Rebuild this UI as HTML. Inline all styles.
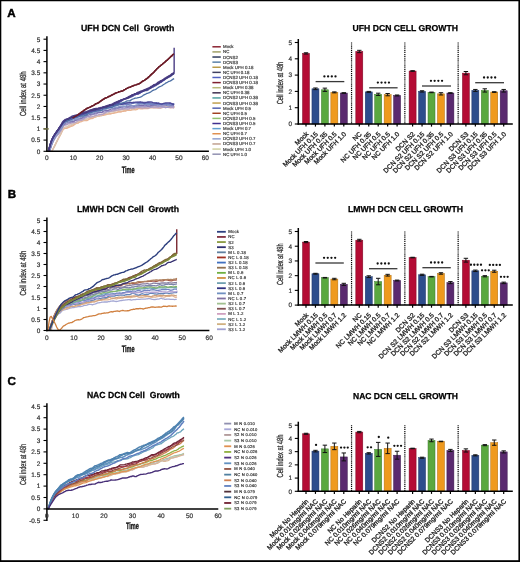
<!DOCTYPE html><html><head><meta charset="utf-8"><style>html,body{margin:0;padding:0;background:#fff;}svg{display:block}text{font-family:"Liberation Sans", sans-serif;text-rendering:geometricPrecision}</style></head><body>
<svg width="520" height="562" viewBox="0 0 520 562" style="will-change:transform">
<rect x="0" y="0" width="520" height="562" fill="#fff"/>
<text x="7.3" y="17.1" font-size="11.6" font-weight="bold" fill="#000" stroke="#000" stroke-width="0.45">A</text>
<text x="7.7" y="198.2" font-size="11.6" font-weight="bold" fill="#000" stroke="#000" stroke-width="0.45">B</text>
<text x="7.6" y="385" font-size="11.6" font-weight="bold" fill="#000" stroke="#000" stroke-width="0.45">C</text>
<path d="M49.28 151.33 L50.33 146.69 L51.39 142.81 L52.44 140.01 L53.5 137.9 L54.56 136.18 L55.61 134.48 L56.67 132.89 L57.72 131.37 L58.78 129.98 L59.84 128.89 L60.89 127.63 L61.95 126.33 L63 125.12 L64.06 124.16 L65.12 123.27 L66.17 122.43 L67.23 121.59 L68.28 120.79 L69.34 120.2 L70.4 119.55 L71.45 118.74 L72.51 118.08 L73.56 117.5 L74.62 116.78 L75.68 116.13 L76.73 115.53 L77.79 114.81 L78.84 114.01 L79.9 113.33 L80.96 112.66 L82.01 111.79 L83.07 111.08 L84.12 110.24 L85.18 109.6 L86.24 108.9 L87.29 108.26 L88.35 107.83 L89.4 107.42 L90.46 106.99 L91.52 106.29 L92.57 105.84 L93.63 105.39 L94.68 104.66 L95.74 103.82 L96.8 103.51 L97.85 103.06 L98.91 102.48 L99.96 101.73 L101.02 100.94 L102.08 100.21 L103.13 99.48 L104.19 98.76 L105.24 98.12 L106.3 97.7 L107.36 97.34 L108.41 96.71 L109.47 96.24 L110.52 95.84 L111.58 95.22 L112.64 94.64 L113.69 94.22 L114.75 93.54 L115.8 93.06 L116.86 92.63 L117.92 92.36 L118.97 91.77 L120.03 91.62 L121.08 91.31 L122.14 91.07 L123.2 90.57 L124.25 89.81 L125.31 89.38 L126.36 88.63 L127.42 88.18 L128.48 87.58 L129.53 87.3 L130.59 86.93 L131.64 86.34 L132.7 85.98 L133.76 85.57 L134.81 85.12 L135.87 84.87 L136.92 84.52 L137.98 84.15 L139.04 83.81 L140.09 83.15 L141.15 82.34 L142.2 81.52 L143.26 80.9 L144.32 80.34 L145.37 79.61 L146.43 78.81 L147.48 78.11 L148.54 77.19 L149.6 76.28 L150.65 75.09 L151.71 74.11 L152.76 73.23 L153.82 72.31 L154.88 71.07 L155.93 69.93 L156.99 68.74 L158.04 67.82 L159.1 66.68 L160.16 66.05 L161.21 65.06 L162.27 64.24 L163.32 63.37 L164.38 62.52 L165.44 61.61 L166.49 60.57 L167.55 59.78 L168.6 58.73 L169.66 57.75 L170.72 56.66 L171.77 55.85 L172.83 54.78 L173.88 53.84" fill="none" stroke="#6c1c28" stroke-width="1.5" stroke-linejoin="round" opacity="1"/>
<path d="M51.92 151.32 L52.97 149.15 L54.03 147.01 L55.08 144.74 L56.14 142.63 L57.2 140.65 L58.25 138.51 L59.31 136.72 L60.36 134.96 L61.42 132.81 L62.48 130.64 L63.53 129.36 L64.59 128.49 L65.64 128.07 L66.7 127.95 L67.76 127.17 L68.81 126.6 L69.87 125.94 L70.92 125.64 L71.98 125.15 L73.04 124.52 L74.09 124.01 L75.15 123.25 L76.2 123.26 L77.26 123.14 L78.32 123 L79.37 121.92 L80.43 121.08 L81.48 120.65 L82.54 120.44 L83.6 120.25 L84.65 119.82 L85.71 119.72 L86.76 119.01 L87.82 118.85 L88.88 118.72 L89.93 118.61 L90.99 118.11 L92.04 118.13 L93.1 117.6 L94.16 117.12 L95.21 117.03 L96.27 116.54 L97.32 116.33 L98.38 115.83 L99.44 115.58 L100.49 115.41 L101.55 115.67 L102.6 115.28 L103.66 114.88 L104.72 114.46 L105.77 114.21 L106.83 113.97 L107.88 113.75 L108.94 113.77 L110 113.78 L111.05 113.7 L112.11 113.43 L113.16 113.2 L114.22 112.73 L115.28 112.23 L116.33 112.05 L117.39 111.9 L118.44 111.65 L119.5 111.76 L120.56 111.87 L121.61 111.55 L122.67 111.28 L123.72 110.76 L124.78 110.67 L125.84 110.51 L126.89 110.39 L127.95 109.96 L129 109.77 L130.06 110.08 L131.12 109.97 L132.17 109.74 L133.23 109.8 L134.28 109.38 L135.34 109.04 L136.4 108.66 L137.45 108.33 L138.51 108.2 L139.56 108.01 L140.62 108.2 L141.68 108.17 L142.73 108.42 L143.79 108.31 L144.84 108.04 L145.9 107.93 L146.96 107.55 L148.01 107.34 L149.07 107.14 L150.12 107.09 L151.18 107.07 L152.24 107.31 L153.29 107.5 L154.35 107.43 L155.4 107.26 L156.46 107.19 L157.52 107.04 L158.57 106.9 L159.63 106.84 L160.68 107.07 L161.74 107.41 L162.8 107.34 L163.85 107.38 L164.91 107.37 L165.96 107.31 L167.02 107.26 L168.08 107.09 L169.13 106.8 L170.19 106.95 L171.24 106.81 L172.3 106.65 L173.36 106.84 L174.41 106.82" fill="none" stroke="#e6c0a4" stroke-width="1.3" stroke-linejoin="round" opacity="1"/>
<path d="M51.92 151.39 L52.97 149.24 L54.03 147.14 L55.08 145.1 L56.14 142.98 L57.2 140.89 L58.25 138.94 L59.31 136.88 L60.36 134.84 L61.42 132.69 L62.48 130.27 L63.53 128.62 L64.59 128.43 L65.64 128.41 L66.7 128.36 L67.76 127.78 L68.81 127.45 L69.87 126.98 L70.92 126.49 L71.98 126.21 L73.04 125.64 L74.09 124.87 L75.15 124.07 L76.2 123.44 L77.26 123.07 L78.32 122.61 L79.37 122.18 L80.43 121.93 L81.48 121.57 L82.54 121.04 L83.6 120.55 L84.65 120.55 L85.71 120.52 L86.76 120.72 L87.82 120.1 L88.88 119.33 L89.93 118.8 L90.99 118.65 L92.04 118.53 L93.1 118.11 L94.16 117.43 L95.21 117.03 L96.27 116.65 L97.32 116.38 L98.38 116.22 L99.44 116.17 L100.49 115.61 L101.55 115.55 L102.6 115.42 L103.66 115.25 L104.72 114.97 L105.77 114.86 L106.83 114.25 L107.88 114.08 L108.94 113.92 L110 113.62 L111.05 113.74 L112.11 113.48 L113.16 113.27 L114.22 113.15 L115.28 112.9 L116.33 112.63 L117.39 112.33 L118.44 111.95 L119.5 111.88 L120.56 111.77 L121.61 111.55 L122.67 111.19 L123.72 111.27 L124.78 110.99 L125.84 110.99 L126.89 110.46 L127.95 110.38 L129 110.21 L130.06 110.27 L131.12 110.08 L132.17 109.51 L133.23 109.17 L134.28 109.55 L135.34 109.84 L136.4 109.69 L137.45 109.28 L138.51 108.51 L139.56 108.67 L140.62 108.76 L141.68 108.81 L142.73 108.91 L143.79 108.71 L144.84 108.32 L145.9 108.53 L146.96 108.62 L148.01 108.65 L149.07 108.21 L150.12 107.96 L151.18 107.88 L152.24 107.93 L153.29 107.85 L154.35 107.78 L155.4 107.81 L156.46 107.59 L157.52 107.98 L158.57 107.98 L159.63 107.91 L160.68 107.79 L161.74 107.79 L162.8 107.45 L163.85 107.11 L164.91 106.91 L165.96 107.01 L167.02 107.15 L168.08 107.39 L169.13 107.7 L170.19 107.74 L171.24 107.62 L172.3 107.66 L173.36 107.3 L174.41 107.32" fill="none" stroke="#e8b494" stroke-width="1.3" stroke-linejoin="round" opacity="1"/>
<path d="M51.92 150.9 L52.97 148.97 L54.03 147.18 L55.08 145.37 L56.14 142.94 L57.2 140.44 L58.25 138.29 L59.31 136.28 L60.36 134.43 L61.42 131.97 L62.48 129.69 L63.53 127.95 L64.59 127.4 L65.64 126.91 L66.7 126.77 L67.76 126.15 L68.81 125.47 L69.87 124.85 L70.92 124.71 L71.98 124.45 L73.04 123.9 L74.09 123.43 L75.15 123.09 L76.2 122.83 L77.26 122.05 L78.32 121.54 L79.37 121.17 L80.43 120.71 L81.48 120.16 L82.54 120.13 L83.6 119.93 L84.65 119.44 L85.71 119.15 L86.76 118.79 L87.82 118.42 L88.88 117.89 L89.93 117.43 L90.99 117.39 L92.04 117.07 L93.1 116.59 L94.16 116.51 L95.21 116.55 L96.27 116.36 L97.32 115.98 L98.38 115.8 L99.44 115.65 L100.49 115.38 L101.55 115.31 L102.6 114.43 L103.66 113.82 L104.72 113.38 L105.77 113.3 L106.83 113.63 L107.88 113.17 L108.94 112.68 L110 112.17 L111.05 111.93 L112.11 111.92 L113.16 111.96 L114.22 111.37 L115.28 110.98 L116.33 110.67 L117.39 110.18 L118.44 110.35 L119.5 110.15 L120.56 110.22 L121.61 110.03 L122.67 109.72 L123.72 109.38 L124.78 109.19 L125.84 109.24 L126.89 109.65 L127.95 109.48 L129 109.04 L130.06 108.3 L131.12 108.54 L132.17 108.88 L133.23 109.08 L134.28 108.36 L135.34 108.25 L136.4 107.8 L137.45 107.62 L138.51 107.45 L139.56 107.42 L140.62 107.39 L141.68 107.4 L142.73 107.58 L143.79 107.04 L144.84 107.21 L145.9 107.26 L146.96 107.27 L148.01 107.29 L149.07 106.96 L150.12 106.96 L151.18 106.71 L152.24 106.67 L153.29 106.26 L154.35 106.03 L155.4 106.28 L156.46 106.17 L157.52 106.4 L158.57 106.44 L159.63 106.59 L160.68 106.83 L161.74 107.03 L162.8 106.86 L163.85 106.59 L164.91 106.37 L165.96 106.41 L167.02 106.71 L168.08 107.16 L169.13 106.94 L170.19 106.47 L171.24 106.6 L172.3 106.7 L173.36 106.47 L174.41 106.7" fill="none" stroke="#d8c4b4" stroke-width="1.3" stroke-linejoin="round" opacity="1"/>
<path d="M49.54 151.54 L50.6 148.13 L51.65 145.07 L52.71 142.55 L53.76 140.45 L54.82 138.79 L55.88 137.21 L56.93 135.89 L57.99 134.76 L59.04 133.67 L60.1 132.17 L61.16 130.51 L62.21 128.57 L63.27 126.5 L64.32 125.36 L65.38 125.15 L66.44 124.86 L67.49 124.29 L68.55 123.96 L69.6 123.65 L70.66 123.28 L71.72 123.02 L72.77 122.71 L73.83 122.71 L74.88 122.61 L75.94 122.24 L77 121.53 L78.05 120.56 L79.11 120.16 L80.16 120.36 L81.22 120.29 L82.28 119.79 L83.33 119.38 L84.39 118.61 L85.44 118.04 L86.5 117.15 L87.56 116.66 L88.61 116.93 L89.67 117.22 L90.72 116.95 L91.78 116.74 L92.84 116.41 L93.89 116.07 L94.95 115.7 L96 115.64 L97.06 115.23 L98.12 114.97 L99.17 114.53 L100.23 114.66 L101.28 114.51 L102.34 114.39 L103.4 113.82 L104.45 113.31 L105.51 112.73 L106.56 111.99 L107.62 111.43 L108.68 111.48 L109.73 111.41 L110.79 111.32 L111.84 111.07 L112.9 111.05 L113.96 110.68 L115.01 110.6 L116.07 110.27 L117.12 110.18 L118.18 109.73 L119.24 109.74 L120.29 109.6 L121.35 109.26 L122.4 109.27 L123.46 109.08 L124.52 108.69 L125.57 108.81 L126.63 108.89 L127.68 109.23 L128.74 108.81 L129.8 108.32 L130.85 107.98 L131.91 107.87 L132.96 108.19 L134.02 108.18 L135.08 107.86 L136.13 107.5 L137.19 107.56 L138.24 107.67 L139.3 107.69 L140.36 107.7 L141.41 108 L142.47 108.22 L143.52 107.94 L144.58 107.71 L145.64 107.75 L146.69 107.8 L147.75 108.14 L148.8 107.85 L149.86 107.54 L150.92 107.18 L151.97 107.25 L153.03 107.36 L154.08 107.7 L155.14 107.39 L156.2 107.52 L157.25 107.38 L158.31 107.49 L159.36 107.81 L160.42 108.05 L161.48 107.39 L162.53 107.11 L163.59 107.27 L164.64 107.46 L165.7 107.76 L166.76 107.39 L167.81 107.47 L168.87 107.21 L169.92 107.27 L170.98 107.55 L172.04 107.42 L173.09 107.67 L174.15 108.24" fill="none" stroke="#b8a0c0" stroke-width="1.3" stroke-linejoin="round" opacity="1"/>
<path d="M49.54 151.5 L50.6 148.06 L51.65 144.9 L52.71 142.21 L53.76 140.03 L54.82 137.93 L55.88 136.25 L56.93 134.91 L57.99 133.53 L59.04 132.27 L60.1 130.96 L61.16 129.38 L62.21 127.58 L63.27 125.57 L64.32 124.77 L65.38 124.44 L66.44 124.27 L67.49 123.72 L68.55 123.05 L69.6 122.55 L70.66 122.17 L71.72 122.07 L72.77 122.19 L73.83 121.71 L74.88 120.91 L75.94 120.26 L77 120.22 L78.05 119.85 L79.11 119.74 L80.16 119.28 L81.22 119.06 L82.28 118.68 L83.33 118.29 L84.39 117.62 L85.44 117.34 L86.5 116.99 L87.56 116.46 L88.61 116.33 L89.67 116.08 L90.72 115.46 L91.78 114.92 L92.84 114.49 L93.89 114.35 L94.95 114.04 L96 114.13 L97.06 113.39 L98.12 112.92 L99.17 112.79 L100.23 112.55 L101.28 112.58 L102.34 112.38 L103.4 112.03 L104.45 112.04 L105.51 111.78 L106.56 111.68 L107.62 111.65 L108.68 111.31 L109.73 110.97 L110.79 110.87 L111.84 110.3 L112.9 109.77 L113.96 109.59 L115.01 109.33 L116.07 109.25 L117.12 108.64 L118.18 108.27 L119.24 108.04 L120.29 107.98 L121.35 108.18 L122.4 108.3 L123.46 108.13 L124.52 107.98 L125.57 107.76 L126.63 107.71 L127.68 107.77 L128.74 107.66 L129.8 107.49 L130.85 107.19 L131.91 107.62 L132.96 107.64 L134.02 107.61 L135.08 107.04 L136.13 106.54 L137.19 106.5 L138.24 106.73 L139.3 106.98 L140.36 106.69 L141.41 106.63 L142.47 106.56 L143.52 106.57 L144.58 106.52 L145.64 106.2 L146.69 106.33 L147.75 106.28 L148.8 106.26 L149.86 106.86 L150.92 107.01 L151.97 106.64 L153.03 106.19 L154.08 105.96 L155.14 105.97 L156.2 106.14 L157.25 106.23 L158.31 106.17 L159.36 106.23 L160.42 106.24 L161.48 106.47 L162.53 106.56 L163.59 106.96 L164.64 106.98 L165.7 107.33 L166.76 107.37 L167.81 107.36 L168.87 107.1 L169.92 106.96 L170.98 106.97 L172.04 106.55 L173.09 106.55 L174.15 106.65" fill="none" stroke="#a098c8" stroke-width="1.3" stroke-linejoin="round" opacity="1"/>
<path d="M49.54 151.34 L50.6 147.75 L51.65 144.47 L52.71 141.67 L53.76 139.43 L54.82 137.4 L55.88 135.57 L56.93 134.04 L57.99 132.71 L59.04 131.34 L60.1 129.83 L61.16 128.27 L62.21 126.5 L63.27 124.79 L64.32 124.28 L65.38 123.16 L66.44 122.74 L67.49 122.33 L68.55 121.83 L69.6 121.97 L70.66 121.76 L71.72 121.6 L72.77 121.57 L73.83 121.11 L74.88 120.58 L75.94 120.15 L77 119.64 L78.05 118.99 L79.11 118.49 L80.16 118.26 L81.22 118.38 L82.28 117.55 L83.33 117.1 L84.39 116.64 L85.44 116.22 L86.5 115.62 L87.56 115.14 L88.61 115.03 L89.67 114.53 L90.72 114.31 L91.78 114.12 L92.84 113.94 L93.89 113.43 L94.95 113.24 L96 112.93 L97.06 112.86 L98.12 112.33 L99.17 112.41 L100.23 112.13 L101.28 112.49 L102.34 111.86 L103.4 111.16 L104.45 110.73 L105.51 110.41 L106.56 110.56 L107.62 110.68 L108.68 110.11 L109.73 109.66 L110.79 109.09 L111.84 108.9 L112.9 108.75 L113.96 108.66 L115.01 108.38 L116.07 107.9 L117.12 107.9 L118.18 107.65 L119.24 107.51 L120.29 107.3 L121.35 107.18 L122.4 107.05 L123.46 106.75 L124.52 106.4 L125.57 106.44 L126.63 106.54 L127.68 106.9 L128.74 106.5 L129.8 105.99 L130.85 105.77 L131.91 105.83 L132.96 106.15 L134.02 106.4 L135.08 105.97 L136.13 105.49 L137.19 105.31 L138.24 105.38 L139.3 105.62 L140.36 105.45 L141.41 105.19 L142.47 105.34 L143.52 105.32 L144.58 105.08 L145.64 105.13 L146.69 105.51 L147.75 106.02 L148.8 105.95 L149.86 105.97 L150.92 105.56 L151.97 105.4 L153.03 105.25 L154.08 105.17 L155.14 104.83 L156.2 105.04 L157.25 104.96 L158.31 104.83 L159.36 104.82 L160.42 104.68 L161.48 105.12 L162.53 105.13 L163.59 105.21 L164.64 105.18 L165.7 105.1 L166.76 105.34 L167.81 105.56 L168.87 105.4 L169.92 105.51 L170.98 105.33 L172.04 105.39 L173.09 105.24 L174.15 105.46" fill="none" stroke="#7c70b0" stroke-width="1.3" stroke-linejoin="round" opacity="1"/>
<path d="M49.54 151.13 L50.6 147.55 L51.65 144.32 L52.71 141.51 L53.76 139.31 L54.82 137.37 L55.88 135.55 L56.93 134.13 L57.99 132.8 L59.04 131.57 L60.1 130.37 L61.16 128.89 L62.21 126.76 L63.27 124.63 L64.32 123.35 L65.38 122.74 L66.44 122.54 L67.49 122.03 L68.55 121.56 L69.6 121.23 L70.66 120.87 L71.72 120.52 L72.77 120.2 L73.83 119.89 L74.88 119.31 L75.94 119.24 L77 118.9 L78.05 119.08 L79.11 118.14 L80.16 117.74 L81.22 116.49 L82.28 116.55 L83.33 116.49 L84.39 116.53 L85.44 115.65 L86.5 114.42 L87.56 113.93 L88.61 113.96 L89.67 113.63 L90.72 113.51 L91.78 113.58 L92.84 113.27 L93.89 112.87 L94.95 112.23 L96 111.67 L97.06 111.64 L98.12 111.57 L99.17 111.24 L100.23 110.89 L101.28 110.68 L102.34 110.27 L103.4 110.05 L104.45 109.82 L105.51 109.17 L106.56 109.04 L107.62 108.53 L108.68 108.16 L109.73 108.05 L110.79 107.91 L111.84 107.88 L112.9 108.06 L113.96 107.97 L115.01 107.66 L116.07 107.45 L117.12 107.25 L118.18 106.97 L119.24 106.53 L120.29 106.27 L121.35 106.36 L122.4 106.18 L123.46 106.42 L124.52 106.66 L125.57 106.61 L126.63 105.54 L127.68 104.83 L128.74 105.14 L129.8 105.41 L130.85 105.96 L131.91 105.8 L132.96 105.79 L134.02 105.59 L135.08 105.47 L136.13 105.14 L137.19 105.02 L138.24 104.89 L139.3 104.42 L140.36 104.21 L141.41 104.04 L142.47 103.96 L143.52 103.98 L144.58 104.45 L145.64 104.42 L146.69 104.67 L147.75 104.61 L148.8 104.58 L149.86 104.47 L150.92 104.11 L151.97 104.49 L153.03 104.29 L154.08 104.52 L155.14 104.6 L156.2 104.33 L157.25 104.37 L158.31 104.54 L159.36 104.97 L160.42 104.75 L161.48 104.63 L162.53 104.38 L163.59 104.33 L164.64 104.33 L165.7 104.18 L166.76 104.74 L167.81 105.41 L168.87 105.32 L169.92 105.12 L170.98 104.79 L172.04 104.83 L173.09 104.58 L174.15 104.66" fill="none" stroke="#8898c8" stroke-width="1.3" stroke-linejoin="round" opacity="1"/>
<path d="M48.48 151.3 L49.54 147.37 L50.6 143.83 L51.65 140.86 L52.71 138.46 L53.76 136.39 L54.82 134.67 L55.88 133.13 L56.93 131.9 L57.99 129.97 L59.04 128.41 L60.1 126.7 L61.16 125.16 L62.21 123.58 L63.27 122.54 L64.32 121.62 L65.38 121.33 L66.44 120.74 L67.49 120.18 L68.55 119.57 L69.6 118.97 L70.66 118.61 L71.72 117.82 L72.77 117.62 L73.83 117.02 L74.88 116.61 L75.94 116.7 L77 116.88 L78.05 116.61 L79.11 115.86 L80.16 115.17 L81.22 114.89 L82.28 114.4 L83.33 114.22 L84.39 113.99 L85.44 113.61 L86.5 113.31 L87.56 112.65 L88.61 112.07 L89.67 111.74 L90.72 111.36 L91.78 111.14 L92.84 110.92 L93.89 110.15 L94.95 109.9 L96 109.82 L97.06 109.61 L98.12 109.68 L99.17 109.19 L100.23 108.61 L101.28 108.53 L102.34 108.04 L103.4 107.4 L104.45 107.24 L105.51 107.17 L106.56 106.83 L107.62 106.49 L108.68 106.4 L109.73 106.1 L110.79 105.94 L111.84 105.86 L112.9 105.47 L113.96 105.26 L115.01 104.94 L116.07 104.65 L117.12 104.5 L118.18 104.35 L119.24 104.13 L120.29 104.04 L121.35 103.63 L122.4 103.44 L123.46 103.56 L124.52 103.64 L125.57 103.16 L126.63 102.83 L127.68 102.97 L128.74 102.92 L129.8 103.02 L130.85 102.85 L131.91 102.53 L132.96 102.41 L134.02 102.41 L135.08 102.57 L136.13 102.53 L137.19 102.28 L138.24 102.46 L139.3 102.35 L140.36 102.5 L141.41 102.77 L142.47 102.5 L143.52 102.43 L144.58 102.45 L145.64 102.44 L146.69 102.34 L147.75 102.45 L148.8 102.79 L149.86 102.99 L150.92 103.05 L151.97 103.15 L153.03 103.18 L154.08 103.12 L155.14 102.89 L156.2 102.66 L157.25 103.12 L158.31 103.17 L159.36 103.37 L160.42 103.9 L161.48 103.88 L162.53 104 L163.59 103.82 L164.64 103.68 L165.7 103.7 L166.76 103.73 L167.81 103.79 L168.87 103.83 L169.92 103.42 L170.98 103.55 L172.04 103.62 L173.09 103.8 L174.15 103.79" fill="none" stroke="#5a60b0" stroke-width="1.3" stroke-linejoin="round" opacity="1"/>
<path d="M48.48 151.36 L49.54 147.36 L50.6 143.72 L51.65 140.71 L52.71 138.43 L53.76 136.56 L54.82 135.07 L55.88 133.4 L56.93 132.01 L57.99 130.56 L59.04 129.02 L60.1 127.4 L61.16 126.16 L62.21 124.89 L63.27 123.74 L64.32 122.52 L65.38 121.52 L66.44 120.97 L67.49 120.68 L68.55 120.54 L69.6 120.17 L70.66 119.42 L71.72 118.96 L72.77 118.93 L73.83 118.51 L74.88 118.04 L75.94 117.82 L77 117.77 L78.05 117.04 L79.11 116.53 L80.16 115.98 L81.22 115.66 L82.28 115.42 L83.33 114.8 L84.39 114.45 L85.44 114.3 L86.5 114.14 L87.56 113.13 L88.61 112.57 L89.67 112.26 L90.72 111.8 L91.78 111.95 L92.84 111.56 L93.89 111.41 L94.95 111.37 L96 110.82 L97.06 110.68 L98.12 110.46 L99.17 109.76 L100.23 109.24 L101.28 108.96 L102.34 108.77 L103.4 108.31 L104.45 108.15 L105.51 107.98 L106.56 107.83 L107.62 107.17 L108.68 106.65 L109.73 106.14 L110.79 106.28 L111.84 106.06 L112.9 106.27 L113.96 106 L115.01 106.1 L116.07 105.79 L117.12 105.31 L118.18 105.26 L119.24 104.78 L120.29 104.55 L121.35 104.54 L122.4 104.68 L123.46 104.81 L124.52 104.72 L125.57 104.41 L126.63 104.29 L127.68 104.16 L128.74 104.27 L129.8 104.15 L130.85 104.1 L131.91 103.54 L132.96 103.21 L134.02 103.23 L135.08 102.78 L136.13 102.83 L137.19 103.2 L138.24 103.72 L139.3 103.45 L140.36 103.44 L141.41 103.12 L142.47 103.47 L143.52 103.59 L144.58 103.87 L145.64 103.66 L146.69 103.5 L147.75 103.68 L148.8 103.64 L149.86 103.85 L150.92 103.98 L151.97 104.16 L153.03 104.38 L154.08 104.34 L155.14 104.15 L156.2 104.16 L157.25 104.43 L158.31 104.49 L159.36 104.46 L160.42 104.31 L161.48 104.41 L162.53 104.19 L163.59 104.1 L164.64 104.27 L165.7 104.16 L166.76 104.04 L167.81 103.96 L168.87 104.44 L169.92 104.72 L170.98 104.84 L172.04 104.46 L173.09 104.04 L174.15 104" fill="none" stroke="#7080c0" stroke-width="1.3" stroke-linejoin="round" opacity="1"/>
<path d="M48.48 151.28 L49.54 147.22 L50.6 143.53 L51.65 140.53 L52.71 138.11 L53.76 136.03 L54.82 134.27 L55.88 132.73 L56.93 131.17 L57.99 129.75 L59.04 128.44 L60.1 126.78 L61.16 125.41 L62.21 123.94 L63.27 122.44 L64.32 121.51 L65.38 121.02 L66.44 120.48 L67.49 120.07 L68.55 119.92 L69.6 119.2 L70.66 118.92 L71.72 118.89 L72.77 118.06 L73.83 117.46 L74.88 116.72 L75.94 116.57 L77 116.27 L78.05 115.92 L79.11 115.65 L80.16 115.28 L81.22 114.73 L82.28 114.48 L83.33 114.16 L84.39 113.85 L85.44 113.56 L86.5 113.12 L87.56 112.8 L88.61 112.53 L89.67 112.28 L90.72 111.94 L91.78 111.41 L92.84 110.75 L93.89 110.09 L94.95 109.68 L96 109.32 L97.06 109.02 L98.12 108.63 L99.17 108.6 L100.23 108.21 L101.28 108.04 L102.34 107.85 L103.4 107.62 L104.45 107.17 L105.51 106.98 L106.56 106.7 L107.62 106.38 L108.68 105.61 L109.73 105.23 L110.79 105.6 L111.84 105.43 L112.9 105.37 L113.96 105.06 L115.01 104.34 L116.07 104.1 L117.12 103.47 L118.18 103.05 L119.24 103.6 L120.29 104.05 L121.35 104.25 L122.4 104.09 L123.46 103.89 L124.52 103.26 L125.57 103.19 L126.63 103.12 L127.68 102.8 L128.74 102.72 L129.8 102.33 L130.85 102.4 L131.91 102.88 L132.96 102.65 L134.02 102.38 L135.08 102.23 L136.13 102.05 L137.19 102.06 L138.24 102.06 L139.3 102.2 L140.36 101.83 L141.41 102.09 L142.47 102.42 L143.52 102.88 L144.58 103.03 L145.64 102.63 L146.69 102.41 L147.75 102.02 L148.8 102 L149.86 101.98 L150.92 101.9 L151.97 102.15 L153.03 102.61 L154.08 102.79 L155.14 103.11 L156.2 103.31 L157.25 103.34 L158.31 103.21 L159.36 103.61 L160.42 103.95 L161.48 104.09 L162.53 103.95 L163.59 103.31 L164.64 103.11 L165.7 102.93 L166.76 102.83 L167.81 102.93 L168.87 102.79 L169.92 102.89 L170.98 103.2 L172.04 103.87 L173.09 104.32 L174.15 104.26" fill="none" stroke="#4c4898" stroke-width="1.3" stroke-linejoin="round" opacity="1"/>
<path d="M48.48 151.29 L49.54 147.26 L50.6 143.59 L51.65 140.57 L52.71 138.4 L53.76 136.67 L54.82 134.9 L55.88 133.01 L56.93 131.29 L57.99 129.69 L59.04 128.69 L60.1 127.39 L61.16 125.82 L62.21 124.2 L63.27 123.04 L64.32 122.22 L65.38 121.54 L66.44 121.13 L67.49 120.72 L68.55 120.23 L69.6 119.77 L70.66 119.43 L71.72 119 L72.77 118.56 L73.83 118.15 L74.88 117.74 L75.94 117.49 L77 116.99 L78.05 116.73 L79.11 116.38 L80.16 115.99 L81.22 115.87 L82.28 115.79 L83.33 115.98 L84.39 115.65 L85.44 115.25 L86.5 114.92 L87.56 113.92 L88.61 113.2 L89.67 112.74 L90.72 112.62 L91.78 112.32 L92.84 111.88 L93.89 111.46 L94.95 111.06 L96 111.05 L97.06 110.6 L98.12 110.62 L99.17 110.69 L100.23 110.52 L101.28 110.26 L102.34 109.79 L103.4 108.99 L104.45 108.68 L105.51 108.31 L106.56 108.39 L107.62 107.96 L108.68 107.66 L109.73 107.24 L110.79 107.32 L111.84 107.33 L112.9 106.83 L113.96 106.17 L115.01 105.64 L116.07 105.17 L117.12 104.97 L118.18 104.76 L119.24 104.06 L120.29 103.63 L121.35 103.19 L122.4 102.91 L123.46 102.51 L124.52 102.31 L125.57 101.73 L126.63 101.02 L127.68 100.84 L128.74 100.88 L129.8 100.84 L130.85 100.14 L131.91 99.46 L132.96 99.01 L134.02 98.62 L135.08 98.17 L136.13 98.22 L137.19 97.98 L138.24 97.7 L139.3 97.43 L140.36 97.05 L141.41 96.56 L142.47 95.96 L143.52 95.11 L144.58 94.62 L145.64 94.12 L146.69 93.47 L147.75 93.28 L148.8 92.79 L149.86 92.31 L150.92 91.84 L151.97 91.05 L153.03 90.39 L154.08 89.87 L155.14 89.54 L156.2 89.08 L157.25 88.29 L158.31 87.51 L159.36 86.8 L160.42 86.43 L161.48 85.99 L162.53 85.34 L163.59 84.51 L164.64 83.99 L165.7 83.08 L166.76 82.68 L167.81 81.99 L168.87 81.45 L169.92 81.1 L170.98 80.68 L172.04 79.85 L173.09 79.16 L174.15 78.58" fill="none" stroke="#4d70a4" stroke-width="1.3" stroke-linejoin="round" opacity="1"/>
<path d="M48.48 151.39 L49.54 147.25 L50.6 143.55 L51.65 140.53 L52.71 138.28 L53.76 136.41 L54.82 134.77 L55.88 133.16 L56.93 131.54 L57.99 130.11 L59.04 128.42 L60.1 126.69 L61.16 125.56 L62.21 124.16 L63.27 122.69 L64.32 121.76 L65.38 120.72 L66.44 119.88 L67.49 119.4 L68.55 118.93 L69.6 118.63 L70.66 118.44 L71.72 118.29 L72.77 117.92 L73.83 117.48 L74.88 117.22 L75.94 116.57 L77 116.1 L78.05 115.57 L79.11 115.1 L80.16 114.7 L81.22 114.15 L82.28 113.66 L83.33 113.3 L84.39 112.93 L85.44 112.74 L86.5 112.5 L87.56 112.15 L88.61 111.91 L89.67 111.29 L90.72 111.35 L91.78 111.46 L92.84 110.99 L93.89 110.85 L94.95 110.46 L96 110.33 L97.06 110.02 L98.12 109.87 L99.17 109.51 L100.23 109.17 L101.28 108.71 L102.34 108.55 L103.4 107.95 L104.45 107.62 L105.51 107.37 L106.56 106.94 L107.62 106.84 L108.68 106.64 L109.73 106.28 L110.79 105.8 L111.84 105.01 L112.9 104.51 L113.96 104.22 L115.01 103.8 L116.07 103.56 L117.12 103.09 L118.18 102.51 L119.24 102.26 L120.29 101.79 L121.35 101.2 L122.4 100.31 L123.46 99.58 L124.52 98.99 L125.57 98.86 L126.63 98.53 L127.68 98.21 L128.74 97.88 L129.8 97.5 L130.85 96.96 L131.91 96.62 L132.96 96.2 L134.02 95.29 L135.08 94.54 L136.13 94.24 L137.19 93.98 L138.24 93.97 L139.3 93.42 L140.36 92.79 L141.41 92 L142.47 91.68 L143.52 91.16 L144.58 90.76 L145.64 90.67 L146.69 90.63 L147.75 90.34 L148.8 89.18 L149.86 88.27 L150.92 87.66 L151.97 87.28 L153.03 87.02 L154.08 86.46 L155.14 85.97 L156.2 85.35 L157.25 84.54 L158.31 83.98 L159.36 83.3 L160.42 82.22 L161.48 81.74 L162.53 80.96 L163.59 80.31 L164.64 79.77 L165.7 78.9 L166.76 78.2 L167.81 77.67 L168.87 77.14 L169.92 76.63 L170.98 76.06 L172.04 74.97 L173.09 74.19 L174.15 73.42" fill="none" stroke="#5a5aa8" stroke-width="1.4" stroke-linejoin="round" opacity="1"/>
<path d="M48.48 151.3 L49.54 147.13 L50.6 143.4 L51.65 140.31 L52.71 138.06 L53.76 136.12 L54.82 134.49 L55.88 133.14 L56.93 131.75 L57.99 130.23 L59.04 128.44 L60.1 126.77 L61.16 125.26 L62.21 123.91 L63.27 122.59 L64.32 121.41 L65.38 120.27 L66.44 119.58 L67.49 119.17 L68.55 118.54 L69.6 118.13 L70.66 117.6 L71.72 117.43 L72.77 117.11 L73.83 116.83 L74.88 116.7 L75.94 116.13 L77 115.62 L78.05 115.43 L79.11 115.28 L80.16 114.71 L81.22 114.44 L82.28 114.01 L83.33 113.62 L84.39 113.01 L85.44 112.37 L86.5 112.11 L87.56 111.89 L88.61 111.83 L89.67 111.45 L90.72 111.28 L91.78 110.67 L92.84 110.48 L93.89 110.13 L94.95 110.08 L96 109.62 L97.06 109.33 L98.12 109.18 L99.17 108.76 L100.23 108.47 L101.28 108.19 L102.34 107.81 L103.4 107.52 L104.45 107.17 L105.51 106.87 L106.56 106.72 L107.62 106.48 L108.68 105.91 L109.73 105.7 L110.79 105.33 L111.84 104.99 L112.9 104.58 L113.96 103.96 L115.01 103.52 L116.07 103.12 L117.12 102.96 L118.18 102.67 L119.24 101.9 L120.29 101.02 L121.35 100.51 L122.4 99.7 L123.46 99.18 L124.52 98.73 L125.57 98.58 L126.63 98.3 L127.68 97.66 L128.74 97.16 L129.8 96.78 L130.85 95.97 L131.91 95.02 L132.96 94.61 L134.02 94.53 L135.08 94.74 L136.13 94.45 L137.19 94.03 L138.24 93.75 L139.3 93.3 L140.36 92.73 L141.41 92.18 L142.47 91.46 L143.52 90.64 L144.58 89.97 L145.64 89.54 L146.69 89.18 L147.75 88.8 L148.8 88.62 L149.86 88.5 L150.92 88 L151.97 87.02 L153.03 86.02 L154.08 85.82 L155.14 85.16 L156.2 84.46 L157.25 84.08 L158.31 83.52 L159.36 82.94 L160.42 82.42 L161.48 82 L162.53 80.98 L163.59 80.19 L164.64 78.93 L165.7 78.51 L166.76 78.12 L167.81 77.54 L168.87 76.77 L169.92 75.85 L170.98 75.28 L172.04 74.61 L173.09 74.09 L174.15 73.24" fill="none" stroke="#5048a0" stroke-width="1.4" stroke-linejoin="round" opacity="1"/>
<path d="M48.48 151.24 L49.54 147.06 L50.6 143.36 L51.65 140.25 L52.71 137.92 L53.76 136.15 L54.82 134.45 L55.88 132.79 L56.93 131.25 L57.99 129.8 L59.04 128.2 L60.1 126.7 L61.16 125.17 L62.21 123.32 L63.27 121.88 L64.32 120.91 L65.38 120.14 L66.44 119.38 L67.49 119.18 L68.55 118.95 L69.6 118.4 L70.66 117.65 L71.72 117.09 L72.77 116.93 L73.83 116.91 L74.88 116.6 L75.94 116.14 L77 115.53 L78.05 115.2 L79.11 114.6 L80.16 114.12 L81.22 113.47 L82.28 113.32 L83.33 112.93 L84.39 112.88 L85.44 112.62 L86.5 112.38 L87.56 111.59 L88.61 111.03 L89.67 110.41 L90.72 110.47 L91.78 110.15 L92.84 110.1 L93.89 109.88 L94.95 109.85 L96 109.35 L97.06 108.94 L98.12 108.64 L99.17 108.34 L100.23 108.35 L101.28 107.92 L102.34 107.49 L103.4 107.02 L104.45 106.96 L105.51 106.71 L106.56 106.76 L107.62 106.19 L108.68 105.66 L109.73 105.16 L110.79 104.99 L111.84 104.65 L112.9 104.69 L113.96 103.59 L115.01 102.8 L116.07 102.27 L117.12 102.01 L118.18 101.61 L119.24 100.86 L120.29 100.39 L121.35 99.84 L122.4 99.61 L123.46 99.32 L124.52 98.92 L125.57 98.83 L126.63 98.33 L127.68 98.14 L128.74 97.34 L129.8 96.87 L130.85 96.14 L131.91 95.61 L132.96 95.01 L134.02 94.34 L135.08 93.67 L136.13 93.41 L137.19 92.96 L138.24 92.86 L139.3 92.2 L140.36 91.84 L141.41 91.26 L142.47 91.13 L143.52 90.9 L144.58 90.63 L145.64 90.09 L146.69 89.72 L147.75 88.94 L148.8 88.64 L149.86 88 L150.92 87.52 L151.97 86.49 L153.03 85.64 L154.08 85.22 L155.14 84.87 L156.2 84.4 L157.25 83.83 L158.31 83.15 L159.36 82.35 L160.42 81.43 L161.48 80.64 L162.53 80.07 L163.59 79.62 L164.64 79.28 L165.7 78.53 L166.76 77.83 L167.81 77.02 L168.87 76.53 L169.92 75.91 L170.98 75.39 L172.04 74.5 L173.09 73.9 L174.15 72.83" fill="none" stroke="#3e3a72" stroke-width="1.4" stroke-linejoin="round" opacity="1"/>
<path d="M48.48 151.24 L49.54 147.03 L50.6 143.26 L51.65 140.17 L52.71 137.77 L53.76 135.85 L54.82 134.24 L55.88 132.68 L56.93 131.26 L57.99 129.78 L59.04 128.05 L60.1 126.26 L61.16 124.59 L62.21 122.52 L63.27 121.05 L64.32 120.24 L65.38 119.42 L66.44 119.07 L67.49 118.64 L68.55 118.38 L69.6 117.6 L70.66 117 L71.72 116.33 L72.77 115.83 L73.83 115.57 L74.88 115.31 L75.94 115.16 L77 114.86 L78.05 114.66 L79.11 114.34 L80.16 113.62 L81.22 113.34 L82.28 112.7 L83.33 112.27 L84.39 112.03 L85.44 112.02 L86.5 111.74 L87.56 111.22 L88.61 110.89 L89.67 110.45 L90.72 109.91 L91.78 109.77 L92.84 109.25 L93.89 108.77 L94.95 108.64 L96 108.49 L97.06 108.38 L98.12 108.25 L99.17 107.95 L100.23 107.77 L101.28 107.37 L102.34 107.19 L103.4 106.71 L104.45 106.57 L105.51 106.13 L106.56 105.79 L107.62 105.34 L108.68 105.08 L109.73 104.68 L110.79 104.48 L111.84 104.13 L112.9 103.72 L113.96 103.08 L115.01 102.5 L116.07 102.15 L117.12 101.77 L118.18 101.25 L119.24 100.8 L120.29 100.35 L121.35 99.94 L122.4 99.7 L123.46 99.33 L124.52 98.97 L125.57 98.42 L126.63 97.85 L127.68 97.29 L128.74 96.72 L129.8 96.15 L130.85 95.74 L131.91 95.04 L132.96 94.64 L134.02 94.29 L135.08 93.87 L136.13 93.67 L137.19 92.9 L138.24 92.11 L139.3 91.91 L140.36 91.24 L141.41 91.25 L142.47 90.6 L143.52 90.29 L144.58 89.72 L145.64 89.3 L146.69 88.93 L147.75 88.35 L148.8 87.9 L149.86 87.3 L150.92 86.51 L151.97 86.08 L153.03 85.44 L154.08 84.69 L155.14 84.51 L156.2 83.89 L157.25 82.88 L158.31 82.18 L159.36 81.56 L160.42 80.98 L161.48 80.76 L162.53 80.02 L163.59 79.23 L164.64 78.32 L165.7 77.93 L166.76 77.19 L167.81 76.52 L168.87 75.85 L169.92 75.31 L170.98 74.49 L172.04 73.59 L173.09 73 L174.15 72.3 L174.15 47.72" fill="none" stroke="#4a3c84" stroke-width="1.4" stroke-linejoin="round" opacity="1"/>
<path d="M72.51 118.08 L73.56 117.5 L74.62 116.78 L75.68 116.13 L76.73 115.53 L77.79 114.81 L78.84 114.01 L79.9 113.33 L80.96 112.66 L82.01 111.79 L83.07 111.08 L84.12 110.24 L85.18 109.6 L86.24 108.9 L87.29 108.26 L88.35 107.83 L89.4 107.42 L90.46 106.99 L91.52 106.29 L92.57 105.84 L93.63 105.39 L94.68 104.66 L95.74 103.82 L96.8 103.51 L97.85 103.06 L98.91 102.48 L99.96 101.73 L101.02 100.94 L102.08 100.21 L103.13 99.48 L104.19 98.76 L105.24 98.12 L106.3 97.7 L107.36 97.34 L108.41 96.71 L109.47 96.24 L110.52 95.84 L111.58 95.22 L112.64 94.64 L113.69 94.22 L114.75 93.54 L115.8 93.06 L116.86 92.63 L117.92 92.36 L118.97 91.77 L120.03 91.62 L121.08 91.31 L122.14 91.07 L123.2 90.57 L124.25 89.81 L125.31 89.38 L126.36 88.63 L127.42 88.18 L128.48 87.58 L129.53 87.3 L130.59 86.93 L131.64 86.34 L132.7 85.98 L133.76 85.57 L134.81 85.12 L135.87 84.87 L136.92 84.52 L137.98 84.15 L139.04 83.81 L140.09 83.15 L141.15 82.34 L142.2 81.52 L143.26 80.9 L144.32 80.34 L145.37 79.61 L146.43 78.81 L147.48 78.11 L148.54 77.19 L149.6 76.28 L150.65 75.09 L151.71 74.11 L152.76 73.23 L153.82 72.31 L154.88 71.07 L155.93 69.93 L156.99 68.74 L158.04 67.82 L159.1 66.68 L160.16 66.05 L161.21 65.06 L162.27 64.24 L163.32 63.37 L164.38 62.52 L165.44 61.61 L166.49 60.57 L167.55 59.78 L168.6 58.73 L169.66 57.75 L170.72 56.66 L171.77 55.85 L172.83 54.78 L173.88 53.84" fill="none" stroke="#6c1c28" stroke-width="1.5" stroke-linejoin="round" opacity="1"/>
<line x1="46.9" y1="36.2" x2="46.9" y2="152" stroke="#000" stroke-width="1.5"/>
<line x1="46.199999999999996" y1="151.3" x2="208.9" y2="151.3" stroke="#000" stroke-width="1.5"/>
<line x1="43.5" y1="151.3" x2="46.9" y2="151.3" stroke="#000" stroke-width="1.1"/>
<text x="40.2" y="153.6" font-size="6.4" text-anchor="end" fill="#333" stroke="#333" stroke-width="0.2">0</text>
<line x1="43.5" y1="140.09" x2="46.9" y2="140.09" stroke="#000" stroke-width="1.1"/>
<text x="40.2" y="142.39" font-size="6.4" text-anchor="end" fill="#333" stroke="#333" stroke-width="0.2">0.5</text>
<line x1="43.5" y1="128.88" x2="46.9" y2="128.88" stroke="#000" stroke-width="1.1"/>
<text x="40.2" y="131.18" font-size="6.4" text-anchor="end" fill="#333" stroke="#333" stroke-width="0.2">1</text>
<line x1="43.5" y1="117.67" x2="46.9" y2="117.67" stroke="#000" stroke-width="1.1"/>
<text x="40.2" y="119.97" font-size="6.4" text-anchor="end" fill="#333" stroke="#333" stroke-width="0.2">1.5</text>
<line x1="43.5" y1="106.46" x2="46.9" y2="106.46" stroke="#000" stroke-width="1.1"/>
<text x="40.2" y="108.76" font-size="6.4" text-anchor="end" fill="#333" stroke="#333" stroke-width="0.2">2</text>
<line x1="43.5" y1="95.25" x2="46.9" y2="95.25" stroke="#000" stroke-width="1.1"/>
<text x="40.2" y="97.55" font-size="6.4" text-anchor="end" fill="#333" stroke="#333" stroke-width="0.2">2.5</text>
<line x1="43.5" y1="84.04" x2="46.9" y2="84.04" stroke="#000" stroke-width="1.1"/>
<text x="40.2" y="86.34" font-size="6.4" text-anchor="end" fill="#333" stroke="#333" stroke-width="0.2">3</text>
<line x1="43.5" y1="72.83" x2="46.9" y2="72.83" stroke="#000" stroke-width="1.1"/>
<text x="40.2" y="75.13" font-size="6.4" text-anchor="end" fill="#333" stroke="#333" stroke-width="0.2">3.5</text>
<line x1="43.5" y1="61.62" x2="46.9" y2="61.62" stroke="#000" stroke-width="1.1"/>
<text x="40.2" y="63.92" font-size="6.4" text-anchor="end" fill="#333" stroke="#333" stroke-width="0.2">4</text>
<line x1="43.5" y1="50.41" x2="46.9" y2="50.41" stroke="#000" stroke-width="1.1"/>
<text x="40.2" y="52.71" font-size="6.4" text-anchor="end" fill="#333" stroke="#333" stroke-width="0.2">4.5</text>
<line x1="43.5" y1="39.2" x2="46.9" y2="39.2" stroke="#000" stroke-width="1.1"/>
<text x="40.2" y="41.5" font-size="6.4" text-anchor="end" fill="#333" stroke="#333" stroke-width="0.2">5</text>
<text x="46.9" y="159.7" font-size="6.5" text-anchor="middle" fill="#333" stroke="#333" stroke-width="0.2">0</text>
<text x="73.3" y="159.7" font-size="6.5" text-anchor="middle" fill="#333" stroke="#333" stroke-width="0.2">10</text>
<text x="99.7" y="159.7" font-size="6.5" text-anchor="middle" fill="#333" stroke="#333" stroke-width="0.2">20</text>
<text x="126.1" y="159.7" font-size="6.5" text-anchor="middle" fill="#333" stroke="#333" stroke-width="0.2">30</text>
<text x="152.5" y="159.7" font-size="6.5" text-anchor="middle" fill="#333" stroke="#333" stroke-width="0.2">40</text>
<text x="178.9" y="159.7" font-size="6.5" text-anchor="middle" fill="#333" stroke="#333" stroke-width="0.2">50</text>
<text x="205.3" y="159.7" font-size="6.5" text-anchor="middle" fill="#333" stroke="#333" stroke-width="0.2">60</text>
<text x="128.2" y="172.6" font-size="9.3" font-weight="bold" text-anchor="middle" textLength="13" lengthAdjust="spacingAndGlyphs" fill="#111" stroke="#111" stroke-width="0.3">Time</text>
<text transform="translate(25.9 93.7) rotate(-90)" font-size="8.8" text-anchor="middle" textLength="44.7" lengthAdjust="spacingAndGlyphs" fill="#333" stroke="#333" stroke-width="0.3">Cell index at 48h</text>
<text x="81" y="31.2" font-size="8.8" font-weight="bold" textLength="93.4" lengthAdjust="spacingAndGlyphs" fill="#000" stroke="#000" stroke-width="0.25" style="white-space:pre">UFH DCN Cell  Growth</text>
<line x1="212.4" y1="46.8" x2="220.8" y2="46.8" stroke="#8b2332" stroke-width="1.5"/>
<text x="223" y="48.3" font-size="4.4" letter-spacing="0.0" fill="#3a3a3a" stroke="#3a3a3a" stroke-width="0.18">Mock</text>
<line x1="212.4" y1="51.91" x2="220.8" y2="51.91" stroke="#a0a068" stroke-width="1.5"/>
<text x="223" y="53.41" font-size="4.4" letter-spacing="0.0" fill="#3a3a3a" stroke="#3a3a3a" stroke-width="0.18">NC</text>
<line x1="212.4" y1="57.03" x2="220.8" y2="57.03" stroke="#2e3a5c" stroke-width="1.5"/>
<text x="223" y="58.53" font-size="4.4" letter-spacing="0.0" fill="#3a3a3a" stroke="#3a3a3a" stroke-width="0.18">DCNS2</text>
<line x1="212.4" y1="62.14" x2="220.8" y2="62.14" stroke="#5a80a8" stroke-width="1.5"/>
<text x="223" y="63.64" font-size="4.4" letter-spacing="0.0" fill="#3a3a3a" stroke="#3a3a3a" stroke-width="0.18">DCNS3</text>
<line x1="212.4" y1="67.26" x2="220.8" y2="67.26" stroke="#b89a48" stroke-width="1.5"/>
<text x="223" y="68.76" font-size="4.4" letter-spacing="0.0" fill="#3a3a3a" stroke="#3a3a3a" stroke-width="0.18">Mock UFH 0.18</text>
<line x1="212.4" y1="72.37" x2="220.8" y2="72.37" stroke="#404060" stroke-width="1.5"/>
<text x="223" y="73.87" font-size="4.4" letter-spacing="0.0" fill="#3a3a3a" stroke="#3a3a3a" stroke-width="0.18">NC UFH 0.18</text>
<line x1="212.4" y1="77.48" x2="220.8" y2="77.48" stroke="#5060c0" stroke-width="1.5"/>
<text x="223" y="78.98" font-size="4.4" letter-spacing="0.0" fill="#3a3a3a" stroke="#3a3a3a" stroke-width="0.18">DCNS2 UFH 0.18</text>
<line x1="212.4" y1="82.6" x2="220.8" y2="82.6" stroke="#802030" stroke-width="1.5"/>
<text x="223" y="84.1" font-size="4.4" letter-spacing="0.0" fill="#3a3a3a" stroke="#3a3a3a" stroke-width="0.18">DCNS3 UFH 0.18</text>
<line x1="212.4" y1="87.71" x2="220.8" y2="87.71" stroke="#b8b878" stroke-width="1.5"/>
<text x="223" y="89.21" font-size="4.4" letter-spacing="0.0" fill="#3a3a3a" stroke="#3a3a3a" stroke-width="0.18">Mock UFH 0.38</text>
<line x1="212.4" y1="92.83" x2="220.8" y2="92.83" stroke="#403050" stroke-width="1.5"/>
<text x="223" y="94.33" font-size="4.4" letter-spacing="0.0" fill="#3a3a3a" stroke="#3a3a3a" stroke-width="0.18">NC UFH 0.38</text>
<line x1="212.4" y1="97.94" x2="220.8" y2="97.94" stroke="#50a0a0" stroke-width="1.5"/>
<text x="223" y="99.44" font-size="4.4" letter-spacing="0.0" fill="#3a3a3a" stroke="#3a3a3a" stroke-width="0.18">DCNS2 UFH 0.38</text>
<line x1="212.4" y1="103.05" x2="220.8" y2="103.05" stroke="#c0a050" stroke-width="1.5"/>
<text x="223" y="104.55" font-size="4.4" letter-spacing="0.0" fill="#3a3a3a" stroke="#3a3a3a" stroke-width="0.18">DCNS3 UFH 0.38</text>
<line x1="212.4" y1="108.17" x2="220.8" y2="108.17" stroke="#5060b0" stroke-width="1.5"/>
<text x="223" y="109.67" font-size="4.4" letter-spacing="0.0" fill="#3a3a3a" stroke="#3a3a3a" stroke-width="0.18">Mock UFH 0.5</text>
<line x1="212.4" y1="113.28" x2="220.8" y2="113.28" stroke="#a04020" stroke-width="1.5"/>
<text x="223" y="114.78" font-size="4.4" letter-spacing="0.0" fill="#3a3a3a" stroke="#3a3a3a" stroke-width="0.18">NC UFH 0.5</text>
<line x1="212.4" y1="118.4" x2="220.8" y2="118.4" stroke="#90c070" stroke-width="1.5"/>
<text x="223" y="119.9" font-size="4.4" letter-spacing="0.0" fill="#3a3a3a" stroke="#3a3a3a" stroke-width="0.18">DCNS2 UFH 0.5</text>
<line x1="212.4" y1="123.51" x2="220.8" y2="123.51" stroke="#403090" stroke-width="1.5"/>
<text x="223" y="125.01" font-size="4.4" letter-spacing="0.0" fill="#3a3a3a" stroke="#3a3a3a" stroke-width="0.18">DCNS3 UFH 0.5</text>
<line x1="212.4" y1="128.62" x2="220.8" y2="128.62" stroke="#60a0d0" stroke-width="1.5"/>
<text x="223" y="130.12" font-size="4.4" letter-spacing="0.0" fill="#3a3a3a" stroke="#3a3a3a" stroke-width="0.18">Mock UFH 0.7</text>
<line x1="212.4" y1="133.74" x2="220.8" y2="133.74" stroke="#e09050" stroke-width="1.5"/>
<text x="223" y="135.24" font-size="4.4" letter-spacing="0.0" fill="#3a3a3a" stroke="#3a3a3a" stroke-width="0.18">NC UFH 0.7</text>
<line x1="212.4" y1="138.85" x2="220.8" y2="138.85" stroke="#90a0d0" stroke-width="1.5"/>
<text x="223" y="140.35" font-size="4.4" letter-spacing="0.0" fill="#3a3a3a" stroke="#3a3a3a" stroke-width="0.18">DCNS2 UFH 0.7</text>
<line x1="212.4" y1="143.97" x2="220.8" y2="143.97" stroke="#c0a090" stroke-width="1.5"/>
<text x="223" y="145.47" font-size="4.4" letter-spacing="0.0" fill="#3a3a3a" stroke="#3a3a3a" stroke-width="0.18">DCNS3 UFH 0.7</text>
<line x1="212.4" y1="149.08" x2="220.8" y2="149.08" stroke="#d0d0a0" stroke-width="1.5"/>
<text x="223" y="150.58" font-size="4.4" letter-spacing="0.0" fill="#3a3a3a" stroke="#3a3a3a" stroke-width="0.18">Mock UFH 1.0</text>
<line x1="212.4" y1="154.19" x2="220.8" y2="154.19" stroke="#9090b0" stroke-width="1.5"/>
<text x="223" y="155.69" font-size="4.4" letter-spacing="0.0" fill="#3a3a3a" stroke="#3a3a3a" stroke-width="0.18">NC UFH 1.0</text>
<line x1="43.6" y1="128.9" x2="48.8" y2="128.9" stroke="#7a7a48" stroke-width="1.4"/>
<path d="M51.23 330.47 L52.31 325.47 L53.39 321.52 L54.47 319.26 L55.56 317.48 L56.64 315.88 L57.72 314.63 L58.8 313.73 L59.88 313.23 L60.97 312.09 L62.05 310.82 L63.13 310.05 L64.21 309.86 L65.29 309.58 L66.38 309.37 L67.46 309.08 L68.54 308.67 L69.62 308.28 L70.7 307.98 L71.79 307.77 L72.87 307.49 L73.95 307.6 L75.03 307.22 L76.11 307.12 L77.2 306.75 L78.28 306.65 L79.36 306.49 L80.44 306.64 L81.52 306.44 L82.61 306.03 L83.69 305.59 L84.77 305.47 L85.85 305.39 L86.93 305.19 L88.02 304.72 L89.1 304.29 L90.18 304.37 L91.26 304.37 L92.34 304.78 L93.43 304.45 L94.51 304.21 L95.59 303.81 L96.67 303.3 L97.75 302.85 L98.84 302.76 L99.92 302.6 L101 302.37 L102.08 302.05 L103.16 302.04 L104.25 302 L105.33 302.02 L106.41 301.93 L107.49 301.98 L108.57 301.64 L109.66 301.6 L110.74 301.21 L111.82 301.12 L112.9 300.99 L113.98 301.01 L115.07 301.44 L116.15 301.49 L117.23 301.37 L118.31 301.1 L119.39 300.8 L120.48 300.61 L121.56 300.51 L122.64 300.44 L123.72 300.05 L124.8 300.14 L125.89 299.93 L126.97 299.93 L128.05 299.57 L129.13 299.6 L130.21 299.73 L131.3 300.09 L132.38 299.89 L133.46 299.71 L134.54 299.53 L135.62 299.49 L136.71 299.37 L137.79 299.39 L138.87 299.4 L139.95 299.35 L141.03 299.16 L142.12 299.21 L143.2 299.18 L144.28 299.13 L145.36 299.04 L146.44 298.81 L147.53 298.76 L148.61 298.64 L149.69 298.55 L150.77 298.8 L151.85 299.28 L152.94 299.41 L154.02 299.57 L155.1 299.51 L156.18 299.44 L157.26 299.09 L158.35 299.18 L159.43 298.8 L160.51 298.35 L161.59 298.18 L162.67 298.94 L163.76 298.93 L164.84 299.29 L165.92 299.24 L167 299.13 L168.08 299.18 L169.17 299.04 L170.25 299.38 L171.33 299.32 L172.41 299.37 L173.49 299.38 L174.58 299.53 L175.66 299.36 L176.74 299.33" fill="none" stroke="#a4a8d4" stroke-width="1.3" stroke-linejoin="round" opacity="1"/>
<path d="M50.42 330.56 L51.5 326.55 L52.58 323.12 L53.66 320.41 L54.74 318.33 L55.83 316.5 L56.91 314.89 L57.99 313.57 L59.07 312.03 L60.15 311.35 L61.24 310.59 L62.32 310.01 L63.4 309.67 L64.48 309.22 L65.56 309.12 L66.65 308.58 L67.73 308.27 L68.81 307.89 L69.89 307.16 L70.97 306.57 L72.06 306.22 L73.14 306.46 L74.22 306.59 L75.3 306.33 L76.38 306.23 L77.47 305.73 L78.55 305.46 L79.63 305.28 L80.71 305.04 L81.79 304.36 L82.88 304.25 L83.96 304.19 L85.04 303.7 L86.12 303.67 L87.2 302.85 L88.29 302.45 L89.37 302.27 L90.45 302.24 L91.53 302.46 L92.61 302.01 L93.7 302.15 L94.78 302.04 L95.86 301.46 L96.94 301 L98.02 300.37 L99.11 300.35 L100.19 300.26 L101.27 300.35 L102.35 300.14 L103.43 299.91 L104.52 299.84 L105.6 299.91 L106.68 299.96 L107.76 299.83 L108.84 299.6 L109.93 299.43 L111.01 298.93 L112.09 298.58 L113.17 298.17 L114.25 298.52 L115.34 298.71 L116.42 299.01 L117.5 298.54 L118.58 298.39 L119.66 298.37 L120.75 298.05 L121.83 298.1 L122.91 298.03 L123.99 297.38 L125.07 296.99 L126.16 297.04 L127.24 297.4 L128.32 297.31 L129.4 297.43 L130.48 297.65 L131.57 297.31 L132.65 297.22 L133.73 296.92 L134.81 296.81 L135.89 296.43 L136.98 296.37 L138.06 296.85 L139.14 297.3 L140.22 297.37 L141.3 297.31 L142.39 297.28 L143.47 297.16 L144.55 296.8 L145.63 296.75 L146.71 296.7 L147.8 296.53 L148.88 296.85 L149.96 296.93 L151.04 297.07 L152.12 297.24 L153.21 297.22 L154.29 297.08 L155.37 297.11 L156.45 296.76 L157.53 296.66 L158.62 296.43 L159.7 296.15 L160.78 296.32 L161.86 296.63 L162.94 296.92 L164.03 297.04 L165.11 296.83 L166.19 296.42 L167.27 296.24 L168.35 296.27 L169.44 296.27 L170.52 296.11 L171.6 295.8 L172.68 295.82 L173.76 296.44 L174.85 297.2 L175.93 297.31 L177.01 296.91" fill="none" stroke="#e2b494" stroke-width="1.3" stroke-linejoin="round" opacity="1"/>
<path d="M50.15 330.57 L51.23 326.81 L52.31 323.32 L53.39 320.63 L54.47 318.41 L55.56 316.71 L56.64 315.11 L57.72 313.72 L58.8 312.39 L59.88 311.24 L60.97 310.52 L62.05 309.62 L63.13 308.93 L64.21 308.4 L65.29 308.01 L66.38 307.56 L67.46 307.27 L68.54 307.06 L69.62 306.87 L70.7 306.53 L71.79 306.33 L72.87 306.3 L73.95 306.17 L75.03 305.8 L76.11 305.21 L77.2 304.84 L78.28 304.86 L79.36 304.71 L80.44 304.49 L81.52 303.96 L82.61 303.54 L83.69 303.16 L84.77 302.85 L85.85 302.59 L86.93 302.62 L88.02 302.94 L89.1 302.75 L90.18 302.29 L91.26 301.46 L92.34 300.94 L93.43 301.07 L94.51 301.06 L95.59 301.05 L96.67 300.93 L97.75 300.72 L98.84 300.28 L99.92 300.02 L101 299.51 L102.08 299.25 L103.16 299.12 L104.25 299.04 L105.33 298.68 L106.41 298.48 L107.49 298.11 L108.57 297.68 L109.66 297.23 L110.74 297.73 L111.82 298.18 L112.9 298.66 L113.98 298.23 L115.07 297.81 L116.15 297.57 L117.23 297.53 L118.31 297.14 L119.39 297.12 L120.48 297.28 L121.56 297.17 L122.64 297.21 L123.72 297.34 L124.8 297.14 L125.89 297.1 L126.97 296.72 L128.05 296.51 L129.13 296.42 L130.21 296.44 L131.3 296.24 L132.38 296.15 L133.46 295.83 L134.54 296.01 L135.62 296.22 L136.71 296.06 L137.79 296.01 L138.87 295.6 L139.95 295.38 L141.03 295.87 L142.12 295.7 L143.2 295.7 L144.28 295.71 L145.36 295.44 L146.44 295.89 L147.53 295.91 L148.61 296.23 L149.69 296.32 L150.77 296.74 L151.85 296.4 L152.94 295.88 L154.02 295.57 L155.1 295.2 L156.18 295.52 L157.26 295.22 L158.35 295.16 L159.43 295.39 L160.51 295.09 L161.59 295.29 L162.67 295.35 L163.76 295.41 L164.84 295.67 L165.92 295.54 L167 295.56 L168.08 295.45 L169.17 295.72 L170.25 295.29 L171.33 294.98 L172.41 295.08 L173.49 295.19 L174.58 295.43 L175.66 295.6 L176.74 295.47" fill="none" stroke="#d0a27e" stroke-width="1.3" stroke-linejoin="round" opacity="1"/>
<path d="M49.6 330.5 L50.69 327.2 L51.77 324.11 L52.85 321.47 L53.93 319.18 L55.02 316.98 L56.1 315.18 L57.18 313.78 L58.26 312.71 L59.34 311.43 L60.42 310.58 L61.51 309.45 L62.59 308.66 L63.67 307.84 L64.75 307.11 L65.83 306.6 L66.92 306.33 L68 305.76 L69.08 305.5 L70.16 305.54 L71.24 304.85 L72.33 304.64 L73.41 304.41 L74.49 304.22 L75.57 304.25 L76.66 303.93 L77.74 303.95 L78.82 303.9 L79.9 303.28 L80.98 303.01 L82.06 302.68 L83.15 302.34 L84.23 302.01 L85.31 301.61 L86.39 301.46 L87.47 301.16 L88.56 301.16 L89.64 300.97 L90.72 300.67 L91.8 300.37 L92.88 300.05 L93.97 299.78 L95.05 299.38 L96.13 298.92 L97.21 298.61 L98.29 298.8 L99.38 298.56 L100.46 298.52 L101.54 298.23 L102.62 297.88 L103.7 297.77 L104.79 297.56 L105.87 297.76 L106.95 297.34 L108.03 296.61 L109.11 296 L110.2 296.16 L111.28 295.98 L112.36 296 L113.44 296.13 L114.52 296.02 L115.61 295.71 L116.69 295.43 L117.77 295.36 L118.85 295.08 L119.93 295.15 L121.02 294.92 L122.1 295.17 L123.18 295.08 L124.26 295.28 L125.34 294.81 L126.43 294.77 L127.51 294.71 L128.59 294.66 L129.67 294.58 L130.75 294.16 L131.84 293.43 L132.92 292.94 L134 293.53 L135.08 293.8 L136.16 294.63 L137.25 294.78 L138.33 295.02 L139.41 294.88 L140.49 294.31 L141.57 293.91 L142.66 293.75 L143.74 294.06 L144.82 294.33 L145.9 294.45 L146.98 294.2 L148.07 294.32 L149.15 293.75 L150.23 293.39 L151.31 293.4 L152.39 293.38 L153.48 293.69 L154.56 293.8 L155.64 293.97 L156.72 294.1 L157.8 293.77 L158.89 293.58 L159.97 293.64 L161.05 293.48 L162.13 293.68 L163.21 293.76 L164.3 293.49 L165.38 293.07 L166.46 293.12 L167.54 293.11 L168.62 293.5 L169.71 293.5 L170.79 293.18 L171.87 293.21 L172.95 292.97 L174.03 292.59 L175.12 292.52 L176.2 292.56 L177.28 292.4" fill="none" stroke="#6484b8" stroke-width="1.3" stroke-linejoin="round" opacity="1"/>
<path d="M49.88 330.57 L50.96 326.85 L52.04 323.45 L53.12 320.48 L54.2 318.19 L55.29 316.01 L56.37 314.01 L57.45 312.49 L58.53 310.95 L59.61 309.89 L60.7 309.2 L61.78 308.48 L62.86 307.61 L63.94 306.58 L65.02 306.14 L66.11 306.06 L67.19 306 L68.27 305.8 L69.35 305.21 L70.43 304.93 L71.52 304.32 L72.6 304.05 L73.68 303.57 L74.76 303.51 L75.84 303.64 L76.93 303.23 L78.01 302.64 L79.09 302.09 L80.17 301.92 L81.25 302.28 L82.34 302.7 L83.42 302.31 L84.5 301.68 L85.58 300.96 L86.66 300.86 L87.75 300.63 L88.83 300.33 L89.91 299.84 L90.99 299.54 L92.07 299.22 L93.16 298.86 L94.24 298.25 L95.32 298.24 L96.4 298.09 L97.48 298.15 L98.57 297.55 L99.65 296.76 L100.73 296.37 L101.81 296.42 L102.89 296.92 L103.98 296.71 L105.06 296.17 L106.14 295.97 L107.22 295.43 L108.3 295.34 L109.39 295.08 L110.47 295.27 L111.55 295.17 L112.63 295.22 L113.71 294.94 L114.8 294.5 L115.88 293.96 L116.96 293.95 L118.04 294.07 L119.12 293.81 L120.21 293.94 L121.29 293.91 L122.37 293.56 L123.45 293.41 L124.53 293.2 L125.62 292.79 L126.7 292.71 L127.78 292.58 L128.86 292.38 L129.94 292.44 L131.03 292.64 L132.11 292.51 L133.19 292.69 L134.27 292.7 L135.35 292.77 L136.44 292.6 L137.52 292.73 L138.6 292.51 L139.68 292.48 L140.76 292.34 L141.85 291.92 L142.93 291.9 L144.01 292.1 L145.09 292.23 L146.17 292.17 L147.26 292.25 L148.34 292.43 L149.42 292 L150.5 292.38 L151.58 292.13 L152.67 292.24 L153.75 292.26 L154.83 292.23 L155.91 292.15 L156.99 292.26 L158.08 292.06 L159.16 291.56 L160.24 291.61 L161.32 291.58 L162.4 291.88 L163.49 292 L164.57 292.01 L165.65 292.01 L166.73 292.07 L167.81 291.86 L168.9 291.68 L169.98 291.72 L171.06 291.87 L172.14 291.72 L173.22 291.79 L174.31 291.77 L175.39 291.96 L176.47 291.41 L177.55 291.09" fill="none" stroke="#b4a4d4" stroke-width="1.3" stroke-linejoin="round" opacity="1"/>
<path d="M49.33 330.48 L50.42 327.24 L51.5 324.41 L52.58 321.7 L53.66 319.28 L54.74 317.05 L55.83 315.03 L56.91 313.03 L57.99 311.29 L59.07 310.18 L60.15 309.18 L61.24 308.63 L62.32 307.8 L63.4 306.69 L64.48 306.22 L65.56 305.51 L66.65 305.03 L67.73 304.75 L68.81 304.58 L69.89 304.46 L70.97 304.37 L72.06 303.75 L73.14 303.17 L74.22 302.59 L75.3 302.02 L76.38 301.91 L77.47 301.92 L78.55 301.74 L79.63 301.52 L80.71 301.16 L81.79 300.66 L82.88 300.6 L83.96 300.42 L85.04 300.5 L86.12 299.89 L87.2 299.59 L88.29 299.63 L89.37 299.15 L90.45 298.55 L91.53 298.2 L92.61 298.01 L93.7 298.12 L94.78 297.44 L95.86 297.06 L96.94 296.26 L98.02 296.12 L99.11 296.12 L100.19 296.04 L101.27 295.84 L102.35 295.86 L103.43 295.51 L104.52 295.3 L105.6 294.36 L106.68 294.1 L107.76 293.94 L108.84 294.07 L109.93 294.1 L111.01 293.94 L112.09 293.93 L113.17 293.72 L114.25 293.97 L115.34 293.54 L116.42 293.18 L117.5 293.03 L118.58 293.07 L119.66 292.9 L120.75 293.19 L121.83 293.17 L122.91 292.69 L123.99 292.67 L125.07 292.27 L126.16 291.8 L127.24 291.57 L128.32 291.48 L129.4 291.59 L130.48 291.41 L131.57 291.29 L132.65 290.96 L133.73 291.18 L134.81 291.13 L135.89 291.28 L136.98 290.75 L138.06 290.51 L139.14 290.64 L140.22 290.93 L141.3 291.35 L142.39 291.12 L143.47 290.67 L144.55 290.19 L145.63 290.48 L146.71 290.31 L147.8 290.16 L148.88 290.3 L149.96 290.23 L151.04 289.89 L152.12 289.94 L153.21 289.57 L154.29 289.84 L155.37 290.17 L156.45 290.44 L157.53 290.34 L158.62 290.26 L159.7 290.14 L160.78 289.92 L161.86 289.5 L162.94 289.29 L164.03 289.51 L165.11 289.6 L166.19 289.58 L167.27 289.32 L168.35 289.37 L169.44 289.78 L170.52 290.23 L171.6 290.17 L172.68 289.97 L173.76 289.2 L174.85 289.1 L175.93 289.05 L177.01 289.42" fill="none" stroke="#7484c4" stroke-width="1.3" stroke-linejoin="round" opacity="1"/>
<path d="M49.33 330.56 L50.42 327.13 L51.5 323.81 L52.58 320.9 L53.66 318.37 L54.74 316.13 L55.83 314.07 L56.91 312.35 L57.99 310.71 L59.07 309.5 L60.15 308.11 L61.24 307.2 L62.32 306.31 L63.4 305.32 L64.48 304.85 L65.56 304.37 L66.65 303.99 L67.73 303.52 L68.81 303.06 L69.89 302.68 L70.97 302.66 L72.06 302.61 L73.14 303.18 L74.22 302.35 L75.3 302.22 L76.38 301.66 L77.47 301.14 L78.55 300.92 L79.63 300.75 L80.71 300.45 L81.79 300.3 L82.88 300.1 L83.96 299.56 L85.04 298.92 L86.12 298.92 L87.2 298.67 L88.29 298.43 L89.37 298.09 L90.45 297.77 L91.53 297.31 L92.61 296.49 L93.7 295.91 L94.78 295.79 L95.86 296.02 L96.94 296.17 L98.02 295.68 L99.11 295.41 L100.19 294.99 L101.27 294.5 L102.35 294.26 L103.43 293.88 L104.52 293.9 L105.6 293.57 L106.68 293.26 L107.76 292.81 L108.84 292.35 L109.93 292.23 L111.01 291.81 L112.09 291.95 L113.17 291.71 L114.25 291.61 L115.34 291.47 L116.42 291.18 L117.5 290.65 L118.58 290.48 L119.66 290.43 L120.75 290.54 L121.83 290.26 L122.91 290.19 L123.99 290.01 L125.07 290.1 L126.16 290.17 L127.24 290.01 L128.32 290.08 L129.4 289.78 L130.48 289.76 L131.57 289.49 L132.65 289.21 L133.73 288.98 L134.81 289.07 L135.89 289.19 L136.98 289.21 L138.06 289.21 L139.14 289.01 L140.22 289.04 L141.3 288.85 L142.39 288.89 L143.47 288.84 L144.55 288.47 L145.63 288.49 L146.71 288.31 L147.8 288.34 L148.88 288.17 L149.96 287.97 L151.04 288.21 L152.12 288.5 L153.21 288.46 L154.29 288.48 L155.37 288.54 L156.45 288.49 L157.53 288.13 L158.62 287.81 L159.7 287.71 L160.78 287.93 L161.86 287.9 L162.94 287.83 L164.03 287.86 L165.11 288 L166.19 287.78 L167.27 287.45 L168.35 287.27 L169.44 287.56 L170.52 287.62 L171.6 287.68 L172.68 287.53 L173.76 287.66 L174.85 287.37 L175.93 287.67 L177.01 288.07" fill="none" stroke="#6ea4b4" stroke-width="1.3" stroke-linejoin="round" opacity="1"/>
<path d="M49.33 330.49 L50.42 327.01 L51.5 323.71 L52.58 320.75 L53.66 318.17 L54.74 315.94 L55.83 313.78 L56.91 311.96 L57.99 310.23 L59.07 308.8 L60.15 307.72 L61.24 306.72 L62.32 305.95 L63.4 305.25 L64.48 304.78 L65.56 304.39 L66.65 304.31 L67.73 303.81 L68.81 303.72 L69.89 303.14 L70.97 302.78 L72.06 302.37 L73.14 301.83 L74.22 301.51 L75.3 301.14 L76.38 300.77 L77.47 300.66 L78.55 300.9 L79.63 300.57 L80.71 300.31 L81.79 300.02 L82.88 299.41 L83.96 299.02 L85.04 298.44 L86.12 298.04 L87.2 297.46 L88.29 297.16 L89.37 297.12 L90.45 296.88 L91.53 296.66 L92.61 296.1 L93.7 295.29 L94.78 294.86 L95.86 294.41 L96.94 293.78 L98.02 293.81 L99.11 293.78 L100.19 293.76 L101.27 293.39 L102.35 292.9 L103.43 292.52 L104.52 292.31 L105.6 292.11 L106.68 292.13 L107.76 292.18 L108.84 292.12 L109.93 291.87 L111.01 291.72 L112.09 291.55 L113.17 291.43 L114.25 291.41 L115.34 291.29 L116.42 291.11 L117.5 291.02 L118.58 290.56 L119.66 290.56 L120.75 290.13 L121.83 289.82 L122.91 289.42 L123.99 289.22 L125.07 289.38 L126.16 289.09 L127.24 289.18 L128.32 289.24 L129.4 289.1 L130.48 289.21 L131.57 289.46 L132.65 289.51 L133.73 289.2 L134.81 288.77 L135.89 288.54 L136.98 288.24 L138.06 288.01 L139.14 287.91 L140.22 287.88 L141.3 287.81 L142.39 287.87 L143.47 287.76 L144.55 287.65 L145.63 287.36 L146.71 286.99 L147.8 286.85 L148.88 286.78 L149.96 286.82 L151.04 286.86 L152.12 287.09 L153.21 287.46 L154.29 287.33 L155.37 287.85 L156.45 287.99 L157.53 287.46 L158.62 286.89 L159.7 286.69 L160.78 286.84 L161.86 286.93 L162.94 286.98 L164.03 286.94 L165.11 286.68 L166.19 286.62 L167.27 287.05 L168.35 287.39 L169.44 286.96 L170.52 286.64 L171.6 286.54 L172.68 286.85 L173.76 286.84 L174.85 286.72 L175.93 286.48 L177.01 286.54" fill="none" stroke="#84b46c" stroke-width="1.3" stroke-linejoin="round" opacity="1"/>
<path d="M49.33 330.55 L50.42 326.95 L51.5 323.61 L52.58 320.52 L53.66 318.1 L54.74 315.91 L55.83 314 L56.91 311.95 L57.99 310.14 L59.07 308.73 L60.15 307.23 L61.24 306.47 L62.32 305.32 L63.4 304.72 L64.48 303.82 L65.56 303.1 L66.65 302.75 L67.73 302.23 L68.81 301.94 L69.89 301.88 L70.97 301.52 L72.06 301.32 L73.14 301.07 L74.22 300.7 L75.3 300.57 L76.38 300.16 L77.47 299.93 L78.55 299.63 L79.63 299.28 L80.71 298.85 L81.79 298.6 L82.88 298.2 L83.96 298.09 L85.04 297.56 L86.12 297.32 L87.2 297 L88.29 296.49 L89.37 295.87 L90.45 295.52 L91.53 294.92 L92.61 294.75 L93.7 294.41 L94.78 293.94 L95.86 293.67 L96.94 293.34 L98.02 293.02 L99.11 292.42 L100.19 292.21 L101.27 291.66 L102.35 291.53 L103.43 291.34 L104.52 291.22 L105.6 291.25 L106.68 291.02 L107.76 290.68 L108.84 290.39 L109.93 290.02 L111.01 290.06 L112.09 289.79 L113.17 289.28 L114.25 288.98 L115.34 288.92 L116.42 288.93 L117.5 289.38 L118.58 289.31 L119.66 288.6 L120.75 288.48 L121.83 288.03 L122.91 287.61 L123.99 287.17 L125.07 287.33 L126.16 287.7 L127.24 287.71 L128.32 287.85 L129.4 287.74 L130.48 287.64 L131.57 286.99 L132.65 286.92 L133.73 287.01 L134.81 286.7 L135.89 286.67 L136.98 286.31 L138.06 286.25 L139.14 285.87 L140.22 286.03 L141.3 286.05 L142.39 285.92 L143.47 285.78 L144.55 286.05 L145.63 285.73 L146.71 285.62 L147.8 285.59 L148.88 285.67 L149.96 285.59 L151.04 285.74 L152.12 285.6 L153.21 285.64 L154.29 285.63 L155.37 285.86 L156.45 285.88 L157.53 285.22 L158.62 284.99 L159.7 284.73 L160.78 284.96 L161.86 285.4 L162.94 285.22 L164.03 285.15 L165.11 284.69 L166.19 284.42 L167.27 284.41 L168.35 283.89 L169.44 284.35 L170.52 284.37 L171.6 284.39 L172.68 284.52 L173.76 284.74 L174.85 284.49 L175.93 284.02 L177.01 283.84" fill="none" stroke="#7c84aa" stroke-width="1.3" stroke-linejoin="round" opacity="1"/>
<path d="M49.33 330.58 L50.42 326.84 L51.5 323.21 L52.58 319.93 L53.66 317.24 L54.74 314.94 L55.83 312.7 L56.91 310.84 L57.99 309.3 L59.07 307.69 L60.15 306.56 L61.24 305.76 L62.32 304.63 L63.4 303.96 L64.48 303.1 L65.56 302.61 L66.65 301.97 L67.73 301.81 L68.81 301.49 L69.89 301.47 L70.97 300.75 L72.06 299.88 L73.14 299.12 L74.22 299.1 L75.3 299.05 L76.38 298.98 L77.47 298.66 L78.55 298.14 L79.63 297.84 L80.71 297.54 L81.79 297.29 L82.88 296.8 L83.96 296.39 L85.04 296.09 L86.12 295.56 L87.2 295.32 L88.29 295.14 L89.37 294.64 L90.45 294.37 L91.53 293.75 L92.61 293.11 L93.7 292.42 L94.78 292.07 L95.86 292.11 L96.94 292.13 L98.02 291.69 L99.11 291.29 L100.19 291.06 L101.27 290.54 L102.35 290.14 L103.43 289.9 L104.52 289.86 L105.6 289.99 L106.68 289.78 L107.76 289.51 L108.84 289.26 L109.93 288.69 L111.01 288.05 L112.09 287.83 L113.17 287.86 L114.25 287.7 L115.34 287.76 L116.42 287.52 L117.5 287.46 L118.58 287.2 L119.66 287.35 L120.75 287.17 L121.83 287.2 L122.91 287.12 L123.99 286.81 L125.07 286.39 L126.16 285.83 L127.24 285.73 L128.32 285.64 L129.4 285.6 L130.48 285.42 L131.57 285.16 L132.65 284.88 L133.73 284.88 L134.81 284.58 L135.89 284.58 L136.98 284.6 L138.06 284.75 L139.14 284.66 L140.22 284.4 L141.3 284.11 L142.39 283.84 L143.47 283.86 L144.55 283.97 L145.63 283.89 L146.71 283.72 L147.8 283.69 L148.88 284.09 L149.96 284.2 L151.04 284 L152.12 283.51 L153.21 283.15 L154.29 283.21 L155.37 283.27 L156.45 283.38 L157.53 283.36 L158.62 283.29 L159.7 283.28 L160.78 283.11 L161.86 282.93 L162.94 283.01 L164.03 283.01 L165.11 282.87 L166.19 283.08 L167.27 282.87 L168.35 282.73 L169.44 282.82 L170.52 282.89 L171.6 283.13 L172.68 282.8 L173.76 282.77 L174.85 282.68 L175.93 282.57 L177.01 282.45" fill="none" stroke="#8880a0" stroke-width="1.3" stroke-linejoin="round" opacity="1"/>
<path d="M49.33 330.55 L50.42 326.72 L51.5 323.08 L52.58 319.86 L53.66 316.99 L54.74 314.57 L55.83 312.29 L56.91 310.36 L57.99 308.79 L59.07 307.11 L60.15 305.68 L61.24 304.86 L62.32 303.64 L63.4 302.65 L64.48 301.58 L65.56 301.09 L66.65 300.58 L67.73 300.26 L68.81 299.73 L69.89 299.27 L70.97 298.92 L72.06 299.12 L73.14 298.89 L74.22 298.43 L75.3 298.03 L76.38 297.68 L77.47 297.27 L78.55 297.13 L79.63 296.68 L80.71 296.32 L81.79 296.32 L82.88 295.72 L83.96 295.29 L85.04 294.89 L86.12 294.48 L87.2 293.92 L88.29 293.36 L89.37 292.83 L90.45 292.06 L91.53 291.65 L92.61 291.29 L93.7 291.24 L94.78 291.02 L95.86 290.59 L96.94 290.59 L98.02 290.04 L99.11 289.41 L100.19 288.83 L101.27 288.66 L102.35 288.31 L103.43 288.33 L104.52 288.21 L105.6 288.6 L106.68 288.19 L107.76 287.66 L108.84 286.93 L109.93 286.81 L111.01 286.7 L112.09 286.67 L113.17 286.32 L114.25 285.97 L115.34 286.04 L116.42 286.21 L117.5 285.97 L118.58 285.9 L119.66 285.73 L120.75 285.53 L121.83 285.17 L122.91 284.43 L123.99 284.03 L125.07 283.75 L126.16 283.86 L127.24 283.6 L128.32 283.29 L129.4 283.19 L130.48 283.39 L131.57 283.47 L132.65 283.68 L133.73 283.63 L134.81 283.47 L135.89 283.15 L136.98 283.05 L138.06 282.84 L139.14 282.52 L140.22 282.53 L141.3 282.21 L142.39 281.93 L143.47 281.75 L144.55 281.68 L145.63 281.57 L146.71 281.63 L147.8 281.58 L148.88 281.32 L149.96 281.3 L151.04 281.38 L152.12 281.21 L153.21 281.18 L154.29 281.15 L155.37 281.23 L156.45 281.26 L157.53 281.04 L158.62 280.56 L159.7 280.27 L160.78 280.81 L161.86 280.88 L162.94 280.87 L164.03 280.4 L165.11 279.79 L166.19 279.91 L167.27 279.96 L168.35 280.47 L169.44 280.49 L170.52 280.74 L171.6 280.94 L172.68 280.39 L173.76 280.05 L174.85 279.91 L175.93 280.03 L177.01 279.67" fill="none" stroke="#a4584a" stroke-width="1.3" stroke-linejoin="round" opacity="1"/>
<path d="M49.33 330.56 L50.42 326.66 L51.5 323.05 L52.58 319.8 L53.66 316.9 L54.74 314.27 L55.83 311.91 L56.91 309.97 L57.99 308.39 L59.07 306.84 L60.15 305.68 L61.24 304.63 L62.32 303.44 L63.4 302.44 L64.48 301.46 L65.56 300.79 L66.65 300.21 L67.73 300 L68.81 299.7 L69.89 299.72 L70.97 299.49 L72.06 299.14 L73.14 298.45 L74.22 297.9 L75.3 297.2 L76.38 296.51 L77.47 296.86 L78.55 296.97 L79.63 297.1 L80.71 296.41 L81.79 295.95 L82.88 295.49 L83.96 294.89 L85.04 294.1 L86.12 293.6 L87.2 293.4 L88.29 292.91 L89.37 292.17 L90.45 291.64 L91.53 291.26 L92.61 290.87 L93.7 290.56 L94.78 290.35 L95.86 290.08 L96.94 290.13 L98.02 289.39 L99.11 288.89 L100.19 288.56 L101.27 288.49 L102.35 288.1 L103.43 287.82 L104.52 287.6 L105.6 287.07 L106.68 286.86 L107.76 286.71 L108.84 286.32 L109.93 286.35 L111.01 286.57 L112.09 286.43 L113.17 285.91 L114.25 285.54 L115.34 285.18 L116.42 285.24 L117.5 285.24 L118.58 285.21 L119.66 284.61 L120.75 284.68 L121.83 284.34 L122.91 284.11 L123.99 284.08 L125.07 283.91 L126.16 283.62 L127.24 283.71 L128.32 283.71 L129.4 284.06 L130.48 283.82 L131.57 282.95 L132.65 282.61 L133.73 282.63 L134.81 282.99 L135.89 282.77 L136.98 282.18 L138.06 281.72 L139.14 281.67 L140.22 281.68 L141.3 282.11 L142.39 281.74 L143.47 281.68 L144.55 281.45 L145.63 281.32 L146.71 281.22 L147.8 280.93 L148.88 280.88 L149.96 280.82 L151.04 280.39 L152.12 280.32 L153.21 280.06 L154.29 280.04 L155.37 280.02 L156.45 279.94 L157.53 280.02 L158.62 280.03 L159.7 280.02 L160.78 279.92 L161.86 279.78 L162.94 279.65 L164.03 279.63 L165.11 279.53 L166.19 279.77 L167.27 279.38 L168.35 279.31 L169.44 279.68 L170.52 279.38 L171.6 279.51 L172.68 279.53 L173.76 279.21 L174.85 279.17 L175.93 278.8 L177.01 278.45" fill="none" stroke="#b08462" stroke-width="1.3" stroke-linejoin="round" opacity="1"/>
<path d="M49.06 330.54 L50.15 328.09 L51.23 325.8 L52.31 323.48 L53.39 321.32 L54.47 319.17 L55.56 317.16 L56.64 315.07 L57.72 313.1 L58.8 311.46 L59.88 310.04 L60.97 308.81 L62.05 307.65 L63.13 306.7 L64.21 305.79 L65.29 305.02 L66.38 304.57 L67.46 304.17 L68.54 303.7 L69.62 303.21 L70.7 302.58 L71.79 302.18 L72.87 301.22 L73.95 300.49 L75.03 300.09 L76.11 299.47 L77.2 299.08 L78.28 298.63 L79.36 298.24 L80.44 297.68 L81.52 297.18 L82.61 296.59 L83.69 295.63 L84.77 295.04 L85.85 294.95 L86.93 294.86 L88.02 294.69 L89.1 294.01 L90.18 293.54 L91.26 293.1 L92.34 292.45 L93.43 292.02 L94.51 291.77 L95.59 291.73 L96.67 291.45 L97.75 290.95 L98.84 290.75 L99.92 290.38 L101 289.93 L102.08 289.51 L103.16 289.49 L104.25 289.23 L105.33 289.22 L106.41 288.43 L107.49 287.62 L108.57 286.78 L109.66 286.92 L110.74 287 L111.82 286.96 L112.9 286.57 L113.98 286.26 L115.07 285.85 L116.15 285.46 L117.23 285.43 L118.31 285.27 L119.39 285.31 L120.48 285.1 L121.56 284.53 L122.64 283.92 L123.72 283.49 L124.8 283.25 L125.89 283 L126.97 282.81 L128.05 282.25 L129.13 281.48 L130.21 281.17 L131.3 280.76 L132.38 280.43 L133.46 280.04 L134.54 279.6 L135.62 278.99 L136.71 278.75 L137.79 278.44 L138.87 277.96 L139.95 277.42 L141.03 276.86 L142.12 276.47 L143.2 276.04 L144.28 275.17 L145.36 274.77 L146.44 274.03 L147.53 273.48 L148.61 272.91 L149.69 272.15 L150.77 271.74 L151.85 270.88 L152.94 270.22 L154.02 269.74 L155.1 269.45 L156.18 269.18 L157.26 268.59 L158.35 267.99 L159.43 267.29 L160.51 266.66 L161.59 265.76 L162.67 265.62 L163.76 265.21 L164.84 264.91 L165.92 264.35 L167 263.33 L168.08 262.49 L169.17 262.47 L170.25 262.31 L171.33 261.81 L172.41 261.28 L173.49 260.81 L174.58 260.34 L175.66 259.94 L176.74 259.43" fill="none" stroke="#353070" stroke-width="1.3" stroke-linejoin="round" opacity="1"/>
<path d="M49.06 330.41 L50.15 327.9 L51.23 325.35 L52.31 322.96 L53.39 320.95 L54.47 318.96 L55.56 316.85 L56.64 314.62 L57.72 312.49 L58.8 310.37 L59.88 308.64 L60.97 307.16 L62.05 306.05 L63.13 305.03 L64.21 304.25 L65.29 303.46 L66.38 302.69 L67.46 301.8 L68.54 301.55 L69.62 301.03 L70.7 300.24 L71.79 299.65 L72.87 298.52 L73.95 298 L75.03 297.46 L76.11 296.97 L77.2 296.68 L78.28 296.35 L79.36 296.06 L80.44 295.28 L81.52 294.62 L82.61 294.53 L83.69 294.11 L84.77 293.68 L85.85 293.53 L86.93 292.88 L88.02 292.53 L89.1 292.05 L90.18 291.05 L91.26 290.6 L92.34 289.95 L93.43 289.64 L94.51 289.27 L95.59 288.66 L96.67 287.97 L97.75 288.1 L98.84 287.98 L99.92 287.67 L101 287.37 L102.08 287.12 L103.16 286.81 L104.25 286.58 L105.33 286.37 L106.41 285.64 L107.49 285.2 L108.57 284.88 L109.66 284.71 L110.74 284.7 L111.82 284.49 L112.9 283.87 L113.98 283.75 L115.07 283.32 L116.15 283.17 L117.23 282.58 L118.31 282.42 L119.39 281.82 L120.48 281.29 L121.56 281 L122.64 280.26 L123.72 279.98 L124.8 279.84 L125.89 279.43 L126.97 279.07 L128.05 278.2 L129.13 277.61 L130.21 277.2 L131.3 276.86 L132.38 276.44 L133.46 275.87 L134.54 275.54 L135.62 275.02 L136.71 274.76 L137.79 274.02 L138.87 273.53 L139.95 273.29 L141.03 272.9 L142.12 272.68 L143.2 272.39 L144.28 271.93 L145.36 271.54 L146.44 270.61 L147.53 270 L148.61 269.53 L149.69 268.99 L150.77 268.5 L151.85 267.74 L152.94 266.99 L154.02 266.31 L155.1 266.08 L156.18 265.88 L157.26 265.1 L158.35 264.38 L159.43 263.52 L160.51 262.99 L161.59 262.43 L162.67 261.91 L163.76 261.66 L164.84 261.09 L165.92 260.41 L167 259.69 L168.08 258.82 L169.17 257.99 L170.25 257.12 L171.33 256.61 L172.41 255.61 L173.49 254.87 L174.58 254.18 L175.66 253.67 L176.74 253.5 L176.74 229.3" fill="none" stroke="#7a2830" stroke-width="1.4" stroke-linejoin="round" opacity="1"/>
<path d="M49.06 330.53 L50.15 328.04 L51.23 325.61 L52.31 323.34 L53.39 321.26 L54.47 319.26 L55.56 316.94 L56.64 314.71 L57.72 312.43 L58.8 310.4 L59.88 308.85 L60.97 307.47 L62.05 306.43 L63.13 305.52 L64.21 304.62 L65.29 304.24 L66.38 303.65 L67.46 303.19 L68.54 302.3 L69.62 301.55 L70.7 301.1 L71.79 300.29 L72.87 299.84 L73.95 299.16 L75.03 298.68 L76.11 298.43 L77.2 297.73 L78.28 297.22 L79.36 296.62 L80.44 296.43 L81.52 296.01 L82.61 295.57 L83.69 294.99 L84.77 294.44 L85.85 293.79 L86.93 293.06 L88.02 292.54 L89.1 292.04 L90.18 291.68 L91.26 291.08 L92.34 290.3 L93.43 289.85 L94.51 289.46 L95.59 289.33 L96.67 289 L97.75 288.47 L98.84 288.1 L99.92 287.79 L101 287.46 L102.08 287.34 L103.16 287.07 L104.25 287.08 L105.33 286.95 L106.41 286.41 L107.49 286.52 L108.57 286.25 L109.66 285.95 L110.74 285.48 L111.82 285.27 L112.9 284.61 L113.98 283.97 L115.07 283.36 L116.15 283.11 L117.23 282.94 L118.31 282.54 L119.39 282.21 L120.48 282.09 L121.56 281.41 L122.64 280.69 L123.72 280.39 L124.8 280.19 L125.89 279.94 L126.97 279.55 L128.05 279.32 L129.13 278.75 L130.21 278.34 L131.3 277.38 L132.38 276.56 L133.46 276.41 L134.54 276.07 L135.62 275.74 L136.71 275.37 L137.79 274.99 L138.87 275.02 L139.95 274.55 L141.03 274.01 L142.12 273.41 L143.2 272.55 L144.28 271.47 L145.36 271.09 L146.44 270.73 L147.53 270.32 L148.61 269.63 L149.69 269.06 L150.77 268.42 L151.85 267.66 L152.94 267.05 L154.02 266.31 L155.1 265.58 L156.18 264.87 L157.26 264.58 L158.35 264.52 L159.43 264.09 L160.51 263.47 L161.59 262.53 L162.67 262.08 L163.76 261.43 L164.84 261.09 L165.92 260.66 L167 260.19 L168.08 259.68 L169.17 258.84 L170.25 257.56 L171.33 256.58 L172.41 256.1 L173.49 255.67 L174.58 254.82 L175.66 254.35 L176.74 253.56" fill="none" stroke="#8a8a40" stroke-width="1.4" stroke-linejoin="round" opacity="1"/>
<path d="M49.06 330.49 L50.15 328 L51.23 325.52 L52.31 323.12 L53.39 320.78 L54.47 318.51 L55.56 316.3 L56.64 314.32 L57.72 312.51 L58.8 310.72 L59.88 308.95 L60.97 307.35 L62.05 306.62 L63.13 305.58 L64.21 304.82 L65.29 303.93 L66.38 303.17 L67.46 302.02 L68.54 301.41 L69.62 300.88 L70.7 300.2 L71.79 299.65 L72.87 299.52 L73.95 298.83 L75.03 298.08 L76.11 297.3 L77.2 296.5 L78.28 296.28 L79.36 295.5 L80.44 295.11 L81.52 294.39 L82.61 293.94 L83.69 293.62 L84.77 293.18 L85.85 292.25 L86.93 291.54 L88.02 291.1 L89.1 290.74 L90.18 290.43 L91.26 290.22 L92.34 290 L93.43 289.52 L94.51 289.27 L95.59 288.48 L96.67 288.03 L97.75 287.93 L98.84 288.02 L99.92 287.64 L101 287.14 L102.08 286.58 L103.16 286.32 L104.25 285.93 L105.33 285.89 L106.41 285.56 L107.49 285.04 L108.57 284.69 L109.66 284.77 L110.74 284.65 L111.82 284.34 L112.9 284.13 L113.98 283.51 L115.07 283.04 L116.15 282.96 L117.23 282.45 L118.31 281.76 L119.39 281.44 L120.48 280.76 L121.56 280.36 L122.64 279.68 L123.72 279.26 L124.8 279.11 L125.89 278.89 L126.97 278.95 L128.05 278.46 L129.13 278.2 L130.21 277.96 L131.3 277.34 L132.38 276.9 L133.46 276.34 L134.54 275.69 L135.62 275.16 L136.71 274.89 L137.79 274.74 L138.87 273.9 L139.95 272.88 L141.03 271.77 L142.12 271.11 L143.2 270.68 L144.28 270.07 L145.36 270.11 L146.44 269.82 L147.53 269.81 L148.61 269.08 L149.69 268.32 L150.77 267.77 L151.85 267.29 L152.94 266.69 L154.02 265.84 L155.1 265.45 L156.18 264.66 L157.26 264.05 L158.35 263.25 L159.43 262.69 L160.51 262.57 L161.59 262.11 L162.67 261.31 L163.76 260.54 L164.84 259.96 L165.92 259.52 L167 259.11 L168.08 258.82 L169.17 257.87 L170.25 257.02 L171.33 256.22 L172.41 255.16 L173.49 254.13 L174.58 253.51 L175.66 253.51 L176.74 252.82" fill="none" stroke="#80683a" stroke-width="1.4" stroke-linejoin="round" opacity="1"/>
<path d="M49.06 330.55 L50.15 328.07 L51.23 325.76 L52.31 323.53 L53.39 321.35 L54.47 319.15 L55.56 317.06 L56.64 314.99 L57.72 313.07 L58.8 311.27 L59.88 309.69 L60.97 308.78 L62.05 307.64 L63.13 306.87 L64.21 305.96 L65.29 304.77 L66.38 303.83 L67.46 303.12 L68.54 302.27 L69.62 301.7 L70.7 300.97 L71.79 300.61 L72.87 299.88 L73.95 299.48 L75.03 299.31 L76.11 298.43 L77.2 298.15 L78.28 297.69 L79.36 297.02 L80.44 296.47 L81.52 295.97 L82.61 295.58 L83.69 294.89 L84.77 293.87 L85.85 293.64 L86.93 293.47 L88.02 292.74 L89.1 292.14 L90.18 291.37 L91.26 291.05 L92.34 290.71 L93.43 290.53 L94.51 290.21 L95.59 289.94 L96.67 289.58 L97.75 289.34 L98.84 289.27 L99.92 289.01 L101 288.53 L102.08 288.06 L103.16 287.46 L104.25 286.89 L105.33 286.13 L106.41 286.13 L107.49 286.37 L108.57 286.38 L109.66 286.07 L110.74 285.86 L111.82 285.37 L112.9 285.23 L113.98 284.51 L115.07 284.03 L116.15 283.77 L117.23 283.31 L118.31 282.52 L119.39 282.32 L120.48 281.93 L121.56 281.91 L122.64 281.56 L123.72 281.5 L124.8 281.15 L125.89 280.68 L126.97 280.22 L128.05 279.9 L129.13 279.6 L130.21 278.91 L131.3 278.46 L132.38 277.6 L133.46 277.58 L134.54 277.45 L135.62 277.05 L136.71 275.99 L137.79 274.91 L138.87 274.25 L139.95 274.14 L141.03 274.19 L142.12 273.65 L143.2 272.93 L144.28 272.47 L145.36 271.61 L146.44 270.98 L147.53 270.43 L148.61 270.09 L149.69 269.91 L150.77 269.38 L151.85 268.84 L152.94 268.09 L154.02 267.42 L155.1 267.04 L156.18 266.68 L157.26 266 L158.35 265.06 L159.43 264.51 L160.51 263.87 L161.59 263.55 L162.67 262.94 L163.76 262.07 L164.84 261.44 L165.92 260.84 L167 260.48 L168.08 259.91 L169.17 258.97 L170.25 258.06 L171.33 257.09 L172.41 256.82 L173.49 256.24 L174.58 255.85 L175.66 255.19 L176.74 254.82" fill="none" stroke="#7a8a3a" stroke-width="1.4" stroke-linejoin="round" opacity="1"/>
<path d="M49.06 330.54 L50.15 327.85 L51.23 325.21 L52.31 322.6 L53.39 320.11 L54.47 317.65 L55.56 315.28 L56.64 312.83 L57.72 310.52 L58.8 308.33 L59.88 306.39 L60.97 304.53 L62.05 303.36 L63.13 302.2 L64.21 301.39 L65.29 300.63 L66.38 300.02 L67.46 299.6 L68.54 298.71 L69.62 298.09 L70.7 297.78 L71.79 297.45 L72.87 297.16 L73.95 296.25 L75.03 295.15 L76.11 294.59 L77.2 294.37 L78.28 293.81 L79.36 293.38 L80.44 292.78 L81.52 292.03 L82.61 291.65 L83.69 290.63 L84.77 289.99 L85.85 289.88 L86.93 289.72 L88.02 289.43 L89.1 288.69 L90.18 288.35 L91.26 287.72 L92.34 286.88 L93.43 286.17 L94.51 285.1 L95.59 284.07 L96.67 282.92 L97.75 282.35 L98.84 281.94 L99.92 281.4 L101 280.75 L102.08 279.82 L103.16 279.44 L104.25 279.24 L105.33 278.9 L106.41 278.55 L107.49 278.33 L108.57 278.16 L109.66 277.5 L110.74 276.62 L111.82 275.93 L112.9 275.44 L113.98 274.88 L115.07 274.76 L116.15 274.35 L117.23 274.31 L118.31 273.78 L119.39 273.34 L120.48 272.99 L121.56 272.6 L122.64 272.42 L123.72 272.39 L124.8 271.56 L125.89 270.86 L126.97 270.67 L128.05 270.12 L129.13 269.63 L130.21 269.42 L131.3 269.06 L132.38 269.08 L133.46 268.61 L134.54 268.28 L135.62 267.89 L136.71 267.48 L137.79 266.83 L138.87 266.5 L139.95 266.13 L141.03 265.68 L142.12 265.16 L143.2 264.32 L144.28 263.57 L145.36 262.93 L146.44 262.26 L147.53 261.65 L148.61 260.57 L149.69 259.78 L150.77 258.81 L151.85 257.96 L152.94 256.97 L154.02 256.37 L155.1 255.75 L156.18 254.84 L157.26 253.66 L158.35 252.26 L159.43 251.44 L160.51 250.51 L161.59 249.53 L162.67 248.21 L163.76 246.82 L164.84 245.24 L165.92 244.37 L167 243.38 L168.08 242.29 L169.17 241.38 L170.25 240.32 L171.33 238.99 L172.41 237.67 L173.49 236.05 L174.58 234.98 L175.66 233.83 L176.74 232.87" fill="none" stroke="#2d3f7e" stroke-width="1.4" stroke-linejoin="round" opacity="1"/>
<path d="M47.98 330.45 L49.06 321.8 L50.15 316.97 L51.23 316.43 L52.31 318.3 L53.39 320.2 L54.47 322.33 L55.56 324.44 L56.64 326.96 L57.72 328.98 L58.8 330.14 L59.88 329.98 L60.97 328.88 L62.05 327.71 L63.13 326.27 L64.21 325.63 L65.29 325.07 L66.38 324.28 L67.46 323.73 L68.54 323.21 L69.62 323 L70.7 322.67 L71.79 322.59 L72.87 321.89 L73.95 321.19 L75.03 320.45 L76.11 320.15 L77.2 319.79 L78.28 319.57 L79.36 319.84 L80.44 319.71 L81.52 319.19 L82.61 318.56 L83.69 317.56 L84.77 317.36 L85.85 317.11 L86.93 316.9 L88.02 316.7 L89.1 316.39 L90.18 316.08 L91.26 316.06 L92.34 315.8 L93.43 315.63 L94.51 315.57 L95.59 315.34 L96.67 314.99 L97.75 314.38 L98.84 313.88 L99.92 313.94 L101 313.84 L102.08 313.48 L103.16 313.29 L104.25 312.99 L105.33 313.03 L106.41 312.97 L107.49 312.95 L108.57 312.54 L109.66 312.14 L110.74 311.74 L111.82 311.74 L112.9 312 L113.98 311.45 L115.07 311.41 L116.15 311.07 L117.23 310.86 L118.31 311.21 L119.39 311.56 L120.48 310.87 L121.56 310.63 L122.64 310.29 L123.72 310.67 L124.8 310.79 L125.89 310.97 L126.97 310.77 L128.05 310.75 L129.13 310.68 L130.21 310.06 L131.3 309.72 L132.38 309.58 L133.46 309.24 L134.54 309.3 L135.62 308.96 L136.71 308.76 L137.79 308.73 L138.87 308.74 L139.95 308.31 L141.03 308.57 L142.12 308.66 L143.2 309.02 L144.28 308.61 L145.36 308.24 L146.44 308.11 L147.53 308.01 L148.61 307.59 L149.69 307.62 L150.77 307.22 L151.85 307 L152.94 306.9 L154.02 307.1 L155.1 307.29 L156.18 307.12 L157.26 307.07 L158.35 306.96 L159.43 306.98 L160.51 307.18 L161.59 307.08 L162.67 306.51 L163.76 306.04 L164.84 306.27 L165.92 306.32 L167 306.52 L168.08 306.19 L169.17 305.87 L170.25 306.15 L171.33 306.04 L172.41 306.26 L173.49 306.15 L174.58 306.06 L175.66 305.96 L176.74 306.04" fill="none" stroke="#d08040" stroke-width="1.3" stroke-linejoin="round" opacity="1"/>
<line x1="46.9" y1="217.5" x2="46.9" y2="331.2" stroke="#000" stroke-width="1.5"/>
<line x1="46.199999999999996" y1="330.5" x2="209.4" y2="330.5" stroke="#000" stroke-width="1.5"/>
<line x1="43.5" y1="330.5" x2="46.9" y2="330.5" stroke="#000" stroke-width="1.1"/>
<text x="40.2" y="332.8" font-size="6.4" text-anchor="end" fill="#333" stroke="#333" stroke-width="0.2">0</text>
<line x1="43.5" y1="319.5" x2="46.9" y2="319.5" stroke="#000" stroke-width="1.1"/>
<text x="40.2" y="321.8" font-size="6.4" text-anchor="end" fill="#333" stroke="#333" stroke-width="0.2">0.5</text>
<line x1="43.5" y1="308.5" x2="46.9" y2="308.5" stroke="#000" stroke-width="1.1"/>
<text x="40.2" y="310.8" font-size="6.4" text-anchor="end" fill="#333" stroke="#333" stroke-width="0.2">1</text>
<line x1="43.5" y1="297.5" x2="46.9" y2="297.5" stroke="#000" stroke-width="1.1"/>
<text x="40.2" y="299.8" font-size="6.4" text-anchor="end" fill="#333" stroke="#333" stroke-width="0.2">1.5</text>
<line x1="43.5" y1="286.5" x2="46.9" y2="286.5" stroke="#000" stroke-width="1.1"/>
<text x="40.2" y="288.8" font-size="6.4" text-anchor="end" fill="#333" stroke="#333" stroke-width="0.2">2</text>
<line x1="43.5" y1="275.5" x2="46.9" y2="275.5" stroke="#000" stroke-width="1.1"/>
<text x="40.2" y="277.8" font-size="6.4" text-anchor="end" fill="#333" stroke="#333" stroke-width="0.2">2.5</text>
<line x1="43.5" y1="264.5" x2="46.9" y2="264.5" stroke="#000" stroke-width="1.1"/>
<text x="40.2" y="266.8" font-size="6.4" text-anchor="end" fill="#333" stroke="#333" stroke-width="0.2">3</text>
<line x1="43.5" y1="253.5" x2="46.9" y2="253.5" stroke="#000" stroke-width="1.1"/>
<text x="40.2" y="255.8" font-size="6.4" text-anchor="end" fill="#333" stroke="#333" stroke-width="0.2">3.5</text>
<line x1="43.5" y1="242.5" x2="46.9" y2="242.5" stroke="#000" stroke-width="1.1"/>
<text x="40.2" y="244.8" font-size="6.4" text-anchor="end" fill="#333" stroke="#333" stroke-width="0.2">4</text>
<line x1="43.5" y1="231.5" x2="46.9" y2="231.5" stroke="#000" stroke-width="1.1"/>
<text x="40.2" y="233.8" font-size="6.4" text-anchor="end" fill="#333" stroke="#333" stroke-width="0.2">4.5</text>
<line x1="43.5" y1="220.5" x2="46.9" y2="220.5" stroke="#000" stroke-width="1.1"/>
<text x="40.2" y="222.8" font-size="6.4" text-anchor="end" fill="#333" stroke="#333" stroke-width="0.2">5</text>
<text x="46.9" y="340" font-size="6.5" text-anchor="middle" fill="#333" stroke="#333" stroke-width="0.2">0</text>
<text x="73.95" y="340" font-size="6.5" text-anchor="middle" fill="#333" stroke="#333" stroke-width="0.2">10</text>
<text x="101" y="340" font-size="6.5" text-anchor="middle" fill="#333" stroke="#333" stroke-width="0.2">20</text>
<text x="128.05" y="340" font-size="6.5" text-anchor="middle" fill="#333" stroke="#333" stroke-width="0.2">30</text>
<text x="155.1" y="340" font-size="6.5" text-anchor="middle" fill="#333" stroke="#333" stroke-width="0.2">40</text>
<text x="182.15" y="340" font-size="6.5" text-anchor="middle" fill="#333" stroke="#333" stroke-width="0.2">50</text>
<text x="209.2" y="340" font-size="6.5" text-anchor="middle" fill="#333" stroke="#333" stroke-width="0.2">60</text>
<text x="128.2" y="352.2" font-size="9.3" font-weight="bold" text-anchor="middle" textLength="13" lengthAdjust="spacingAndGlyphs" fill="#111" stroke="#111" stroke-width="0.3">Time</text>
<text transform="translate(25.9 273.1) rotate(-90)" font-size="8.8" text-anchor="middle" textLength="44.8" lengthAdjust="spacingAndGlyphs" fill="#333" stroke="#333" stroke-width="0.3">Cell index at 48h</text>
<text x="76.9" y="212.1" font-size="8.8" font-weight="bold" textLength="102.1" lengthAdjust="spacingAndGlyphs" fill="#000" stroke="#000" stroke-width="0.25" style="white-space:pre">LMWH DCN Cell  Growth</text>
<line x1="217" y1="231.8" x2="225.8" y2="231.8" stroke="#2d4080" stroke-width="1.8"/>
<text x="228.3" y="233.3" font-size="4.3" letter-spacing="0.15" fill="#3a3a3a" stroke="#3a3a3a" stroke-width="0.18">Mock</text>
<line x1="217" y1="236.93" x2="225.8" y2="236.93" stroke="#803040" stroke-width="1.8"/>
<text x="228.3" y="238.43" font-size="4.3" letter-spacing="0.15" fill="#3a3a3a" stroke="#3a3a3a" stroke-width="0.18">NC</text>
<line x1="217" y1="242.06" x2="225.8" y2="242.06" stroke="#8a9a40" stroke-width="1.8"/>
<text x="228.3" y="243.56" font-size="4.3" letter-spacing="0.15" fill="#3a3a3a" stroke="#3a3a3a" stroke-width="0.18">S2</text>
<line x1="217" y1="247.19" x2="225.8" y2="247.19" stroke="#303070" stroke-width="1.8"/>
<text x="228.3" y="248.69" font-size="4.3" letter-spacing="0.15" fill="#3a3a3a" stroke="#3a3a3a" stroke-width="0.18">S3</text>
<line x1="217" y1="252.32" x2="225.8" y2="252.32" stroke="#6080a0" stroke-width="1.8"/>
<text x="228.3" y="253.82" font-size="4.3" letter-spacing="0.15" fill="#3a3a3a" stroke="#3a3a3a" stroke-width="0.18">M L 0.18</text>
<line x1="217" y1="257.45" x2="225.8" y2="257.45" stroke="#a03020" stroke-width="1.8"/>
<text x="228.3" y="258.95" font-size="4.3" letter-spacing="0.15" fill="#3a3a3a" stroke="#3a3a3a" stroke-width="0.18">NC L 0.18</text>
<line x1="217" y1="262.58" x2="225.8" y2="262.58" stroke="#4070c0" stroke-width="1.8"/>
<text x="228.3" y="264.08" font-size="4.3" letter-spacing="0.15" fill="#3a3a3a" stroke="#3a3a3a" stroke-width="0.18">S2 L 0.18</text>
<line x1="217" y1="267.71" x2="225.8" y2="267.71" stroke="#907050" stroke-width="1.8"/>
<text x="228.3" y="269.21" font-size="4.3" letter-spacing="0.15" fill="#3a3a3a" stroke="#3a3a3a" stroke-width="0.18">S3 L 0.18</text>
<line x1="217" y1="272.84" x2="225.8" y2="272.84" stroke="#70b040" stroke-width="1.8"/>
<text x="228.3" y="274.34" font-size="4.3" letter-spacing="0.15" fill="#3a3a3a" stroke="#3a3a3a" stroke-width="0.18">M L 0.6</text>
<line x1="217" y1="277.97" x2="225.8" y2="277.97" stroke="#d09040" stroke-width="1.8"/>
<text x="228.3" y="279.47" font-size="4.3" letter-spacing="0.15" fill="#3a3a3a" stroke="#3a3a3a" stroke-width="0.18">NC L 0.6</text>
<line x1="217" y1="283.1" x2="225.8" y2="283.1" stroke="#70a0b0" stroke-width="1.8"/>
<text x="228.3" y="284.6" font-size="4.3" letter-spacing="0.15" fill="#3a3a3a" stroke="#3a3a3a" stroke-width="0.18">S2 L 0.6</text>
<line x1="217" y1="288.23" x2="225.8" y2="288.23" stroke="#303080" stroke-width="1.8"/>
<text x="228.3" y="289.73" font-size="4.3" letter-spacing="0.15" fill="#3a3a3a" stroke="#3a3a3a" stroke-width="0.18">S3 L 0.6</text>
<line x1="217" y1="293.36" x2="225.8" y2="293.36" stroke="#7090c0" stroke-width="1.8"/>
<text x="228.3" y="294.86" font-size="4.3" letter-spacing="0.15" fill="#3a3a3a" stroke="#3a3a3a" stroke-width="0.18">M L 0.7</text>
<line x1="217" y1="298.49" x2="225.8" y2="298.49" stroke="#8070a0" stroke-width="1.8"/>
<text x="228.3" y="299.99" font-size="4.3" letter-spacing="0.15" fill="#3a3a3a" stroke="#3a3a3a" stroke-width="0.18">NC L 0.7</text>
<line x1="217" y1="303.62" x2="225.8" y2="303.62" stroke="#a0c090" stroke-width="1.8"/>
<text x="228.3" y="305.12" font-size="4.3" letter-spacing="0.15" fill="#3a3a3a" stroke="#3a3a3a" stroke-width="0.18">S2 L 0.7</text>
<line x1="217" y1="308.75" x2="225.8" y2="308.75" stroke="#805050" stroke-width="1.8"/>
<text x="228.3" y="310.25" font-size="4.3" letter-spacing="0.15" fill="#3a3a3a" stroke="#3a3a3a" stroke-width="0.18">S3 L 0.7</text>
<line x1="217" y1="313.88" x2="225.8" y2="313.88" stroke="#d0a0c0" stroke-width="1.8"/>
<text x="228.3" y="315.38" font-size="4.3" letter-spacing="0.15" fill="#3a3a3a" stroke="#3a3a3a" stroke-width="0.18">M L 1.2</text>
<line x1="217" y1="319.01" x2="225.8" y2="319.01" stroke="#80b0c0" stroke-width="1.8"/>
<text x="228.3" y="320.51" font-size="4.3" letter-spacing="0.15" fill="#3a3a3a" stroke="#3a3a3a" stroke-width="0.18">NC L 1.2</text>
<line x1="217" y1="324.14" x2="225.8" y2="324.14" stroke="#d0b080" stroke-width="1.8"/>
<text x="228.3" y="325.64" font-size="4.3" letter-spacing="0.15" fill="#3a3a3a" stroke="#3a3a3a" stroke-width="0.18">S2 L 1.2</text>
<line x1="217" y1="329.27" x2="225.8" y2="329.27" stroke="#a0a0d0" stroke-width="1.8"/>
<text x="228.3" y="330.77" font-size="4.3" letter-spacing="0.15" fill="#3a3a3a" stroke="#3a3a3a" stroke-width="0.18">S3 L 1.2</text>
<path d="M48.18 508.83 L49.33 505.99 L50.47 503.47 L51.61 501.31 L52.75 499.39 L53.89 497.78 L55.03 496.32 L56.17 495.11 L57.31 493.93 L58.45 492.7 L59.6 492.09 L60.74 491.19 L61.88 490.49 L63.02 489.76 L64.16 488.81 L65.3 487.94 L66.44 487.02 L67.58 486.7 L68.73 486.21 L69.87 485.82 L71.01 485.46 L72.15 485.06 L73.29 484.78 L74.43 484.4 L75.57 484.2 L76.71 483.88 L77.86 483.65 L79 483.19 L80.14 482.72 L81.28 481.8 L82.42 481.51 L83.56 481.38 L84.7 481.1 L85.84 481.2 L86.98 480.6 L88.13 480.22 L89.27 479.98 L90.41 479.46 L91.55 479.31 L92.69 479.12 L93.83 479.07 L94.97 478.83 L96.11 478.31 L97.26 477.92 L98.4 477.45 L99.54 477.31 L100.68 477.55 L101.82 477.27 L102.96 476.91 L104.1 476.48 L105.24 476.14 L106.39 476.29 L107.53 476.54 L108.67 475.94 L109.81 474.98 L110.95 473.96 L112.09 473.82 L113.23 473.87 L114.37 473.6 L115.51 473.52 L116.66 473.45 L117.8 473.43 L118.94 473.34 L120.08 472.99 L121.22 472.63 L122.36 472.04 L123.5 471.49 L124.64 471.13 L125.79 470.99 L126.93 470.76 L128.07 470.55 L129.21 470.49 L130.35 470.18 L131.49 469.94 L132.63 469.84 L133.77 469.19 L134.92 468.44 L136.06 467.98 L137.2 467.35 L138.34 467.29 L139.48 467.14 L140.62 467.1 L141.76 467.34 L142.9 467.35 L144.04 466.84 L145.19 466.32 L146.33 466.2 L147.47 465.77 L148.61 465.19 L149.75 464.8 L150.89 464.32 L152.03 463.95 L153.17 463.76 L154.32 463.6 L155.46 463.45 L156.6 462.93 L157.74 462.54 L158.88 462 L160.02 461.6 L161.16 461.02 L162.3 460.86 L163.45 460.82 L164.59 460.55 L165.73 460.09 L166.87 459.64 L168.01 459.45 L169.15 458.59 L170.29 458.07 L171.43 457.78 L172.57 457.96 L173.72 457.92 L174.86 457.27 L176 456.76 L177.14 456.04 L178.28 455.77 L179.42 455.03 L180.56 454.85 L181.7 454.88 L182.85 455.08 L183.99 454.62" fill="none" stroke="#c8b4c8" stroke-width="1.3" stroke-linejoin="round" opacity="1"/>
<path d="M48.18 508.87 L49.33 505.94 L50.47 503.35 L51.61 501.01 L52.75 499.16 L53.89 497.58 L55.03 496.25 L56.17 495.06 L57.31 493.78 L58.45 492.81 L59.6 491.59 L60.74 490.59 L61.88 489.8 L63.02 489.22 L64.16 488.35 L65.3 487.89 L66.44 487.45 L67.58 486.94 L68.73 486.22 L69.87 485.68 L71.01 485.42 L72.15 485.02 L73.29 484.68 L74.43 484.18 L75.57 483.78 L76.71 483.32 L77.86 482.83 L79 482.32 L80.14 482.04 L81.28 481.34 L82.42 481.24 L83.56 480.79 L84.7 480.82 L85.84 480.45 L86.98 479.92 L88.13 479.38 L89.27 479.02 L90.41 479.14 L91.55 479.1 L92.69 478.65 L93.83 478.4 L94.97 477.86 L96.11 477.51 L97.26 477.02 L98.4 476.76 L99.54 476.47 L100.68 475.92 L101.82 475.52 L102.96 475.53 L104.1 475.26 L105.24 475.31 L106.39 474.99 L107.53 474.95 L108.67 474.49 L109.81 474.24 L110.95 473.85 L112.09 473.45 L113.23 473.37 L114.37 473.22 L115.51 472.66 L116.66 472.39 L117.8 472.01 L118.94 471.87 L120.08 471.42 L121.22 471.2 L122.36 470.83 L123.5 470.68 L124.64 470.6 L125.79 470.51 L126.93 470.05 L128.07 469.57 L129.21 469.43 L130.35 469.03 L131.49 468.77 L132.63 468.35 L133.77 468.25 L134.92 468.2 L136.06 467.73 L137.2 467.55 L138.34 467.13 L139.48 466.97 L140.62 466.4 L141.76 465.87 L142.9 465.15 L144.04 464.87 L145.19 465.14 L146.33 464.76 L147.47 464.51 L148.61 464.2 L149.75 463.7 L150.89 463.5 L152.03 463.01 L153.17 462.64 L154.32 462.05 L155.46 461.67 L156.6 461.58 L157.74 461.51 L158.88 461.13 L160.02 461.04 L161.16 460.79 L162.3 460.11 L163.45 459.65 L164.59 459.24 L165.73 458.72 L166.87 458.54 L168.01 458.09 L169.15 457.78 L170.29 457.1 L171.43 456.89 L172.57 456.5 L173.72 456.01 L174.86 455.75 L176 455.73 L177.14 455.38 L178.28 455.27 L179.42 454.97 L180.56 454.73 L181.7 454.39 L182.85 453.91 L183.99 453.44" fill="none" stroke="#a8c4a8" stroke-width="1.3" stroke-linejoin="round" opacity="1"/>
<path d="M48.18 509 L49.33 506.21 L50.47 503.67 L51.61 501.43 L52.75 499.58 L53.89 498.04 L55.03 496.7 L56.17 495.51 L57.31 494.5 L58.45 493.5 L59.6 492.46 L60.74 491.67 L61.88 490.59 L63.02 489.73 L64.16 488.82 L65.3 488.54 L66.44 488.23 L67.58 488.04 L68.73 487.21 L69.87 486.7 L71.01 486.12 L72.15 486.03 L73.29 485.53 L74.43 485.36 L75.57 484.86 L76.71 484.48 L77.86 484.02 L79 483.81 L80.14 483.09 L81.28 482.75 L82.42 482.11 L83.56 481.87 L84.7 481.48 L85.84 481.42 L86.98 481.14 L88.13 481.06 L89.27 480.94 L90.41 480.78 L91.55 480.6 L92.69 480.19 L93.83 480.05 L94.97 479.29 L96.11 479.02 L97.26 478.66 L98.4 478.5 L99.54 478.23 L100.68 477.88 L101.82 477.75 L102.96 477.43 L104.1 476.85 L105.24 476.59 L106.39 476.36 L107.53 476.06 L108.67 475.74 L109.81 475.7 L110.95 475.54 L112.09 474.89 L113.23 474.25 L114.37 473.72 L115.51 473.8 L116.66 473.76 L117.8 473.64 L118.94 473.15 L120.08 472.74 L121.22 472.45 L122.36 472.2 L123.5 472.18 L124.64 472.02 L125.79 472.21 L126.93 471.71 L128.07 471.44 L129.21 470.83 L130.35 470.29 L131.49 469.97 L132.63 469.77 L133.77 469.03 L134.92 468.65 L136.06 467.96 L137.2 467.71 L138.34 467.37 L139.48 467.14 L140.62 466.97 L141.76 467.13 L142.9 466.94 L144.04 466.75 L145.19 466.21 L146.33 466.03 L147.47 465.87 L148.61 465.41 L149.75 464.94 L150.89 464.59 L152.03 464.26 L153.17 464.09 L154.32 464.01 L155.46 464.03 L156.6 463.47 L157.74 463.29 L158.88 462.47 L160.02 461.44 L161.16 460.55 L162.3 460.66 L163.45 461.28 L164.59 461.03 L165.73 461.24 L166.87 460.93 L168.01 460.61 L169.15 460 L170.29 458.71 L171.43 458.11 L172.57 457.9 L173.72 457.3 L174.86 457.43 L176 457.02 L177.14 457.04 L178.28 456.48 L179.42 456.15 L180.56 455.65 L181.7 455.28 L182.85 454.76 L183.99 454.12" fill="none" stroke="#d8b898" stroke-width="1.3" stroke-linejoin="round" opacity="1"/>
<path d="M48.18 508.87 L49.33 505.9 L50.47 503.21 L51.61 500.88 L52.75 498.88 L53.89 497.03 L55.03 495.44 L56.17 494.19 L57.31 493.21 L58.45 491.98 L59.6 490.93 L60.74 490.01 L61.88 489.33 L63.02 488.57 L64.16 488.14 L65.3 487.63 L66.44 487.09 L67.58 486.58 L68.73 485.37 L69.87 484.94 L71.01 484.53 L72.15 484.09 L73.29 484.03 L74.43 483.29 L75.57 482.87 L76.71 482.44 L77.86 481.83 L79 481.36 L80.14 481.14 L81.28 480.75 L82.42 480.52 L83.56 480.54 L84.7 480.3 L85.84 480.3 L86.98 479.77 L88.13 479.4 L89.27 478.88 L90.41 478.53 L91.55 477.7 L92.69 477.12 L93.83 476.92 L94.97 476.31 L96.11 475.98 L97.26 475.91 L98.4 475.41 L99.54 475.28 L100.68 475.11 L101.82 474.95 L102.96 474.8 L104.1 474.62 L105.24 474.25 L106.39 474.13 L107.53 473.83 L108.67 473.13 L109.81 473.02 L110.95 472.44 L112.09 472.25 L113.23 471.96 L114.37 471.57 L115.51 470.97 L116.66 470.46 L117.8 470.19 L118.94 470.29 L120.08 470.56 L121.22 470.11 L122.36 469.48 L123.5 468.86 L124.64 468.64 L125.79 468.5 L126.93 468.33 L128.07 468.07 L129.21 467.49 L130.35 467.41 L131.49 467 L132.63 466.88 L133.77 466.22 L134.92 465.88 L136.06 465.02 L137.2 465.15 L138.34 464.77 L139.48 464.72 L140.62 464.02 L141.76 463.41 L142.9 463.07 L144.04 463 L145.19 462.65 L146.33 462.11 L147.47 461.89 L148.61 461.13 L149.75 460.96 L150.89 460.49 L152.03 460.32 L153.17 459.83 L154.32 459.42 L155.46 459.16 L156.6 458.57 L157.74 457.95 L158.88 457.47 L160.02 457.12 L161.16 456.8 L162.3 456.44 L163.45 455.96 L164.59 455.54 L165.73 455.19 L166.87 454.46 L168.01 453.83 L169.15 453.41 L170.29 452.81 L171.43 452.16 L172.57 451.63 L173.72 450.98 L174.86 450.53 L176 450.39 L177.14 449.78 L178.28 449.08 L179.42 448.07 L180.56 447.55 L181.7 446.93 L182.85 446.37 L183.99 445.99" fill="none" stroke="#8cb044" stroke-width="1.3" stroke-linejoin="round" opacity="1"/>
<path d="M48.18 508.99 L49.33 506.08 L50.47 503.5 L51.61 501.22 L52.75 499.39 L53.89 497.99 L55.03 496.66 L56.17 495.54 L57.31 494.3 L58.45 493.31 L59.6 492.4 L60.74 491.67 L61.88 490.8 L63.02 490.28 L64.16 489.49 L65.3 488.97 L66.44 488.16 L67.58 487.84 L68.73 487.58 L69.87 487.07 L71.01 486.88 L72.15 486.58 L73.29 486.15 L74.43 485.92 L75.57 485.85 L76.71 485.34 L77.86 485.18 L79 484.84 L80.14 484.45 L81.28 483.82 L82.42 483.27 L83.56 482.88 L84.7 482.91 L85.84 482.68 L86.98 482.13 L88.13 481.62 L89.27 481.11 L90.41 480.75 L91.55 480.31 L92.69 479.91 L93.83 479.9 L94.97 479.43 L96.11 479.04 L97.26 478.8 L98.4 478.38 L99.54 478.03 L100.68 477.92 L101.82 477.44 L102.96 477.16 L104.1 477.12 L105.24 476.52 L106.39 476.43 L107.53 476.09 L108.67 475.43 L109.81 474.55 L110.95 474.13 L112.09 473.95 L113.23 473.76 L114.37 473.74 L115.51 473.75 L116.66 473.1 L117.8 472.99 L118.94 472.67 L120.08 472.28 L121.22 471.87 L122.36 471.61 L123.5 471.49 L124.64 471.37 L125.79 471.3 L126.93 471.08 L128.07 470.68 L129.21 470.15 L130.35 469.62 L131.49 469.17 L132.63 468.65 L133.77 468.6 L134.92 467.98 L136.06 467.65 L137.2 467.32 L138.34 467.14 L139.48 466.98 L140.62 466.49 L141.76 465.92 L142.9 465.52 L144.04 465.05 L145.19 464.45 L146.33 464.1 L147.47 464.02 L148.61 463.58 L149.75 463.11 L150.89 462.4 L152.03 462.16 L153.17 461.9 L154.32 461.49 L155.46 461.35 L156.6 460.98 L157.74 460.61 L158.88 460.11 L160.02 459.56 L161.16 458.94 L162.3 458.58 L163.45 458.05 L164.59 457.57 L165.73 457.08 L166.87 456.54 L168.01 455.92 L169.15 455.35 L170.29 454.95 L171.43 454.13 L172.57 453.66 L173.72 452.96 L174.86 452.7 L176 452.28 L177.14 451.97 L178.28 451.47 L179.42 451.03 L180.56 450.3 L181.7 449.43 L182.85 448.81 L183.99 448.28" fill="none" stroke="#e09454" stroke-width="1.3" stroke-linejoin="round" opacity="1"/>
<path d="M48.18 509.07 L49.33 505.96 L50.47 503.21 L51.61 500.83 L52.75 498.67 L53.89 496.89 L55.03 495.43 L56.17 494.31 L57.31 493.47 L58.45 492.58 L59.6 491.88 L60.74 491.03 L61.88 490.1 L63.02 489.17 L64.16 488.3 L65.3 487.67 L66.44 487.18 L67.58 486.55 L68.73 486.32 L69.87 486.08 L71.01 485.53 L72.15 484.97 L73.29 484.49 L74.43 484.18 L75.57 484.03 L76.71 483.67 L77.86 483.28 L79 482.65 L80.14 482.08 L81.28 481.6 L82.42 481.3 L83.56 481.14 L84.7 481.04 L85.84 481.24 L86.98 480.38 L88.13 479.1 L89.27 478.43 L90.41 478.24 L91.55 478.1 L92.69 477.42 L93.83 477.49 L94.97 476.91 L96.11 476.47 L97.26 475.94 L98.4 475.72 L99.54 475.48 L100.68 475.38 L101.82 475.12 L102.96 474.63 L104.1 474.21 L105.24 473.89 L106.39 473.55 L107.53 473.65 L108.67 472.75 L109.81 472.42 L110.95 471.87 L112.09 471.54 L113.23 471.56 L114.37 471.41 L115.51 470.69 L116.66 470.24 L117.8 470.09 L118.94 469.59 L120.08 469.59 L121.22 469.55 L122.36 469.49 L123.5 469.43 L124.64 468.9 L125.79 468.51 L126.93 468.27 L128.07 467.67 L129.21 467.02 L130.35 466.77 L131.49 466.13 L132.63 465.8 L133.77 465.62 L134.92 465.4 L136.06 465.1 L137.2 464.72 L138.34 464.38 L139.48 463.88 L140.62 463.69 L141.76 463.35 L142.9 462.73 L144.04 462.38 L145.19 461.93 L146.33 461.38 L147.47 460.81 L148.61 460.22 L149.75 459.58 L150.89 459.13 L152.03 458.38 L153.17 458.24 L154.32 458.01 L155.46 457.5 L156.6 456.73 L157.74 456.12 L158.88 455.53 L160.02 455.41 L161.16 454.98 L162.3 454.25 L163.45 453.63 L164.59 452.95 L165.73 452.65 L166.87 451.77 L168.01 451.2 L169.15 450.12 L170.29 449.35 L171.43 448.75 L172.57 448.46 L173.72 447.49 L174.86 446.63 L176 445.31 L177.14 444.6 L178.28 444.58 L179.42 444.2 L180.56 443.49 L181.7 442.34 L182.85 441.15 L183.99 440.46" fill="none" stroke="#d08050" stroke-width="1.3" stroke-linejoin="round" opacity="1"/>
<path d="M48.18 508.99 L49.33 505.81 L50.47 502.94 L51.61 500.34 L52.75 498.39 L53.89 496.81 L55.03 495.61 L56.17 494.37 L57.31 493.53 L58.45 492.45 L59.6 491.3 L60.74 490.25 L61.88 489.02 L63.02 488.04 L64.16 487.04 L65.3 486.97 L66.44 486.86 L67.58 485.9 L68.73 485.29 L69.87 484.61 L71.01 484.12 L72.15 483.89 L73.29 483.61 L74.43 483.08 L75.57 482.92 L76.71 482.37 L77.86 481.81 L79 480.99 L80.14 480.59 L81.28 480.04 L82.42 479.78 L83.56 479.57 L84.7 478.97 L85.84 478.62 L86.98 478.46 L88.13 477.78 L89.27 477.57 L90.41 477.27 L91.55 476.94 L92.69 476.56 L93.83 476.06 L94.97 475.27 L96.11 475.06 L97.26 474.67 L98.4 474.56 L99.54 474.39 L100.68 473.89 L101.82 473.68 L102.96 473.17 L104.1 472.53 L105.24 472.26 L106.39 471.93 L107.53 471.57 L108.67 471.4 L109.81 471.64 L110.95 471.5 L112.09 470.93 L113.23 470.27 L114.37 469.81 L115.51 469.44 L116.66 469.46 L117.8 468.91 L118.94 468.45 L120.08 468.18 L121.22 467.69 L122.36 467.1 L123.5 466.72 L124.64 466.57 L125.79 466.39 L126.93 465.98 L128.07 466.04 L129.21 465.8 L130.35 465.26 L131.49 464.76 L132.63 464.62 L133.77 464.31 L134.92 464.14 L136.06 463.8 L137.2 463.11 L138.34 462.23 L139.48 461.54 L140.62 461.31 L141.76 460.86 L142.9 460.63 L144.04 460.47 L145.19 460.01 L146.33 459.81 L147.47 459.21 L148.61 458.44 L149.75 458.37 L150.89 458 L152.03 457.56 L153.17 456.93 L154.32 456.57 L155.46 456.19 L156.6 455.76 L157.74 455.25 L158.88 454.37 L160.02 453.91 L161.16 453.15 L162.3 452.63 L163.45 452.01 L164.59 451.51 L165.73 450.87 L166.87 450.1 L168.01 449.43 L169.15 448.98 L170.29 448.26 L171.43 447.44 L172.57 446.8 L173.72 446.06 L174.86 445.89 L176 445.45 L177.14 444.9 L178.28 443.66 L179.42 442.31 L180.56 441.61 L181.7 441.16 L182.85 440.92 L183.99 439.67" fill="none" stroke="#905040" stroke-width="1.3" stroke-linejoin="round" opacity="1"/>
<path d="M48.18 508.92 L49.33 505.68 L50.47 502.65 L51.61 500.15 L52.75 498.08 L53.89 496.38 L55.03 495.03 L56.17 493.7 L57.31 492.64 L58.45 491.59 L59.6 490.55 L60.74 489.43 L61.88 488.72 L63.02 487.83 L64.16 487.11 L65.3 486.4 L66.44 485.4 L67.58 485.16 L68.73 484.65 L69.87 484.06 L71.01 483.52 L72.15 482.46 L73.29 481.59 L74.43 481.44 L75.57 481.48 L76.71 481.26 L77.86 480.37 L79 479.66 L80.14 479.02 L81.28 478.85 L82.42 478.85 L83.56 478.25 L84.7 477.9 L85.84 477.72 L86.98 477.73 L88.13 477.02 L89.27 476.84 L90.41 476.18 L91.55 475.51 L92.69 475.16 L93.83 474.46 L94.97 474.09 L96.11 473.8 L97.26 473.25 L98.4 473.34 L99.54 472.86 L100.68 472.84 L101.82 472.4 L102.96 471.81 L104.1 471.68 L105.24 471.32 L106.39 470.95 L107.53 470.51 L108.67 470.21 L109.81 469.92 L110.95 469.85 L112.09 469.1 L113.23 468.69 L114.37 468.16 L115.51 467.81 L116.66 467.65 L117.8 466.95 L118.94 466.78 L120.08 466.42 L121.22 466.55 L122.36 466.8 L123.5 466.78 L124.64 466.44 L125.79 465.94 L126.93 465.41 L128.07 464.82 L129.21 464.45 L130.35 464.18 L131.49 463.72 L132.63 463.39 L133.77 462.86 L134.92 462.94 L136.06 462.85 L137.2 462.39 L138.34 461.83 L139.48 461.1 L140.62 460.92 L141.76 460.08 L142.9 459.75 L144.04 459.6 L145.19 459.66 L146.33 458.87 L147.47 457.86 L148.61 456.87 L149.75 456.44 L150.89 455.99 L152.03 455.54 L153.17 455.46 L154.32 455.2 L155.46 454.92 L156.6 453.95 L157.74 453.7 L158.88 453.21 L160.02 452.43 L161.16 452.15 L162.3 451.39 L163.45 450.89 L164.59 450.13 L165.73 449.83 L166.87 449.6 L168.01 448.7 L169.15 447.5 L170.29 446.29 L171.43 445.55 L172.57 445.18 L173.72 444.52 L174.86 444.03 L176 443.54 L177.14 443.31 L178.28 442.44 L179.42 441.94 L180.56 440.8 L181.7 439.47 L182.85 438.37 L183.99 437.78" fill="none" stroke="#a0384a" stroke-width="1.3" stroke-linejoin="round" opacity="1"/>
<path d="M48.18 508.89 L49.33 505.65 L50.47 502.73 L51.61 500.09 L52.75 498 L53.89 496 L55.03 494.5 L56.17 493.1 L57.31 491.79 L58.45 490.57 L59.6 489.38 L60.74 488.5 L61.88 487.49 L63.02 486.31 L64.16 485.68 L65.3 485.01 L66.44 484.67 L67.58 484.16 L68.73 483.36 L69.87 482.64 L71.01 482.09 L72.15 481.49 L73.29 481.03 L74.43 480.7 L75.57 480.41 L76.71 479.64 L77.86 479.44 L79 479.08 L80.14 478.64 L81.28 478.17 L82.42 477.63 L83.56 476.95 L84.7 476.43 L85.84 475.74 L86.98 475.68 L88.13 475.51 L89.27 475.32 L90.41 474.99 L91.55 474.73 L92.69 474.1 L93.83 473.85 L94.97 473.28 L96.11 473.11 L97.26 472.71 L98.4 472.73 L99.54 472.33 L100.68 471.46 L101.82 470.9 L102.96 470.96 L104.1 470.61 L105.24 470.24 L106.39 470.23 L107.53 469.72 L108.67 469.29 L109.81 468.78 L110.95 468.55 L112.09 468.22 L113.23 467.95 L114.37 467.69 L115.51 467.52 L116.66 467.16 L117.8 466.64 L118.94 465.72 L120.08 464.91 L121.22 464.9 L122.36 464.78 L123.5 464.88 L124.64 464.68 L125.79 464.2 L126.93 463.97 L128.07 463.6 L129.21 463.27 L130.35 462.97 L131.49 462.56 L132.63 461.93 L133.77 461.95 L134.92 461.54 L136.06 461.31 L137.2 461.16 L138.34 460.81 L139.48 460.21 L140.62 459.76 L141.76 459.36 L142.9 459.12 L144.04 458.68 L145.19 458.19 L146.33 457.69 L147.47 457.23 L148.61 456.66 L149.75 456.07 L150.89 455.17 L152.03 454.67 L153.17 454.6 L154.32 454.47 L155.46 454.12 L156.6 453.45 L157.74 452.75 L158.88 452.11 L160.02 451.65 L161.16 450.91 L162.3 450.23 L163.45 449.58 L164.59 448.9 L165.73 448.29 L166.87 447.65 L168.01 446.96 L169.15 446.47 L170.29 446.12 L171.43 445.29 L172.57 444.34 L173.72 443.36 L174.86 442.96 L176 442.58 L177.14 441.91 L178.28 441.1 L179.42 440.47 L180.56 439.53 L181.7 438.98 L182.85 438.21 L183.99 437.27" fill="none" stroke="#6c2434" stroke-width="1.3" stroke-linejoin="round" opacity="1"/>
<path d="M48.18 508.88 L49.33 505.38 L50.47 502.17 L51.61 499.34 L52.75 496.95 L53.89 494.8 L55.03 492.91 L56.17 491.21 L57.31 489.79 L58.45 488.8 L59.6 487.92 L60.74 487.31 L61.88 485.97 L63.02 484.79 L64.16 483.58 L65.3 483.06 L66.44 482.57 L67.58 481.9 L68.73 481.41 L69.87 480.83 L71.01 480.27 L72.15 479.96 L73.29 479.31 L74.43 478.57 L75.57 477.73 L76.71 476.73 L77.86 476.3 L79 475.96 L80.14 475.51 L81.28 474.96 L82.42 474.56 L83.56 474.13 L84.7 473.51 L85.84 473.15 L86.98 472.78 L88.13 472.29 L89.27 471.84 L90.41 471.29 L91.55 470.87 L92.69 470.22 L93.83 469.75 L94.97 468.88 L96.11 468.52 L97.26 468.56 L98.4 468.16 L99.54 467.61 L100.68 466.96 L101.82 466.37 L102.96 465.71 L104.1 465.25 L105.24 464.97 L106.39 464.55 L107.53 464.25 L108.67 463.81 L109.81 463.12 L110.95 462.58 L112.09 462.21 L113.23 462.18 L114.37 461.84 L115.51 461.65 L116.66 461.11 L117.8 460.53 L118.94 460.32 L120.08 460.01 L121.22 459.91 L122.36 459.46 L123.5 459.35 L124.64 459.15 L125.79 459.09 L126.93 458.93 L128.07 458.56 L129.21 457.97 L130.35 457.67 L131.49 456.97 L132.63 456.08 L133.77 455.83 L134.92 455.41 L136.06 455.23 L137.2 454.87 L138.34 454.67 L139.48 454.07 L140.62 453.34 L141.76 452.79 L142.9 452.12 L144.04 451.63 L145.19 451.25 L146.33 450.83 L147.47 450.17 L148.61 449.83 L149.75 449.35 L150.89 448.76 L152.03 448.06 L153.17 447.58 L154.32 446.13 L155.46 445.48 L156.6 445.21 L157.74 444.62 L158.88 444.44 L160.02 443.98 L161.16 443.75 L162.3 442.85 L163.45 441.97 L164.59 440.98 L165.73 440.44 L166.87 439.77 L168.01 439.01 L169.15 438.35 L170.29 437.72 L171.43 436.9 L172.57 436.61 L173.72 436.02 L174.86 435.02 L176 434.25 L177.14 432.87 L178.28 432.8 L179.42 432.23 L180.56 431.81 L181.7 430.54 L182.85 429.63 L183.99 428.76" fill="none" stroke="#6aa4bc" stroke-width="1.3" stroke-linejoin="round" opacity="1"/>
<path d="M48.18 509.21 L49.33 505.66 L50.47 502.43 L51.61 499.62 L52.75 497.45 L53.89 495.44 L55.03 493.9 L56.17 492.61 L57.31 491.47 L58.45 490.41 L59.6 489.65 L60.74 488.94 L61.88 488.12 L63.02 487.06 L64.16 486.25 L65.3 485.74 L66.44 484.99 L67.58 484.31 L68.73 483.85 L69.87 483.57 L71.01 482.87 L72.15 482.56 L73.29 481.94 L74.43 481.28 L75.57 480.81 L76.71 480.21 L77.86 479.3 L79 478.65 L80.14 478.24 L81.28 477.95 L82.42 477.9 L83.56 477.3 L84.7 476.78 L85.84 475.93 L86.98 475.29 L88.13 474.4 L89.27 473.92 L90.41 473.47 L91.55 473.47 L92.69 472.96 L93.83 472.37 L94.97 471.35 L96.11 470.89 L97.26 470.3 L98.4 470.19 L99.54 469.32 L100.68 468.58 L101.82 468.18 L102.96 467.43 L104.1 466.94 L105.24 466.43 L106.39 466.23 L107.53 465.96 L108.67 465.57 L109.81 465.02 L110.95 464.26 L112.09 463.91 L113.23 463.39 L114.37 463.12 L115.51 462.29 L116.66 461.81 L117.8 461.32 L118.94 460.88 L120.08 460.69 L121.22 460.04 L122.36 459.19 L123.5 458.51 L124.64 458.39 L125.79 458.33 L126.93 458.04 L128.07 457.14 L129.21 456.25 L130.35 456.15 L131.49 455.7 L132.63 455.64 L133.77 455.12 L134.92 454.65 L136.06 454.16 L137.2 453.64 L138.34 453.25 L139.48 452.85 L140.62 452.17 L141.76 451.62 L142.9 451.24 L144.04 450.83 L145.19 450.64 L146.33 449.7 L147.47 449.06 L148.61 448.26 L149.75 447.6 L150.89 447.15 L152.03 446.22 L153.17 445.79 L154.32 445.2 L155.46 444.67 L156.6 444.08 L157.74 443.25 L158.88 442.87 L160.02 442.31 L161.16 441.85 L162.3 440.96 L163.45 440.25 L164.59 439.5 L165.73 438.66 L166.87 438.09 L168.01 437.42 L169.15 436.73 L170.29 435.79 L171.43 434.83 L172.57 433.63 L173.72 432.48 L174.86 431.5 L176 430.43 L177.14 429.39 L178.28 428.05 L179.42 427.06 L180.56 425.52 L181.7 423.86 L182.85 422.65 L183.99 421.01" fill="none" stroke="#6080c0" stroke-width="1.5" stroke-linejoin="round" opacity="1"/>
<path d="M48.18 509.07 L49.33 505.45 L50.47 502.2 L51.61 499.33 L52.75 496.89 L53.89 494.72 L55.03 492.84 L56.17 491.41 L57.31 490.1 L58.45 489.03 L59.6 488.05 L60.74 487.25 L61.88 486.1 L63.02 485.16 L64.16 484.31 L65.3 483.41 L66.44 482.39 L67.58 481.61 L68.73 481.25 L69.87 480.76 L71.01 480.36 L72.15 479.82 L73.29 479.32 L74.43 478.73 L75.57 478.19 L76.71 477.57 L77.86 477.14 L79 477.04 L80.14 476.2 L81.28 475.57 L82.42 474.73 L83.56 474.58 L84.7 474.43 L85.84 473.91 L86.98 473.34 L88.13 472.37 L89.27 471.73 L90.41 471.15 L91.55 470.47 L92.69 470.15 L93.83 470.12 L94.97 469.57 L96.11 468.57 L97.26 467.65 L98.4 467.08 L99.54 466.32 L100.68 465.58 L101.82 464.7 L102.96 464.7 L104.1 464.39 L105.24 463.92 L106.39 463.53 L107.53 463.18 L108.67 462.44 L109.81 462.03 L110.95 461.37 L112.09 460.67 L113.23 460.02 L114.37 459.53 L115.51 458.93 L116.66 458.87 L117.8 458.37 L118.94 458.11 L120.08 457.61 L121.22 457.44 L122.36 457.23 L123.5 456.8 L124.64 456.31 L125.79 455.38 L126.93 455.01 L128.07 454.56 L129.21 453.95 L130.35 453.84 L131.49 453.17 L132.63 452.4 L133.77 451.83 L134.92 451.32 L136.06 450.9 L137.2 450.64 L138.34 450.01 L139.48 449.73 L140.62 449.73 L141.76 449.43 L142.9 448.87 L144.04 448.49 L145.19 448.07 L146.33 447.39 L147.47 446.78 L148.61 446.09 L149.75 445.25 L150.89 444.67 L152.03 443.93 L153.17 443.3 L154.32 442.88 L155.46 442.12 L156.6 441.48 L157.74 440.47 L158.88 439.65 L160.02 439.35 L161.16 438.69 L162.3 438.02 L163.45 437.36 L164.59 436.35 L165.73 435.69 L166.87 434.9 L168.01 434.05 L169.15 433.22 L170.29 432.6 L171.43 431.81 L172.57 431.16 L173.72 430.51 L174.86 428.56 L176 426.87 L177.14 425.41 L178.28 424.74 L179.42 423.49 L180.56 422.33 L181.7 421.23 L182.85 419.81 L183.99 419" fill="none" stroke="#6090c0" stroke-width="1.5" stroke-linejoin="round" opacity="1"/>
<path d="M48.18 508.96 L49.33 505.15 L50.47 501.72 L51.61 498.73 L52.75 496.28 L53.89 494.3 L55.03 492.59 L56.17 491.23 L57.31 490.06 L58.45 488.9 L59.6 487.69 L60.74 486.64 L61.88 485.52 L63.02 484.17 L64.16 483.29 L65.3 482.59 L66.44 481.85 L67.58 481.27 L68.73 480.53 L69.87 479.87 L71.01 479.38 L72.15 479.3 L73.29 479.12 L74.43 478.05 L75.57 476.9 L76.71 476.07 L77.86 475.24 L79 474.95 L80.14 474.54 L81.28 474.36 L82.42 474.35 L83.56 473.8 L84.7 473 L85.84 472.51 L86.98 471.78 L88.13 471.12 L89.27 470.58 L90.41 470.27 L91.55 469.38 L92.69 468.75 L93.83 468.13 L94.97 467.4 L96.11 466.8 L97.26 466.28 L98.4 466.04 L99.54 465.7 L100.68 465.08 L101.82 464.41 L102.96 463.75 L104.1 463.01 L105.24 462.2 L106.39 461.87 L107.53 460.97 L108.67 460.84 L109.81 460.47 L110.95 460.2 L112.09 459.67 L113.23 459.16 L114.37 458.65 L115.51 458.33 L116.66 458.4 L117.8 457.86 L118.94 456.93 L120.08 456.09 L121.22 455.53 L122.36 454.97 L123.5 454.22 L124.64 454.18 L125.79 453.74 L126.93 453.61 L128.07 453.22 L129.21 453.2 L130.35 452.9 L131.49 452.73 L132.63 452.67 L133.77 452 L134.92 451.09 L136.06 450.56 L137.2 450.25 L138.34 449.81 L139.48 449.52 L140.62 448.56 L141.76 447.67 L142.9 446.93 L144.04 446.21 L145.19 445.45 L146.33 445.01 L147.47 444.44 L148.61 443.99 L149.75 443.57 L150.89 442.99 L152.03 442.63 L153.17 442.19 L154.32 441.41 L155.46 440.62 L156.6 440.16 L157.74 440.04 L158.88 439.14 L160.02 438.39 L161.16 437.85 L162.3 436.84 L163.45 435.93 L164.59 435.51 L165.73 434.73 L166.87 433.84 L168.01 433.4 L169.15 432.96 L170.29 432.41 L171.43 431.45 L172.57 429.83 L173.72 428.59 L174.86 427.37 L176 426.19 L177.14 425.02 L178.28 424.34 L179.42 423.25 L180.56 422.05 L181.7 420.88 L182.85 419.25 L183.99 417.85" fill="none" stroke="#5084ac" stroke-width="1.5" stroke-linejoin="round" opacity="1"/>
<path d="M48.18 508.86 L49.33 505.09 L50.47 501.7 L51.61 498.82 L52.75 496.25 L53.89 494.03 L55.03 492.29 L56.17 490.73 L57.31 489.62 L58.45 488.1 L59.6 486.63 L60.74 485.26 L61.88 484.75 L63.02 483.81 L64.16 483.31 L65.3 482.27 L66.44 481.57 L67.58 480.75 L68.73 479.8 L69.87 479.4 L71.01 478.98 L72.15 478.59 L73.29 478.06 L74.43 477.3 L75.57 476.13 L76.71 475.38 L77.86 474.8 L79 474.75 L80.14 474.46 L81.28 473.86 L82.42 473.31 L83.56 472.69 L84.7 471.98 L85.84 471.09 L86.98 470.55 L88.13 469.78 L89.27 469.06 L90.41 468.59 L91.55 468.35 L92.69 467.85 L93.83 466.74 L94.97 465.75 L96.11 465.45 L97.26 465.12 L98.4 464.73 L99.54 464.29 L100.68 463.55 L101.82 463.14 L102.96 462.58 L104.1 461.89 L105.24 461.43 L106.39 460.97 L107.53 460.38 L108.67 460.09 L109.81 459.93 L110.95 459.52 L112.09 458.76 L113.23 458.41 L114.37 457.78 L115.51 457.08 L116.66 456.68 L117.8 456.1 L118.94 455.48 L120.08 454.68 L121.22 454.55 L122.36 454.39 L123.5 454.02 L124.64 453.4 L125.79 453.09 L126.93 452.61 L128.07 452.62 L129.21 452.84 L130.35 452.32 L131.49 451.6 L132.63 450.83 L133.77 450.13 L134.92 449.59 L136.06 449.14 L137.2 448.32 L138.34 447.75 L139.48 446.9 L140.62 446.62 L141.76 446.05 L142.9 445.74 L144.04 445.16 L145.19 445.02 L146.33 444.35 L147.47 443.96 L148.61 443.17 L149.75 442.62 L150.89 442.21 L152.03 441.7 L153.17 441.2 L154.32 440.71 L155.46 440.11 L156.6 439.42 L157.74 438.46 L158.88 437.93 L160.02 437.32 L161.16 436.67 L162.3 436.04 L163.45 435.23 L164.59 434.4 L165.73 433.24 L166.87 432.63 L168.01 431.74 L169.15 431.3 L170.29 430.4 L171.43 429.31 L172.57 428.23 L173.72 426.86 L174.86 426.31 L176 425.55 L177.14 424.52 L178.28 423.16 L179.42 421.97 L180.56 420.76 L181.7 419.49 L182.85 418.04 L183.99 417.23" fill="none" stroke="#4e82b0" stroke-width="1.5" stroke-linejoin="round" opacity="1"/>
<path d="M48.18 508.89 L49.33 506.86 L50.47 504.94 L51.61 503.11 L52.75 501.26 L53.89 499.52 L55.03 497.81 L56.17 496.44 L57.31 495.64 L58.45 494.77 L59.6 494.07 L60.74 493.59 L61.88 493.11 L63.02 492.57 L64.16 491.86 L65.3 491.33 L66.44 490.66 L67.58 490.44 L68.73 490.24 L69.87 490.43 L71.01 490.26 L72.15 489.97 L73.29 489.66 L74.43 489.22 L75.57 488.63 L76.71 488.39 L77.86 487.7 L79 487.24 L80.14 486.78 L81.28 486.87 L82.42 486.48 L83.56 486.42 L84.7 485.97 L85.84 485.69 L86.98 485.14 L88.13 484.83 L89.27 484.47 L90.41 484.48 L91.55 484.2 L92.69 484.11 L93.83 484.13 L94.97 484.14 L96.11 483.48 L97.26 482.95 L98.4 482.31 L99.54 482.43 L100.68 482.44 L101.82 482.42 L102.96 481.84 L104.1 481.63 L105.24 481.34 L106.39 481.27 L107.53 481.27 L108.67 480.82 L109.81 480.62 L110.95 479.88 L112.09 480.04 L113.23 480.11 L114.37 480.15 L115.51 479.93 L116.66 479.85 L117.8 479.56 L118.94 479.28 L120.08 478.88 L121.22 478.47 L122.36 478.06 L123.5 477.85 L124.64 477.97 L125.79 478.03 L126.93 477.77 L128.07 477.48 L129.21 476.99 L130.35 476.55 L131.49 476.5 L132.63 475.96 L133.77 476.05 L134.92 476.5 L136.06 476.66 L137.2 475.88 L138.34 475.39 L139.48 474.86 L140.62 474.45 L141.76 474.38 L142.9 474.26 L144.04 474.1 L145.19 474.13 L146.33 473.85 L147.47 473.38 L148.61 473.05 L149.75 473.16 L150.89 472.64 L152.03 472.45 L153.17 471.94 L154.32 471.4 L155.46 471 L156.6 471.03 L157.74 471.05 L158.88 470.6 L160.02 470.33 L161.16 469.62 L162.3 469.24 L163.45 468.98 L164.59 468.73 L165.73 468.87 L166.87 468.97 L168.01 468.58 L169.15 468.02 L170.29 467.43 L171.43 467.04 L172.57 466.62 L173.72 466.54 L174.86 466.32 L176 465.73 L177.14 465.73 L178.28 465.11 L179.42 464.59 L180.56 464.3 L181.7 464.08 L182.85 463.66 L183.99 463.61" fill="none" stroke="#483078" stroke-width="1.4" stroke-linejoin="round" opacity="1"/>
<line x1="46.9" y1="403.3" x2="46.9" y2="521" stroke="#000" stroke-width="1.5"/>
<line x1="46.199999999999996" y1="508.9" x2="218.28" y2="508.9" stroke="#000" stroke-width="1.5"/>
<line x1="43.5" y1="520.3" x2="46.9" y2="520.3" stroke="#000" stroke-width="1.1"/>
<text x="40.2" y="522.6" font-size="6.4" text-anchor="end" fill="#333" stroke="#333" stroke-width="0.2">-0.5</text>
<line x1="43.5" y1="508.9" x2="46.9" y2="508.9" stroke="#000" stroke-width="1.1"/>
<text x="40.2" y="511.2" font-size="6.4" text-anchor="end" fill="#333" stroke="#333" stroke-width="0.2">0</text>
<line x1="43.5" y1="497.5" x2="46.9" y2="497.5" stroke="#000" stroke-width="1.1"/>
<text x="40.2" y="499.8" font-size="6.4" text-anchor="end" fill="#333" stroke="#333" stroke-width="0.2">0.5</text>
<line x1="43.5" y1="486.1" x2="46.9" y2="486.1" stroke="#000" stroke-width="1.1"/>
<text x="40.2" y="488.4" font-size="6.4" text-anchor="end" fill="#333" stroke="#333" stroke-width="0.2">1</text>
<line x1="43.5" y1="474.7" x2="46.9" y2="474.7" stroke="#000" stroke-width="1.1"/>
<text x="40.2" y="477" font-size="6.4" text-anchor="end" fill="#333" stroke="#333" stroke-width="0.2">1.5</text>
<line x1="43.5" y1="463.3" x2="46.9" y2="463.3" stroke="#000" stroke-width="1.1"/>
<text x="40.2" y="465.6" font-size="6.4" text-anchor="end" fill="#333" stroke="#333" stroke-width="0.2">2</text>
<line x1="43.5" y1="451.9" x2="46.9" y2="451.9" stroke="#000" stroke-width="1.1"/>
<text x="40.2" y="454.2" font-size="6.4" text-anchor="end" fill="#333" stroke="#333" stroke-width="0.2">2.5</text>
<line x1="43.5" y1="440.5" x2="46.9" y2="440.5" stroke="#000" stroke-width="1.1"/>
<text x="40.2" y="442.8" font-size="6.4" text-anchor="end" fill="#333" stroke="#333" stroke-width="0.2">3</text>
<line x1="43.5" y1="429.1" x2="46.9" y2="429.1" stroke="#000" stroke-width="1.1"/>
<text x="40.2" y="431.4" font-size="6.4" text-anchor="end" fill="#333" stroke="#333" stroke-width="0.2">3.5</text>
<line x1="43.5" y1="417.7" x2="46.9" y2="417.7" stroke="#000" stroke-width="1.1"/>
<text x="40.2" y="420" font-size="6.4" text-anchor="end" fill="#333" stroke="#333" stroke-width="0.2">4</text>
<line x1="43.5" y1="406.3" x2="46.9" y2="406.3" stroke="#000" stroke-width="1.1"/>
<text x="40.2" y="408.6" font-size="6.4" text-anchor="end" fill="#333" stroke="#333" stroke-width="0.2">4.5</text>
<text x="46.9" y="517.9" font-size="6.5" text-anchor="middle" fill="#333" stroke="#333" stroke-width="0.2">0</text>
<text x="75.43" y="517.9" font-size="6.5" text-anchor="middle" fill="#333" stroke="#333" stroke-width="0.2">10</text>
<text x="103.96" y="517.9" font-size="6.5" text-anchor="middle" fill="#333" stroke="#333" stroke-width="0.2">20</text>
<text x="132.49" y="517.9" font-size="6.5" text-anchor="middle" fill="#333" stroke="#333" stroke-width="0.2">30</text>
<text x="161.02" y="517.9" font-size="6.5" text-anchor="middle" fill="#333" stroke="#333" stroke-width="0.2">40</text>
<text x="189.55" y="517.9" font-size="6.5" text-anchor="middle" fill="#333" stroke="#333" stroke-width="0.2">50</text>
<text x="218.08" y="517.9" font-size="6.5" text-anchor="middle" fill="#333" stroke="#333" stroke-width="0.2">60</text>
<text x="132.4" y="529.2" font-size="9.3" font-weight="bold" text-anchor="middle" textLength="13" lengthAdjust="spacingAndGlyphs" fill="#111" stroke="#111" stroke-width="0.3">Time</text>
<text transform="translate(25.9 464.5) rotate(-90)" font-size="8.8" text-anchor="middle" textLength="41" lengthAdjust="spacingAndGlyphs" fill="#333" stroke="#333" stroke-width="0.3">Cell index at 48h</text>
<text x="86.9" y="398.3" font-size="8.8" font-weight="bold" textLength="93" lengthAdjust="spacingAndGlyphs" fill="#000" stroke="#000" stroke-width="0.25" style="white-space:pre">NAC DCN Cell  Growth</text>
<line x1="224.2" y1="423.6" x2="231.2" y2="423.6" stroke="#9090b0" stroke-width="1.8"/>
<text x="234.2" y="425.1" font-size="4.1" letter-spacing="0.2" fill="#3a3a3a" stroke="#3a3a3a" stroke-width="0.18">M N 0.010</text>
<line x1="224.2" y1="429.27" x2="231.2" y2="429.27" stroke="#a8a8d8" stroke-width="1.8"/>
<text x="234.2" y="430.77" font-size="4.1" letter-spacing="0.2" fill="#3a3a3a" stroke="#3a3a3a" stroke-width="0.18">NC N 0.010</text>
<line x1="224.2" y1="434.94" x2="231.2" y2="434.94" stroke="#b09898" stroke-width="1.8"/>
<text x="234.2" y="436.44" font-size="4.1" letter-spacing="0.2" fill="#3a3a3a" stroke="#3a3a3a" stroke-width="0.18">S2 N 0.010</text>
<line x1="224.2" y1="440.61" x2="231.2" y2="440.61" stroke="#a8c8a8" stroke-width="1.8"/>
<text x="234.2" y="442.11" font-size="4.1" letter-spacing="0.2" fill="#3a3a3a" stroke="#3a3a3a" stroke-width="0.18">S3 N 0.010</text>
<line x1="224.2" y1="446.28" x2="231.2" y2="446.28" stroke="#e09050" stroke-width="1.8"/>
<text x="234.2" y="447.78" font-size="4.1" letter-spacing="0.2" fill="#3a3a3a" stroke="#3a3a3a" stroke-width="0.18">M N 0.026</text>
<line x1="224.2" y1="451.95" x2="231.2" y2="451.95" stroke="#90b040" stroke-width="1.8"/>
<text x="234.2" y="453.45" font-size="4.1" letter-spacing="0.2" fill="#3a3a3a" stroke="#3a3a3a" stroke-width="0.18">NC N 0.026</text>
<line x1="224.2" y1="457.62" x2="231.2" y2="457.62" stroke="#503080" stroke-width="1.8"/>
<text x="234.2" y="459.12" font-size="4.1" letter-spacing="0.2" fill="#3a3a3a" stroke="#3a3a3a" stroke-width="0.18">S2 N 0.026</text>
<line x1="224.2" y1="463.29" x2="231.2" y2="463.29" stroke="#6090c0" stroke-width="1.8"/>
<text x="234.2" y="464.79" font-size="4.1" letter-spacing="0.2" fill="#3a3a3a" stroke="#3a3a3a" stroke-width="0.18">S3 N 0.026</text>
<line x1="224.2" y1="468.96" x2="231.2" y2="468.96" stroke="#905040" stroke-width="1.8"/>
<text x="234.2" y="470.46" font-size="4.1" letter-spacing="0.2" fill="#3a3a3a" stroke="#3a3a3a" stroke-width="0.18">M N 0.040</text>
<line x1="224.2" y1="474.63" x2="231.2" y2="474.63" stroke="#5080a0" stroke-width="1.8"/>
<text x="234.2" y="476.13" font-size="4.1" letter-spacing="0.2" fill="#3a3a3a" stroke="#3a3a3a" stroke-width="0.18">NC N 0.040</text>
<line x1="224.2" y1="480.3" x2="231.2" y2="480.3" stroke="#d08050" stroke-width="1.8"/>
<text x="234.2" y="481.8" font-size="4.1" letter-spacing="0.2" fill="#3a3a3a" stroke="#3a3a3a" stroke-width="0.18">S2 N 0.040</text>
<line x1="224.2" y1="485.97" x2="231.2" y2="485.97" stroke="#6080c0" stroke-width="1.8"/>
<text x="234.2" y="487.47" font-size="4.1" letter-spacing="0.2" fill="#3a3a3a" stroke="#3a3a3a" stroke-width="0.18">S3 N 0.040</text>
<line x1="224.2" y1="491.64" x2="231.2" y2="491.64" stroke="#503038" stroke-width="1.8"/>
<text x="234.2" y="493.14" font-size="4.1" letter-spacing="0.2" fill="#3a3a3a" stroke="#3a3a3a" stroke-width="0.18">M N 0.079</text>
<line x1="224.2" y1="497.31" x2="231.2" y2="497.31" stroke="#306090" stroke-width="1.8"/>
<text x="234.2" y="498.81" font-size="4.1" letter-spacing="0.2" fill="#3a3a3a" stroke="#3a3a3a" stroke-width="0.18">NC N 0.079</text>
<line x1="224.2" y1="502.98" x2="231.2" y2="502.98" stroke="#702030" stroke-width="1.8"/>
<text x="234.2" y="504.48" font-size="4.1" letter-spacing="0.2" fill="#3a3a3a" stroke="#3a3a3a" stroke-width="0.18">S2 N 0.079</text>
<line x1="224.2" y1="508.65" x2="231.2" y2="508.65" stroke="#80a060" stroke-width="1.8"/>
<text x="234.2" y="510.15" font-size="4.1" letter-spacing="0.2" fill="#3a3a3a" stroke="#3a3a3a" stroke-width="0.18">S3 N 0.079</text>
<rect x="302.5" y="53.42" width="7.0" height="70.58" fill="#b40c34" stroke="#7d0b27" stroke-width="0.5"/>
<line x1="306" y1="52.77" x2="306" y2="54.07" stroke="#111" stroke-width="1"/>
<line x1="303.8" y1="52.77" x2="308.2" y2="52.77" stroke="#111" stroke-width="1"/>
<line x1="303.8" y1="54.07" x2="308.2" y2="54.07" stroke="#111" stroke-width="1"/>
<line x1="306" y1="124" x2="306" y2="126.6" stroke="#000" stroke-width="1.2"/>
<text transform="translate(308.9 134.5) rotate(-45)" font-size="6.7" text-anchor="end" fill="#222" stroke="#222" stroke-width="0.3">Mock</text>
<rect x="311.95" y="88.79" width="7.0" height="35.21" fill="#2d4d8c" stroke="#1e3566" stroke-width="0.5"/>
<line x1="315.45" y1="87.98" x2="315.45" y2="89.61" stroke="#111" stroke-width="1"/>
<line x1="313.25" y1="87.98" x2="317.65" y2="87.98" stroke="#111" stroke-width="1"/>
<line x1="313.25" y1="89.61" x2="317.65" y2="89.61" stroke="#111" stroke-width="1"/>
<line x1="315.45" y1="124" x2="315.45" y2="126.6" stroke="#000" stroke-width="1.2"/>
<text transform="translate(318.35 134.5) rotate(-45)" font-size="6.7" text-anchor="end" fill="#222" stroke="#222" stroke-width="0.3">Mock UFH 0.15</text>
<rect x="321.4" y="89.77" width="7.0" height="34.23" fill="#5aa83f" stroke="#3c7a2c" stroke-width="0.5"/>
<line x1="324.9" y1="88.14" x2="324.9" y2="91.4" stroke="#111" stroke-width="1"/>
<line x1="322.7" y1="88.14" x2="327.1" y2="88.14" stroke="#111" stroke-width="1"/>
<line x1="322.7" y1="91.4" x2="327.1" y2="91.4" stroke="#111" stroke-width="1"/>
<line x1="324.9" y1="124" x2="324.9" y2="126.6" stroke="#000" stroke-width="1.2"/>
<text transform="translate(327.8 134.5) rotate(-45)" font-size="6.7" text-anchor="end" fill="#222" stroke="#222" stroke-width="0.3">Mock UFH 0.35</text>
<rect x="330.85" y="92.38" width="7.0" height="31.62" fill="#ef9a1e" stroke="#b06e10" stroke-width="0.5"/>
<line x1="334.35" y1="91.89" x2="334.35" y2="92.87" stroke="#111" stroke-width="1"/>
<line x1="332.15" y1="91.89" x2="336.55" y2="91.89" stroke="#111" stroke-width="1"/>
<line x1="332.15" y1="92.87" x2="336.55" y2="92.87" stroke="#111" stroke-width="1"/>
<line x1="334.35" y1="124" x2="334.35" y2="126.6" stroke="#000" stroke-width="1.2"/>
<text transform="translate(337.25 134.5) rotate(-45)" font-size="6.7" text-anchor="end" fill="#222" stroke="#222" stroke-width="0.3">Mock UFH 0.5</text>
<rect x="340.3" y="93.03" width="7.0" height="30.97" fill="#5a2a6f" stroke="#3c1a4c" stroke-width="0.5"/>
<line x1="343.8" y1="92.7" x2="343.8" y2="93.36" stroke="#111" stroke-width="1"/>
<line x1="341.6" y1="92.7" x2="346" y2="92.7" stroke="#111" stroke-width="1"/>
<line x1="341.6" y1="93.36" x2="346" y2="93.36" stroke="#111" stroke-width="1"/>
<line x1="343.8" y1="124" x2="343.8" y2="126.6" stroke="#000" stroke-width="1.2"/>
<text transform="translate(346.7 134.5) rotate(-45)" font-size="6.7" text-anchor="end" fill="#222" stroke="#222" stroke-width="0.3">Mock UFH 1.0</text>
<rect x="355.8" y="51.46" width="7.0" height="72.54" fill="#b40c34" stroke="#7d0b27" stroke-width="0.5"/>
<line x1="359.3" y1="50.32" x2="359.3" y2="52.61" stroke="#111" stroke-width="1"/>
<line x1="357.1" y1="50.32" x2="361.5" y2="50.32" stroke="#111" stroke-width="1"/>
<line x1="357.1" y1="52.61" x2="361.5" y2="52.61" stroke="#111" stroke-width="1"/>
<line x1="359.3" y1="124" x2="359.3" y2="126.6" stroke="#000" stroke-width="1.2"/>
<text transform="translate(362.2 134.5) rotate(-45)" font-size="6.7" text-anchor="end" fill="#222" stroke="#222" stroke-width="0.3">NC</text>
<rect x="365.25" y="91.89" width="7.0" height="32.11" fill="#2d4d8c" stroke="#1e3566" stroke-width="0.5"/>
<line x1="368.75" y1="91.4" x2="368.75" y2="92.38" stroke="#111" stroke-width="1"/>
<line x1="366.55" y1="91.4" x2="370.95" y2="91.4" stroke="#111" stroke-width="1"/>
<line x1="366.55" y1="92.38" x2="370.95" y2="92.38" stroke="#111" stroke-width="1"/>
<line x1="368.75" y1="124" x2="368.75" y2="126.6" stroke="#000" stroke-width="1.2"/>
<text transform="translate(371.65 134.5) rotate(-45)" font-size="6.7" text-anchor="end" fill="#222" stroke="#222" stroke-width="0.3">NC UFH 0.35</text>
<rect x="374.7" y="94.33" width="7.0" height="29.67" fill="#5aa83f" stroke="#3c7a2c" stroke-width="0.5"/>
<line x1="378.2" y1="93.19" x2="378.2" y2="95.48" stroke="#111" stroke-width="1"/>
<line x1="376" y1="93.19" x2="380.4" y2="93.19" stroke="#111" stroke-width="1"/>
<line x1="376" y1="95.48" x2="380.4" y2="95.48" stroke="#111" stroke-width="1"/>
<line x1="378.2" y1="124" x2="378.2" y2="126.6" stroke="#000" stroke-width="1.2"/>
<text transform="translate(381.1 134.5) rotate(-45)" font-size="6.7" text-anchor="end" fill="#222" stroke="#222" stroke-width="0.3">NC UFH 0.5</text>
<rect x="384.15" y="94.66" width="7.0" height="29.34" fill="#ef9a1e" stroke="#b06e10" stroke-width="0.5"/>
<line x1="387.65" y1="93.52" x2="387.65" y2="95.8" stroke="#111" stroke-width="1"/>
<line x1="385.45" y1="93.52" x2="389.85" y2="93.52" stroke="#111" stroke-width="1"/>
<line x1="385.45" y1="95.8" x2="389.85" y2="95.8" stroke="#111" stroke-width="1"/>
<line x1="387.65" y1="124" x2="387.65" y2="126.6" stroke="#000" stroke-width="1.2"/>
<text transform="translate(390.55 134.5) rotate(-45)" font-size="6.7" text-anchor="end" fill="#222" stroke="#222" stroke-width="0.3">NC UFH 0.5</text>
<rect x="393.6" y="95.47" width="7.0" height="28.53" fill="#5a2a6f" stroke="#3c1a4c" stroke-width="0.5"/>
<line x1="397.1" y1="94.99" x2="397.1" y2="95.96" stroke="#111" stroke-width="1"/>
<line x1="394.9" y1="94.99" x2="399.3" y2="94.99" stroke="#111" stroke-width="1"/>
<line x1="394.9" y1="95.96" x2="399.3" y2="95.96" stroke="#111" stroke-width="1"/>
<line x1="397.1" y1="124" x2="397.1" y2="126.6" stroke="#000" stroke-width="1.2"/>
<text transform="translate(400 134.5) rotate(-45)" font-size="6.7" text-anchor="end" fill="#222" stroke="#222" stroke-width="0.3">NC UFH 1.0</text>
<rect x="409.1" y="71.03" width="7.0" height="52.98" fill="#b40c34" stroke="#7d0b27" stroke-width="0.5"/>
<line x1="412.6" y1="70.7" x2="412.6" y2="71.35" stroke="#111" stroke-width="1"/>
<line x1="410.4" y1="70.7" x2="414.8" y2="70.7" stroke="#111" stroke-width="1"/>
<line x1="410.4" y1="71.35" x2="414.8" y2="71.35" stroke="#111" stroke-width="1"/>
<line x1="412.6" y1="124" x2="412.6" y2="126.6" stroke="#000" stroke-width="1.2"/>
<text transform="translate(415.5 134.5) rotate(-45)" font-size="6.7" text-anchor="end" fill="#222" stroke="#222" stroke-width="0.3">DCN S2</text>
<rect x="418.55" y="91.4" width="7.0" height="32.6" fill="#2d4d8c" stroke="#1e3566" stroke-width="0.5"/>
<line x1="422.05" y1="90.75" x2="422.05" y2="92.05" stroke="#111" stroke-width="1"/>
<line x1="419.85" y1="90.75" x2="424.25" y2="90.75" stroke="#111" stroke-width="1"/>
<line x1="419.85" y1="92.05" x2="424.25" y2="92.05" stroke="#111" stroke-width="1"/>
<line x1="422.05" y1="124" x2="422.05" y2="126.6" stroke="#000" stroke-width="1.2"/>
<text transform="translate(424.95 134.5) rotate(-45)" font-size="6.7" text-anchor="end" fill="#222" stroke="#222" stroke-width="0.3">DCN S2 UFH 0.15</text>
<rect x="428" y="92.38" width="7.0" height="31.62" fill="#5aa83f" stroke="#3c7a2c" stroke-width="0.5"/>
<line x1="431.5" y1="92.05" x2="431.5" y2="92.7" stroke="#111" stroke-width="1"/>
<line x1="429.3" y1="92.05" x2="433.7" y2="92.05" stroke="#111" stroke-width="1"/>
<line x1="429.3" y1="92.7" x2="433.7" y2="92.7" stroke="#111" stroke-width="1"/>
<line x1="431.5" y1="124" x2="431.5" y2="126.6" stroke="#000" stroke-width="1.2"/>
<text transform="translate(434.4 134.5) rotate(-45)" font-size="6.7" text-anchor="end" fill="#222" stroke="#222" stroke-width="0.3">DCN S2 UFH 0.35</text>
<rect x="437.45" y="93.84" width="7.0" height="30.16" fill="#ef9a1e" stroke="#b06e10" stroke-width="0.5"/>
<line x1="440.95" y1="92.7" x2="440.95" y2="94.99" stroke="#111" stroke-width="1"/>
<line x1="438.75" y1="92.7" x2="443.15" y2="92.7" stroke="#111" stroke-width="1"/>
<line x1="438.75" y1="94.99" x2="443.15" y2="94.99" stroke="#111" stroke-width="1"/>
<line x1="440.95" y1="124" x2="440.95" y2="126.6" stroke="#000" stroke-width="1.2"/>
<text transform="translate(443.85 134.5) rotate(-45)" font-size="6.7" text-anchor="end" fill="#222" stroke="#222" stroke-width="0.3">DCN S2 UFH 0.5</text>
<rect x="446.9" y="93.03" width="7.0" height="30.97" fill="#5a2a6f" stroke="#3c1a4c" stroke-width="0.5"/>
<line x1="450.4" y1="92.7" x2="450.4" y2="93.36" stroke="#111" stroke-width="1"/>
<line x1="448.2" y1="92.7" x2="452.6" y2="92.7" stroke="#111" stroke-width="1"/>
<line x1="448.2" y1="93.36" x2="452.6" y2="93.36" stroke="#111" stroke-width="1"/>
<line x1="450.4" y1="124" x2="450.4" y2="126.6" stroke="#000" stroke-width="1.2"/>
<text transform="translate(453.3 134.5) rotate(-45)" font-size="6.7" text-anchor="end" fill="#222" stroke="#222" stroke-width="0.3">DCN S2 UFH 1.0</text>
<rect x="462.4" y="73.14" width="7.0" height="50.86" fill="#b40c34" stroke="#7d0b27" stroke-width="0.5"/>
<line x1="465.9" y1="71.51" x2="465.9" y2="74.77" stroke="#111" stroke-width="1"/>
<line x1="463.7" y1="71.51" x2="468.1" y2="71.51" stroke="#111" stroke-width="1"/>
<line x1="463.7" y1="74.77" x2="468.1" y2="74.77" stroke="#111" stroke-width="1"/>
<line x1="465.9" y1="124" x2="465.9" y2="126.6" stroke="#000" stroke-width="1.2"/>
<text transform="translate(468.8 134.5) rotate(-45)" font-size="6.7" text-anchor="end" fill="#222" stroke="#222" stroke-width="0.3">DCN S3</text>
<rect x="471.85" y="90.42" width="7.0" height="33.58" fill="#2d4d8c" stroke="#1e3566" stroke-width="0.5"/>
<line x1="475.35" y1="89.44" x2="475.35" y2="91.4" stroke="#111" stroke-width="1"/>
<line x1="473.15" y1="89.44" x2="477.55" y2="89.44" stroke="#111" stroke-width="1"/>
<line x1="473.15" y1="91.4" x2="477.55" y2="91.4" stroke="#111" stroke-width="1"/>
<line x1="475.35" y1="124" x2="475.35" y2="126.6" stroke="#000" stroke-width="1.2"/>
<text transform="translate(478.25 134.5) rotate(-45)" font-size="6.7" text-anchor="end" fill="#222" stroke="#222" stroke-width="0.3">DCN S3 UFH 0.15</text>
<rect x="481.3" y="90.42" width="7.0" height="33.58" fill="#5aa83f" stroke="#3c7a2c" stroke-width="0.5"/>
<line x1="484.8" y1="88.79" x2="484.8" y2="92.05" stroke="#111" stroke-width="1"/>
<line x1="482.6" y1="88.79" x2="487" y2="88.79" stroke="#111" stroke-width="1"/>
<line x1="482.6" y1="92.05" x2="487" y2="92.05" stroke="#111" stroke-width="1"/>
<line x1="484.8" y1="124" x2="484.8" y2="126.6" stroke="#000" stroke-width="1.2"/>
<text transform="translate(487.7 134.5) rotate(-45)" font-size="6.7" text-anchor="end" fill="#222" stroke="#222" stroke-width="0.3">DCN S3 UFH 0.35</text>
<rect x="490.75" y="92.05" width="7.0" height="31.95" fill="#ef9a1e" stroke="#b06e10" stroke-width="0.5"/>
<line x1="494.25" y1="91.73" x2="494.25" y2="92.38" stroke="#111" stroke-width="1"/>
<line x1="492.05" y1="91.73" x2="496.45" y2="91.73" stroke="#111" stroke-width="1"/>
<line x1="492.05" y1="92.38" x2="496.45" y2="92.38" stroke="#111" stroke-width="1"/>
<line x1="494.25" y1="124" x2="494.25" y2="126.6" stroke="#000" stroke-width="1.2"/>
<text transform="translate(497.15 134.5) rotate(-45)" font-size="6.7" text-anchor="end" fill="#222" stroke="#222" stroke-width="0.3">DCN S3 UFH 0.5</text>
<rect x="500.2" y="90.75" width="7.0" height="33.25" fill="#5a2a6f" stroke="#3c1a4c" stroke-width="0.5"/>
<line x1="503.7" y1="89.44" x2="503.7" y2="92.05" stroke="#111" stroke-width="1"/>
<line x1="501.5" y1="89.44" x2="505.9" y2="89.44" stroke="#111" stroke-width="1"/>
<line x1="501.5" y1="92.05" x2="505.9" y2="92.05" stroke="#111" stroke-width="1"/>
<line x1="503.7" y1="124" x2="503.7" y2="126.6" stroke="#000" stroke-width="1.2"/>
<text transform="translate(506.6 134.5) rotate(-45)" font-size="6.7" text-anchor="end" fill="#222" stroke="#222" stroke-width="0.3">DCN S3 UFH 1.0</text>
<line x1="351.55" y1="42.5" x2="351.55" y2="124" stroke="#000" stroke-width="1.2" stroke-dasharray="1.1 0.8"/>
<line x1="404.85" y1="42.5" x2="404.85" y2="124" stroke="#000" stroke-width="1.2" stroke-dasharray="1.1 0.8"/>
<line x1="458.15" y1="42.5" x2="458.15" y2="124" stroke="#000" stroke-width="1.2" stroke-dasharray="1.1 0.8"/>
<line x1="298.3" y1="39" x2="298.3" y2="124.7" stroke="#000" stroke-width="1.5"/>
<line x1="297.6" y1="124" x2="512.8" y2="124" stroke="#000" stroke-width="1.5"/>
<line x1="294.8" y1="124" x2="298.3" y2="124" stroke="#000" stroke-width="1.1"/>
<text x="292" y="126.3" font-size="6.4" text-anchor="end" fill="#333" stroke="#333" stroke-width="0.2">0</text>
<line x1="294.8" y1="107.7" x2="298.3" y2="107.7" stroke="#000" stroke-width="1.1"/>
<text x="292" y="110" font-size="6.4" text-anchor="end" fill="#333" stroke="#333" stroke-width="0.2">1</text>
<line x1="294.8" y1="91.4" x2="298.3" y2="91.4" stroke="#000" stroke-width="1.1"/>
<text x="292" y="93.7" font-size="6.4" text-anchor="end" fill="#333" stroke="#333" stroke-width="0.2">2</text>
<line x1="294.8" y1="75.1" x2="298.3" y2="75.1" stroke="#000" stroke-width="1.1"/>
<text x="292" y="77.4" font-size="6.4" text-anchor="end" fill="#333" stroke="#333" stroke-width="0.2">3</text>
<line x1="294.8" y1="58.8" x2="298.3" y2="58.8" stroke="#000" stroke-width="1.1"/>
<text x="292" y="61.1" font-size="6.4" text-anchor="end" fill="#333" stroke="#333" stroke-width="0.2">4</text>
<line x1="294.8" y1="42.5" x2="298.3" y2="42.5" stroke="#000" stroke-width="1.1"/>
<text x="292" y="44.8" font-size="6.4" text-anchor="end" fill="#333" stroke="#333" stroke-width="0.2">5</text>
<text transform="translate(283.1 83) rotate(-90)" font-size="8.8" text-anchor="middle" textLength="42.5" lengthAdjust="spacingAndGlyphs" fill="#333" stroke="#333" stroke-width="0.3">Cell index at 48h</text>
<text x="352.5" y="31" font-size="8.6" font-weight="bold" textLength="105.5" lengthAdjust="spacingAndGlyphs" fill="#000" stroke="#000" stroke-width="0.25">UFH DCN CELL GROWTH</text>
<line x1="315.6" y1="81.6" x2="344.3" y2="81.6" stroke="#383838" stroke-width="1.3"/>
<circle cx="324.4" cy="76.4" r="1.15" fill="#111"/>
<circle cx="328.1" cy="76.4" r="1.15" fill="#111"/>
<circle cx="331.8" cy="76.4" r="1.15" fill="#111"/>
<circle cx="335.5" cy="76.4" r="1.15" fill="#111"/>
<line x1="369.2" y1="87.8" x2="397.6" y2="87.8" stroke="#383838" stroke-width="1.3"/>
<circle cx="377.85" cy="82.6" r="1.15" fill="#111"/>
<circle cx="381.55" cy="82.6" r="1.15" fill="#111"/>
<circle cx="385.25" cy="82.6" r="1.15" fill="#111"/>
<circle cx="388.95" cy="82.6" r="1.15" fill="#111"/>
<line x1="422" y1="86" x2="451" y2="86" stroke="#383838" stroke-width="1.3"/>
<circle cx="430.95" cy="80.8" r="1.15" fill="#111"/>
<circle cx="434.65" cy="80.8" r="1.15" fill="#111"/>
<circle cx="438.35" cy="80.8" r="1.15" fill="#111"/>
<circle cx="442.05" cy="80.8" r="1.15" fill="#111"/>
<line x1="475.2" y1="82.7" x2="504" y2="82.7" stroke="#383838" stroke-width="1.3"/>
<circle cx="484.05" cy="77.5" r="1.15" fill="#111"/>
<circle cx="487.75" cy="77.5" r="1.15" fill="#111"/>
<circle cx="491.45" cy="77.5" r="1.15" fill="#111"/>
<circle cx="495.15" cy="77.5" r="1.15" fill="#111"/>
<rect x="302.5" y="242.1" width="7.0" height="63" fill="#b40c34" stroke="#7d0b27" stroke-width="0.5"/>
<line x1="306" y1="241.51" x2="306" y2="242.69" stroke="#111" stroke-width="1"/>
<line x1="303.8" y1="241.51" x2="308.2" y2="241.51" stroke="#111" stroke-width="1"/>
<line x1="303.8" y1="242.69" x2="308.2" y2="242.69" stroke="#111" stroke-width="1"/>
<line x1="306" y1="305.1" x2="306" y2="307.7" stroke="#000" stroke-width="1.2"/>
<text transform="translate(308.9 315.6) rotate(-45)" font-size="6.7" text-anchor="end" fill="#222" stroke="#222" stroke-width="0.3">Mock</text>
<rect x="311.95" y="273.75" width="7.0" height="31.35" fill="#2d4d8c" stroke="#1e3566" stroke-width="0.5"/>
<line x1="315.45" y1="273.3" x2="315.45" y2="274.19" stroke="#111" stroke-width="1"/>
<line x1="313.25" y1="273.3" x2="317.65" y2="273.3" stroke="#111" stroke-width="1"/>
<line x1="313.25" y1="274.19" x2="317.65" y2="274.19" stroke="#111" stroke-width="1"/>
<line x1="315.45" y1="305.1" x2="315.45" y2="307.7" stroke="#000" stroke-width="1.2"/>
<text transform="translate(318.35 315.6) rotate(-45)" font-size="6.7" text-anchor="end" fill="#222" stroke="#222" stroke-width="0.3">Mock LMWH 0.15</text>
<rect x="321.4" y="277.72" width="7.0" height="27.38" fill="#5aa83f" stroke="#3c7a2c" stroke-width="0.5"/>
<line x1="324.9" y1="277.43" x2="324.9" y2="278.02" stroke="#111" stroke-width="1"/>
<line x1="322.7" y1="277.43" x2="327.1" y2="277.43" stroke="#111" stroke-width="1"/>
<line x1="322.7" y1="278.02" x2="327.1" y2="278.02" stroke="#111" stroke-width="1"/>
<line x1="324.9" y1="305.1" x2="324.9" y2="307.7" stroke="#000" stroke-width="1.2"/>
<text transform="translate(327.8 315.6) rotate(-45)" font-size="6.7" text-anchor="end" fill="#222" stroke="#222" stroke-width="0.3">Mock LMWH 0.5</text>
<rect x="330.85" y="279.05" width="7.0" height="26.05" fill="#ef9a1e" stroke="#b06e10" stroke-width="0.5"/>
<line x1="334.35" y1="278.31" x2="334.35" y2="279.78" stroke="#111" stroke-width="1"/>
<line x1="332.15" y1="278.31" x2="336.55" y2="278.31" stroke="#111" stroke-width="1"/>
<line x1="332.15" y1="279.78" x2="336.55" y2="279.78" stroke="#111" stroke-width="1"/>
<line x1="334.35" y1="305.1" x2="334.35" y2="307.7" stroke="#000" stroke-width="1.2"/>
<text transform="translate(337.25 315.6) rotate(-45)" font-size="6.7" text-anchor="end" fill="#222" stroke="#222" stroke-width="0.3">Mock LMWH 0.7</text>
<rect x="340.3" y="284.34" width="7.0" height="20.76" fill="#5a2a6f" stroke="#3c1a4c" stroke-width="0.5"/>
<line x1="343.8" y1="283.31" x2="343.8" y2="285.38" stroke="#111" stroke-width="1"/>
<line x1="341.6" y1="283.31" x2="346" y2="283.31" stroke="#111" stroke-width="1"/>
<line x1="341.6" y1="285.38" x2="346" y2="285.38" stroke="#111" stroke-width="1"/>
<line x1="343.8" y1="305.1" x2="343.8" y2="307.7" stroke="#000" stroke-width="1.2"/>
<text transform="translate(346.7 315.6) rotate(-45)" font-size="6.7" text-anchor="end" fill="#222" stroke="#222" stroke-width="0.3">Mock LMWH 1.2</text>
<rect x="355.8" y="240.18" width="7.0" height="64.92" fill="#b40c34" stroke="#7d0b27" stroke-width="0.5"/>
<line x1="359.3" y1="239.3" x2="359.3" y2="241.07" stroke="#111" stroke-width="1"/>
<line x1="357.1" y1="239.3" x2="361.5" y2="239.3" stroke="#111" stroke-width="1"/>
<line x1="357.1" y1="241.07" x2="361.5" y2="241.07" stroke="#111" stroke-width="1"/>
<line x1="359.3" y1="305.1" x2="359.3" y2="307.7" stroke="#000" stroke-width="1.2"/>
<text transform="translate(362.2 315.6) rotate(-45)" font-size="6.7" text-anchor="end" fill="#222" stroke="#222" stroke-width="0.3">NC</text>
<rect x="365.25" y="276.69" width="7.0" height="28.41" fill="#2d4d8c" stroke="#1e3566" stroke-width="0.5"/>
<line x1="368.75" y1="275.81" x2="368.75" y2="277.57" stroke="#111" stroke-width="1"/>
<line x1="366.55" y1="275.81" x2="370.95" y2="275.81" stroke="#111" stroke-width="1"/>
<line x1="366.55" y1="277.57" x2="370.95" y2="277.57" stroke="#111" stroke-width="1"/>
<line x1="368.75" y1="305.1" x2="368.75" y2="307.7" stroke="#000" stroke-width="1.2"/>
<text transform="translate(371.65 315.6) rotate(-45)" font-size="6.7" text-anchor="end" fill="#222" stroke="#222" stroke-width="0.3">NC LMWH 0.15</text>
<rect x="374.7" y="281.55" width="7.0" height="23.55" fill="#5aa83f" stroke="#3c7a2c" stroke-width="0.5"/>
<line x1="378.2" y1="278.31" x2="378.2" y2="284.79" stroke="#111" stroke-width="1"/>
<line x1="376" y1="278.31" x2="380.4" y2="278.31" stroke="#111" stroke-width="1"/>
<line x1="376" y1="284.79" x2="380.4" y2="284.79" stroke="#111" stroke-width="1"/>
<line x1="378.2" y1="305.1" x2="378.2" y2="307.7" stroke="#000" stroke-width="1.2"/>
<text transform="translate(381.1 315.6) rotate(-45)" font-size="6.7" text-anchor="end" fill="#222" stroke="#222" stroke-width="0.3">NC LMWH 0.5</text>
<rect x="384.15" y="275.22" width="7.0" height="29.88" fill="#ef9a1e" stroke="#b06e10" stroke-width="0.5"/>
<line x1="387.65" y1="274.34" x2="387.65" y2="276.1" stroke="#111" stroke-width="1"/>
<line x1="385.45" y1="274.34" x2="389.85" y2="274.34" stroke="#111" stroke-width="1"/>
<line x1="385.45" y1="276.1" x2="389.85" y2="276.1" stroke="#111" stroke-width="1"/>
<line x1="387.65" y1="305.1" x2="387.65" y2="307.7" stroke="#000" stroke-width="1.2"/>
<text transform="translate(390.55 315.6) rotate(-45)" font-size="6.7" text-anchor="end" fill="#222" stroke="#222" stroke-width="0.3">NC LMWH 0.7</text>
<rect x="393.6" y="280.52" width="7.0" height="24.58" fill="#5a2a6f" stroke="#3c1a4c" stroke-width="0.5"/>
<line x1="397.1" y1="280.08" x2="397.1" y2="280.96" stroke="#111" stroke-width="1"/>
<line x1="394.9" y1="280.08" x2="399.3" y2="280.08" stroke="#111" stroke-width="1"/>
<line x1="394.9" y1="280.96" x2="399.3" y2="280.96" stroke="#111" stroke-width="1"/>
<line x1="397.1" y1="305.1" x2="397.1" y2="307.7" stroke="#000" stroke-width="1.2"/>
<text transform="translate(400 315.6) rotate(-45)" font-size="6.7" text-anchor="end" fill="#222" stroke="#222" stroke-width="0.3">NC LMWH 1.2</text>
<rect x="409.1" y="257.55" width="7.0" height="47.55" fill="#b40c34" stroke="#7d0b27" stroke-width="0.5"/>
<line x1="412.6" y1="257.26" x2="412.6" y2="257.85" stroke="#111" stroke-width="1"/>
<line x1="410.4" y1="257.26" x2="414.8" y2="257.26" stroke="#111" stroke-width="1"/>
<line x1="410.4" y1="257.85" x2="414.8" y2="257.85" stroke="#111" stroke-width="1"/>
<line x1="412.6" y1="305.1" x2="412.6" y2="307.7" stroke="#000" stroke-width="1.2"/>
<text transform="translate(415.5 315.6) rotate(-45)" font-size="6.7" text-anchor="end" fill="#222" stroke="#222" stroke-width="0.3">DCN S2</text>
<rect x="418.55" y="274.78" width="7.0" height="30.32" fill="#2d4d8c" stroke="#1e3566" stroke-width="0.5"/>
<line x1="422.05" y1="274.19" x2="422.05" y2="275.37" stroke="#111" stroke-width="1"/>
<line x1="419.85" y1="274.19" x2="424.25" y2="274.19" stroke="#111" stroke-width="1"/>
<line x1="419.85" y1="275.37" x2="424.25" y2="275.37" stroke="#111" stroke-width="1"/>
<line x1="422.05" y1="305.1" x2="422.05" y2="307.7" stroke="#000" stroke-width="1.2"/>
<text transform="translate(424.95 315.6) rotate(-45)" font-size="6.7" text-anchor="end" fill="#222" stroke="#222" stroke-width="0.3">DCN S2 LMWH 0.15</text>
<rect x="428" y="276.69" width="7.0" height="28.41" fill="#5aa83f" stroke="#3c7a2c" stroke-width="0.5"/>
<line x1="431.5" y1="276.4" x2="431.5" y2="276.98" stroke="#111" stroke-width="1"/>
<line x1="429.3" y1="276.4" x2="433.7" y2="276.4" stroke="#111" stroke-width="1"/>
<line x1="429.3" y1="276.98" x2="433.7" y2="276.98" stroke="#111" stroke-width="1"/>
<line x1="431.5" y1="305.1" x2="431.5" y2="307.7" stroke="#000" stroke-width="1.2"/>
<text transform="translate(434.4 315.6) rotate(-45)" font-size="6.7" text-anchor="end" fill="#222" stroke="#222" stroke-width="0.3">DCN S2 LMWH 0.5</text>
<rect x="437.45" y="273.45" width="7.0" height="31.65" fill="#ef9a1e" stroke="#b06e10" stroke-width="0.5"/>
<line x1="440.95" y1="272.72" x2="440.95" y2="274.19" stroke="#111" stroke-width="1"/>
<line x1="438.75" y1="272.72" x2="443.15" y2="272.72" stroke="#111" stroke-width="1"/>
<line x1="438.75" y1="274.19" x2="443.15" y2="274.19" stroke="#111" stroke-width="1"/>
<line x1="440.95" y1="305.1" x2="440.95" y2="307.7" stroke="#000" stroke-width="1.2"/>
<text transform="translate(443.85 315.6) rotate(-45)" font-size="6.7" text-anchor="end" fill="#222" stroke="#222" stroke-width="0.3">DCN S2 LMWH 0.7</text>
<rect x="446.9" y="282.58" width="7.0" height="22.52" fill="#5a2a6f" stroke="#3c1a4c" stroke-width="0.5"/>
<line x1="450.4" y1="281.55" x2="450.4" y2="283.61" stroke="#111" stroke-width="1"/>
<line x1="448.2" y1="281.55" x2="452.6" y2="281.55" stroke="#111" stroke-width="1"/>
<line x1="448.2" y1="283.61" x2="452.6" y2="283.61" stroke="#111" stroke-width="1"/>
<line x1="450.4" y1="305.1" x2="450.4" y2="307.7" stroke="#000" stroke-width="1.2"/>
<text transform="translate(453.3 315.6) rotate(-45)" font-size="6.7" text-anchor="end" fill="#222" stroke="#222" stroke-width="0.3">DCN S2 LMWH 1.2</text>
<rect x="462.4" y="260.2" width="7.0" height="44.9" fill="#b40c34" stroke="#7d0b27" stroke-width="0.5"/>
<line x1="465.9" y1="258.29" x2="465.9" y2="262.12" stroke="#111" stroke-width="1"/>
<line x1="463.7" y1="258.29" x2="468.1" y2="258.29" stroke="#111" stroke-width="1"/>
<line x1="463.7" y1="262.12" x2="468.1" y2="262.12" stroke="#111" stroke-width="1"/>
<line x1="465.9" y1="305.1" x2="465.9" y2="307.7" stroke="#000" stroke-width="1.2"/>
<text transform="translate(468.8 315.6) rotate(-45)" font-size="6.7" text-anchor="end" fill="#222" stroke="#222" stroke-width="0.3">DCN S3</text>
<rect x="471.85" y="270.8" width="7.0" height="34.3" fill="#2d4d8c" stroke="#1e3566" stroke-width="0.5"/>
<line x1="475.35" y1="270.07" x2="475.35" y2="271.54" stroke="#111" stroke-width="1"/>
<line x1="473.15" y1="270.07" x2="477.55" y2="270.07" stroke="#111" stroke-width="1"/>
<line x1="473.15" y1="271.54" x2="477.55" y2="271.54" stroke="#111" stroke-width="1"/>
<line x1="475.35" y1="305.1" x2="475.35" y2="307.7" stroke="#000" stroke-width="1.2"/>
<text transform="translate(478.25 315.6) rotate(-45)" font-size="6.7" text-anchor="end" fill="#222" stroke="#222" stroke-width="0.3">DCN S3 LMWH 0.15</text>
<rect x="481.3" y="276.25" width="7.0" height="28.85" fill="#5aa83f" stroke="#3c7a2c" stroke-width="0.5"/>
<line x1="484.8" y1="275.66" x2="484.8" y2="276.84" stroke="#111" stroke-width="1"/>
<line x1="482.6" y1="275.66" x2="487" y2="275.66" stroke="#111" stroke-width="1"/>
<line x1="482.6" y1="276.84" x2="487" y2="276.84" stroke="#111" stroke-width="1"/>
<line x1="484.8" y1="305.1" x2="484.8" y2="307.7" stroke="#000" stroke-width="1.2"/>
<text transform="translate(487.7 315.6) rotate(-45)" font-size="6.7" text-anchor="end" fill="#222" stroke="#222" stroke-width="0.3">DCN S3 LMWH 0.5</text>
<rect x="490.75" y="271.24" width="7.0" height="33.86" fill="#ef9a1e" stroke="#b06e10" stroke-width="0.5"/>
<line x1="494.25" y1="270.21" x2="494.25" y2="272.27" stroke="#111" stroke-width="1"/>
<line x1="492.05" y1="270.21" x2="496.45" y2="270.21" stroke="#111" stroke-width="1"/>
<line x1="492.05" y1="272.27" x2="496.45" y2="272.27" stroke="#111" stroke-width="1"/>
<line x1="494.25" y1="305.1" x2="494.25" y2="307.7" stroke="#000" stroke-width="1.2"/>
<text transform="translate(497.15 315.6) rotate(-45)" font-size="6.7" text-anchor="end" fill="#222" stroke="#222" stroke-width="0.3">DCN S3 LMWH 0.7</text>
<rect x="500.2" y="282.87" width="7.0" height="22.23" fill="#5a2a6f" stroke="#3c1a4c" stroke-width="0.5"/>
<line x1="503.7" y1="282.14" x2="503.7" y2="283.61" stroke="#111" stroke-width="1"/>
<line x1="501.5" y1="282.14" x2="505.9" y2="282.14" stroke="#111" stroke-width="1"/>
<line x1="501.5" y1="283.61" x2="505.9" y2="283.61" stroke="#111" stroke-width="1"/>
<line x1="503.7" y1="305.1" x2="503.7" y2="307.7" stroke="#000" stroke-width="1.2"/>
<text transform="translate(506.6 315.6) rotate(-45)" font-size="6.7" text-anchor="end" fill="#222" stroke="#222" stroke-width="0.3">DCN S3 LMWH 1.2</text>
<line x1="351.55" y1="231.5" x2="351.55" y2="305.1" stroke="#000" stroke-width="1.2" stroke-dasharray="1.1 0.8"/>
<line x1="404.85" y1="231.5" x2="404.85" y2="305.1" stroke="#000" stroke-width="1.2" stroke-dasharray="1.1 0.8"/>
<line x1="458.15" y1="231.5" x2="458.15" y2="305.1" stroke="#000" stroke-width="1.2" stroke-dasharray="1.1 0.8"/>
<line x1="298.3" y1="228" x2="298.3" y2="305.8" stroke="#000" stroke-width="1.5"/>
<line x1="297.6" y1="305.1" x2="512.8" y2="305.1" stroke="#000" stroke-width="1.5"/>
<line x1="294.8" y1="305.1" x2="298.3" y2="305.1" stroke="#000" stroke-width="1.1"/>
<text x="292" y="307.4" font-size="6.4" text-anchor="end" fill="#333" stroke="#333" stroke-width="0.2">0</text>
<line x1="294.8" y1="290.38" x2="298.3" y2="290.38" stroke="#000" stroke-width="1.1"/>
<text x="292" y="292.68" font-size="6.4" text-anchor="end" fill="#333" stroke="#333" stroke-width="0.2">1</text>
<line x1="294.8" y1="275.66" x2="298.3" y2="275.66" stroke="#000" stroke-width="1.1"/>
<text x="292" y="277.96" font-size="6.4" text-anchor="end" fill="#333" stroke="#333" stroke-width="0.2">2</text>
<line x1="294.8" y1="260.94" x2="298.3" y2="260.94" stroke="#000" stroke-width="1.1"/>
<text x="292" y="263.24" font-size="6.4" text-anchor="end" fill="#333" stroke="#333" stroke-width="0.2">3</text>
<line x1="294.8" y1="246.22" x2="298.3" y2="246.22" stroke="#000" stroke-width="1.1"/>
<text x="292" y="248.52" font-size="6.4" text-anchor="end" fill="#333" stroke="#333" stroke-width="0.2">4</text>
<line x1="294.8" y1="231.5" x2="298.3" y2="231.5" stroke="#000" stroke-width="1.1"/>
<text x="292" y="233.8" font-size="6.4" text-anchor="end" fill="#333" stroke="#333" stroke-width="0.2">5</text>
<text transform="translate(283.1 264.2) rotate(-90)" font-size="8.8" text-anchor="middle" textLength="41.5" lengthAdjust="spacingAndGlyphs" fill="#333" stroke="#333" stroke-width="0.3">Cell index at 48h</text>
<text x="348" y="212.4" font-size="8.6" font-weight="bold" textLength="115" lengthAdjust="spacingAndGlyphs" fill="#000" stroke="#000" stroke-width="0.25">LMWH DCN CELL GROWTH</text>
<line x1="315.4" y1="263" x2="343.8" y2="263" stroke="#383838" stroke-width="1.3"/>
<circle cx="324.05" cy="257.8" r="1.15" fill="#111"/>
<circle cx="327.75" cy="257.8" r="1.15" fill="#111"/>
<circle cx="331.45" cy="257.8" r="1.15" fill="#111"/>
<circle cx="335.15" cy="257.8" r="1.15" fill="#111"/>
<line x1="369" y1="268.7" x2="397.4" y2="268.7" stroke="#383838" stroke-width="1.3"/>
<circle cx="377.65" cy="263.5" r="1.15" fill="#111"/>
<circle cx="381.35" cy="263.5" r="1.15" fill="#111"/>
<circle cx="385.05" cy="263.5" r="1.15" fill="#111"/>
<circle cx="388.75" cy="263.5" r="1.15" fill="#111"/>
<line x1="422.4" y1="267.7" x2="450.8" y2="267.7" stroke="#383838" stroke-width="1.3"/>
<circle cx="431.05" cy="262.5" r="1.15" fill="#111"/>
<circle cx="434.75" cy="262.5" r="1.15" fill="#111"/>
<circle cx="438.45" cy="262.5" r="1.15" fill="#111"/>
<circle cx="442.15" cy="262.5" r="1.15" fill="#111"/>
<circle cx="470.93" cy="264.77" r="1.15" fill="#111"/>
<circle cx="474.27" cy="264.77" r="1.15" fill="#111"/>
<circle cx="477.62" cy="264.77" r="1.15" fill="#111"/>
<circle cx="480.97" cy="264.77" r="1.15" fill="#111"/>
<circle cx="482.05" cy="270.36" r="1.15" fill="#111"/>
<circle cx="485.4" cy="270.36" r="1.15" fill="#111"/>
<circle cx="488.75" cy="270.36" r="1.15" fill="#111"/>
<circle cx="489.83" cy="264.91" r="1.15" fill="#111"/>
<circle cx="493.18" cy="264.91" r="1.15" fill="#111"/>
<circle cx="496.53" cy="264.91" r="1.15" fill="#111"/>
<circle cx="499.88" cy="264.91" r="1.15" fill="#111"/>
<circle cx="500.95" cy="276.84" r="1.15" fill="#111"/>
<circle cx="504.3" cy="276.84" r="1.15" fill="#111"/>
<circle cx="507.65" cy="276.84" r="1.15" fill="#111"/>
<rect x="302.5" y="433.79" width="7.0" height="57.51" fill="#b40c34" stroke="#7d0b27" stroke-width="0.5"/>
<line x1="306" y1="433.26" x2="306" y2="434.32" stroke="#111" stroke-width="1"/>
<line x1="303.8" y1="433.26" x2="308.2" y2="433.26" stroke="#111" stroke-width="1"/>
<line x1="303.8" y1="434.32" x2="308.2" y2="434.32" stroke="#111" stroke-width="1"/>
<line x1="306" y1="491.3" x2="306" y2="493.9" stroke="#000" stroke-width="1.2"/>
<text transform="translate(308.9 501.8) rotate(-45)" font-size="6.7" text-anchor="end" fill="#222" stroke="#222" stroke-width="0.3">Mock No Heparin</text>
<rect x="311.95" y="451.11" width="7.0" height="40.19" fill="#2d4d8c" stroke="#1e3566" stroke-width="0.5"/>
<line x1="315.45" y1="450.32" x2="315.45" y2="451.9" stroke="#111" stroke-width="1"/>
<line x1="313.25" y1="450.32" x2="317.65" y2="450.32" stroke="#111" stroke-width="1"/>
<line x1="313.25" y1="451.9" x2="317.65" y2="451.9" stroke="#111" stroke-width="1"/>
<line x1="315.45" y1="491.3" x2="315.45" y2="493.9" stroke="#000" stroke-width="1.2"/>
<text transform="translate(318.35 501.8) rotate(-45)" font-size="6.7" text-anchor="end" fill="#222" stroke="#222" stroke-width="0.3">Mock 0.010mg/ml NAC</text>
<rect x="321.4" y="448.86" width="7.0" height="42.44" fill="#5aa83f" stroke="#3c7a2c" stroke-width="0.5"/>
<line x1="324.9" y1="445.16" x2="324.9" y2="452.57" stroke="#111" stroke-width="1"/>
<line x1="322.7" y1="445.16" x2="327.1" y2="445.16" stroke="#111" stroke-width="1"/>
<line x1="322.7" y1="452.57" x2="327.1" y2="452.57" stroke="#111" stroke-width="1"/>
<line x1="324.9" y1="491.3" x2="324.9" y2="493.9" stroke="#000" stroke-width="1.2"/>
<text transform="translate(327.8 501.8) rotate(-45)" font-size="6.7" text-anchor="end" fill="#222" stroke="#222" stroke-width="0.3">Mock 0.026mg/ml NAC</text>
<rect x="330.85" y="446.35" width="7.0" height="44.95" fill="#ef9a1e" stroke="#b06e10" stroke-width="0.5"/>
<line x1="334.35" y1="443.05" x2="334.35" y2="449.66" stroke="#111" stroke-width="1"/>
<line x1="332.15" y1="443.05" x2="336.55" y2="443.05" stroke="#111" stroke-width="1"/>
<line x1="332.15" y1="449.66" x2="336.55" y2="449.66" stroke="#111" stroke-width="1"/>
<line x1="334.35" y1="491.3" x2="334.35" y2="493.9" stroke="#000" stroke-width="1.2"/>
<text transform="translate(337.25 501.8) rotate(-45)" font-size="6.7" text-anchor="end" fill="#222" stroke="#222" stroke-width="0.3">Mock 0.040mg/ml NAC</text>
<rect x="340.3" y="456.93" width="7.0" height="34.37" fill="#5a2a6f" stroke="#3c1a4c" stroke-width="0.5"/>
<line x1="343.8" y1="452.96" x2="343.8" y2="460.89" stroke="#111" stroke-width="1"/>
<line x1="341.6" y1="452.96" x2="346" y2="452.96" stroke="#111" stroke-width="1"/>
<line x1="341.6" y1="460.89" x2="346" y2="460.89" stroke="#111" stroke-width="1"/>
<line x1="343.8" y1="491.3" x2="343.8" y2="493.9" stroke="#000" stroke-width="1.2"/>
<text transform="translate(346.7 501.8) rotate(-45)" font-size="6.7" text-anchor="end" fill="#222" stroke="#222" stroke-width="0.3">Mock 0.079mg/ml NAC</text>
<rect x="355.8" y="432.07" width="7.0" height="59.23" fill="#b40c34" stroke="#7d0b27" stroke-width="0.5"/>
<line x1="359.3" y1="431.41" x2="359.3" y2="432.74" stroke="#111" stroke-width="1"/>
<line x1="357.1" y1="431.41" x2="361.5" y2="431.41" stroke="#111" stroke-width="1"/>
<line x1="357.1" y1="432.74" x2="361.5" y2="432.74" stroke="#111" stroke-width="1"/>
<line x1="359.3" y1="491.3" x2="359.3" y2="493.9" stroke="#000" stroke-width="1.2"/>
<text transform="translate(362.2 501.8) rotate(-45)" font-size="6.7" text-anchor="end" fill="#222" stroke="#222" stroke-width="0.3">NC No Heparin</text>
<rect x="365.25" y="453.36" width="7.0" height="37.94" fill="#2d4d8c" stroke="#1e3566" stroke-width="0.5"/>
<line x1="368.75" y1="452.7" x2="368.75" y2="454.02" stroke="#111" stroke-width="1"/>
<line x1="366.55" y1="452.7" x2="370.95" y2="452.7" stroke="#111" stroke-width="1"/>
<line x1="366.55" y1="454.02" x2="370.95" y2="454.02" stroke="#111" stroke-width="1"/>
<line x1="368.75" y1="491.3" x2="368.75" y2="493.9" stroke="#000" stroke-width="1.2"/>
<text transform="translate(371.65 501.8) rotate(-45)" font-size="6.7" text-anchor="end" fill="#222" stroke="#222" stroke-width="0.3">NC 0.010mg/ml NAC</text>
<rect x="374.7" y="449.39" width="7.0" height="41.91" fill="#5aa83f" stroke="#3c7a2c" stroke-width="0.5"/>
<line x1="378.2" y1="442.39" x2="378.2" y2="456.4" stroke="#111" stroke-width="1"/>
<line x1="376" y1="442.39" x2="380.4" y2="442.39" stroke="#111" stroke-width="1"/>
<line x1="376" y1="456.4" x2="380.4" y2="456.4" stroke="#111" stroke-width="1"/>
<line x1="378.2" y1="491.3" x2="378.2" y2="493.9" stroke="#000" stroke-width="1.2"/>
<text transform="translate(381.1 501.8) rotate(-45)" font-size="6.7" text-anchor="end" fill="#222" stroke="#222" stroke-width="0.3">NC 0.026mg/ml NAC</text>
<rect x="384.15" y="448.34" width="7.0" height="42.97" fill="#ef9a1e" stroke="#b06e10" stroke-width="0.5"/>
<line x1="387.65" y1="443.05" x2="387.65" y2="453.62" stroke="#111" stroke-width="1"/>
<line x1="385.45" y1="443.05" x2="389.85" y2="443.05" stroke="#111" stroke-width="1"/>
<line x1="385.45" y1="453.62" x2="389.85" y2="453.62" stroke="#111" stroke-width="1"/>
<line x1="387.65" y1="491.3" x2="387.65" y2="493.9" stroke="#000" stroke-width="1.2"/>
<text transform="translate(390.55 501.8) rotate(-45)" font-size="6.7" text-anchor="end" fill="#222" stroke="#222" stroke-width="0.3">NC 0.040mg/ml NAC</text>
<rect x="393.6" y="455.21" width="7.0" height="36.09" fill="#5a2a6f" stroke="#3c1a4c" stroke-width="0.5"/>
<line x1="397.1" y1="451.24" x2="397.1" y2="459.18" stroke="#111" stroke-width="1"/>
<line x1="394.9" y1="451.24" x2="399.3" y2="451.24" stroke="#111" stroke-width="1"/>
<line x1="394.9" y1="459.18" x2="399.3" y2="459.18" stroke="#111" stroke-width="1"/>
<line x1="397.1" y1="491.3" x2="397.1" y2="493.9" stroke="#000" stroke-width="1.2"/>
<text transform="translate(400 501.8) rotate(-45)" font-size="6.7" text-anchor="end" fill="#222" stroke="#222" stroke-width="0.3">NC 0.079mg/ml NAC</text>
<rect x="409.1" y="448.47" width="7.0" height="42.83" fill="#b40c34" stroke="#7d0b27" stroke-width="0.5"/>
<line x1="412.6" y1="448.2" x2="412.6" y2="448.73" stroke="#111" stroke-width="1"/>
<line x1="410.4" y1="448.2" x2="414.8" y2="448.2" stroke="#111" stroke-width="1"/>
<line x1="410.4" y1="448.73" x2="414.8" y2="448.73" stroke="#111" stroke-width="1"/>
<line x1="412.6" y1="491.3" x2="412.6" y2="493.9" stroke="#000" stroke-width="1.2"/>
<text transform="translate(415.5 501.8) rotate(-45)" font-size="6.7" text-anchor="end" fill="#222" stroke="#222" stroke-width="0.3">DCNS2 No Heparin</text>
<rect x="418.55" y="457.72" width="7.0" height="33.58" fill="#2d4d8c" stroke="#1e3566" stroke-width="0.5"/>
<line x1="422.05" y1="457.19" x2="422.05" y2="458.25" stroke="#111" stroke-width="1"/>
<line x1="419.85" y1="457.19" x2="424.25" y2="457.19" stroke="#111" stroke-width="1"/>
<line x1="419.85" y1="458.25" x2="424.25" y2="458.25" stroke="#111" stroke-width="1"/>
<line x1="422.05" y1="491.3" x2="422.05" y2="493.9" stroke="#000" stroke-width="1.2"/>
<text transform="translate(424.95 501.8) rotate(-45)" font-size="6.7" text-anchor="end" fill="#222" stroke="#222" stroke-width="0.3">DCNS2 0.010mg/ml NAC</text>
<rect x="428" y="440.4" width="7.0" height="50.9" fill="#5aa83f" stroke="#3c7a2c" stroke-width="0.5"/>
<line x1="431.5" y1="439.08" x2="431.5" y2="441.73" stroke="#111" stroke-width="1"/>
<line x1="429.3" y1="439.08" x2="433.7" y2="439.08" stroke="#111" stroke-width="1"/>
<line x1="429.3" y1="441.73" x2="433.7" y2="441.73" stroke="#111" stroke-width="1"/>
<line x1="431.5" y1="491.3" x2="431.5" y2="493.9" stroke="#000" stroke-width="1.2"/>
<text transform="translate(434.4 501.8) rotate(-45)" font-size="6.7" text-anchor="end" fill="#222" stroke="#222" stroke-width="0.3">DCNS2 0.026mg/ml NAC</text>
<rect x="437.45" y="441.46" width="7.0" height="49.84" fill="#ef9a1e" stroke="#b06e10" stroke-width="0.5"/>
<line x1="440.95" y1="441.2" x2="440.95" y2="441.73" stroke="#111" stroke-width="1"/>
<line x1="438.75" y1="441.2" x2="443.15" y2="441.2" stroke="#111" stroke-width="1"/>
<line x1="438.75" y1="441.73" x2="443.15" y2="441.73" stroke="#111" stroke-width="1"/>
<line x1="440.95" y1="491.3" x2="440.95" y2="493.9" stroke="#000" stroke-width="1.2"/>
<text transform="translate(443.85 501.8) rotate(-45)" font-size="6.7" text-anchor="end" fill="#222" stroke="#222" stroke-width="0.3">DCNS2 0.040mg/ml NAC</text>
<rect x="446.9" y="450.45" width="7.0" height="40.85" fill="#5a2a6f" stroke="#3c1a4c" stroke-width="0.5"/>
<line x1="450.4" y1="449.39" x2="450.4" y2="451.51" stroke="#111" stroke-width="1"/>
<line x1="448.2" y1="449.39" x2="452.6" y2="449.39" stroke="#111" stroke-width="1"/>
<line x1="448.2" y1="451.51" x2="452.6" y2="451.51" stroke="#111" stroke-width="1"/>
<line x1="450.4" y1="491.3" x2="450.4" y2="493.9" stroke="#000" stroke-width="1.2"/>
<text transform="translate(453.3 501.8) rotate(-45)" font-size="6.7" text-anchor="end" fill="#222" stroke="#222" stroke-width="0.3">DCNS2 0.079mg/ml NAC</text>
<rect x="462.4" y="450.45" width="7.0" height="40.85" fill="#b40c34" stroke="#7d0b27" stroke-width="0.5"/>
<line x1="465.9" y1="448.86" x2="465.9" y2="452.04" stroke="#111" stroke-width="1"/>
<line x1="463.7" y1="448.86" x2="468.1" y2="448.86" stroke="#111" stroke-width="1"/>
<line x1="463.7" y1="452.04" x2="468.1" y2="452.04" stroke="#111" stroke-width="1"/>
<line x1="465.9" y1="491.3" x2="465.9" y2="493.9" stroke="#000" stroke-width="1.2"/>
<text transform="translate(468.8 501.8) rotate(-45)" font-size="6.7" text-anchor="end" fill="#222" stroke="#222" stroke-width="0.3">DCNS3 No Heparin</text>
<rect x="471.85" y="455.34" width="7.0" height="35.96" fill="#2d4d8c" stroke="#1e3566" stroke-width="0.5"/>
<line x1="475.35" y1="454.81" x2="475.35" y2="455.87" stroke="#111" stroke-width="1"/>
<line x1="473.15" y1="454.81" x2="477.55" y2="454.81" stroke="#111" stroke-width="1"/>
<line x1="473.15" y1="455.87" x2="477.55" y2="455.87" stroke="#111" stroke-width="1"/>
<line x1="475.35" y1="491.3" x2="475.35" y2="493.9" stroke="#000" stroke-width="1.2"/>
<text transform="translate(478.25 501.8) rotate(-45)" font-size="6.7" text-anchor="end" fill="#222" stroke="#222" stroke-width="0.3">DCNS3 0.010mg/ml NAC</text>
<rect x="481.3" y="445.16" width="7.0" height="46.14" fill="#5aa83f" stroke="#3c7a2c" stroke-width="0.5"/>
<line x1="484.8" y1="444.63" x2="484.8" y2="445.69" stroke="#111" stroke-width="1"/>
<line x1="482.6" y1="444.63" x2="487" y2="444.63" stroke="#111" stroke-width="1"/>
<line x1="482.6" y1="445.69" x2="487" y2="445.69" stroke="#111" stroke-width="1"/>
<line x1="484.8" y1="491.3" x2="484.8" y2="493.9" stroke="#000" stroke-width="1.2"/>
<text transform="translate(487.7 501.8) rotate(-45)" font-size="6.7" text-anchor="end" fill="#222" stroke="#222" stroke-width="0.3">DCNS3 0.026mg/ml NAC</text>
<rect x="490.75" y="442.65" width="7.0" height="48.65" fill="#ef9a1e" stroke="#b06e10" stroke-width="0.5"/>
<line x1="494.25" y1="440.01" x2="494.25" y2="445.29" stroke="#111" stroke-width="1"/>
<line x1="492.05" y1="440.01" x2="496.45" y2="440.01" stroke="#111" stroke-width="1"/>
<line x1="492.05" y1="445.29" x2="496.45" y2="445.29" stroke="#111" stroke-width="1"/>
<line x1="494.25" y1="491.3" x2="494.25" y2="493.9" stroke="#000" stroke-width="1.2"/>
<text transform="translate(497.15 501.8) rotate(-45)" font-size="6.7" text-anchor="end" fill="#222" stroke="#222" stroke-width="0.3">DCNS3 0.040mg/ml NAC</text>
<rect x="500.2" y="451.9" width="7.0" height="39.4" fill="#5a2a6f" stroke="#3c1a4c" stroke-width="0.5"/>
<line x1="503.7" y1="450.85" x2="503.7" y2="452.96" stroke="#111" stroke-width="1"/>
<line x1="501.5" y1="450.85" x2="505.9" y2="450.85" stroke="#111" stroke-width="1"/>
<line x1="501.5" y1="452.96" x2="505.9" y2="452.96" stroke="#111" stroke-width="1"/>
<line x1="503.7" y1="491.3" x2="503.7" y2="493.9" stroke="#000" stroke-width="1.2"/>
<text transform="translate(506.6 501.8) rotate(-45)" font-size="6.7" text-anchor="end" fill="#222" stroke="#222" stroke-width="0.3">DCNS3 0.079mg/ml NAC</text>
<line x1="351.55" y1="425.2" x2="351.55" y2="491.3" stroke="#000" stroke-width="1.2" stroke-dasharray="1.1 0.8"/>
<line x1="404.85" y1="425.2" x2="404.85" y2="491.3" stroke="#000" stroke-width="1.2" stroke-dasharray="1.1 0.8"/>
<line x1="458.15" y1="425.2" x2="458.15" y2="491.3" stroke="#000" stroke-width="1.2" stroke-dasharray="1.1 0.8"/>
<line x1="298.3" y1="421.7" x2="298.3" y2="492" stroke="#000" stroke-width="1.5"/>
<line x1="297.6" y1="491.3" x2="512.8" y2="491.3" stroke="#000" stroke-width="1.5"/>
<line x1="294.8" y1="491.3" x2="298.3" y2="491.3" stroke="#000" stroke-width="1.1"/>
<text x="292" y="493.6" font-size="6.4" text-anchor="end" fill="#333" stroke="#333" stroke-width="0.2">0</text>
<line x1="294.8" y1="478.08" x2="298.3" y2="478.08" stroke="#000" stroke-width="1.1"/>
<text x="292" y="480.38" font-size="6.4" text-anchor="end" fill="#333" stroke="#333" stroke-width="0.2">1</text>
<line x1="294.8" y1="464.86" x2="298.3" y2="464.86" stroke="#000" stroke-width="1.1"/>
<text x="292" y="467.16" font-size="6.4" text-anchor="end" fill="#333" stroke="#333" stroke-width="0.2">2</text>
<line x1="294.8" y1="451.64" x2="298.3" y2="451.64" stroke="#000" stroke-width="1.1"/>
<text x="292" y="453.94" font-size="6.4" text-anchor="end" fill="#333" stroke="#333" stroke-width="0.2">3</text>
<line x1="294.8" y1="438.42" x2="298.3" y2="438.42" stroke="#000" stroke-width="1.1"/>
<text x="292" y="440.72" font-size="6.4" text-anchor="end" fill="#333" stroke="#333" stroke-width="0.2">4</text>
<line x1="294.8" y1="425.2" x2="298.3" y2="425.2" stroke="#000" stroke-width="1.1"/>
<text x="292" y="427.5" font-size="6.4" text-anchor="end" fill="#333" stroke="#333" stroke-width="0.2">5</text>
<text transform="translate(283.1 456) rotate(-90)" font-size="8.8" text-anchor="middle" textLength="43" lengthAdjust="spacingAndGlyphs" fill="#333" stroke="#333" stroke-width="0.3">Cell index at 48h</text>
<text x="353" y="398.8" font-size="8.6" font-weight="bold" textLength="105" lengthAdjust="spacingAndGlyphs" fill="#000" stroke="#000" stroke-width="0.25">NAC DCN CELL GROWTH</text>
<circle cx="316.05" cy="444.92" r="1.15" fill="#111"/>
<circle cx="341.05" cy="447.56" r="1.15" fill="#111"/>
<circle cx="344.4" cy="447.56" r="1.15" fill="#111"/>
<circle cx="347.75" cy="447.56" r="1.15" fill="#111"/>
<circle cx="367.68" cy="447.3" r="1.15" fill="#111"/>
<circle cx="371.03" cy="447.3" r="1.15" fill="#111"/>
<circle cx="378.8" cy="436.99" r="1.15" fill="#111"/>
<circle cx="388.25" cy="437.65" r="1.15" fill="#111"/>
<circle cx="394.35" cy="445.84" r="1.15" fill="#111"/>
<circle cx="397.7" cy="445.84" r="1.15" fill="#111"/>
<circle cx="401.05" cy="445.84" r="1.15" fill="#111"/>
<rect x="0" y="0" width="520" height="1.25" fill="#000"/>
<rect x="0" y="0" width="1.3" height="562" fill="#000"/>
<rect x="518.4" y="0" width="1.6" height="562" fill="#000"/>
<rect x="0" y="560.2" width="520" height="1.8" fill="#000"/>
</svg></body></html>
